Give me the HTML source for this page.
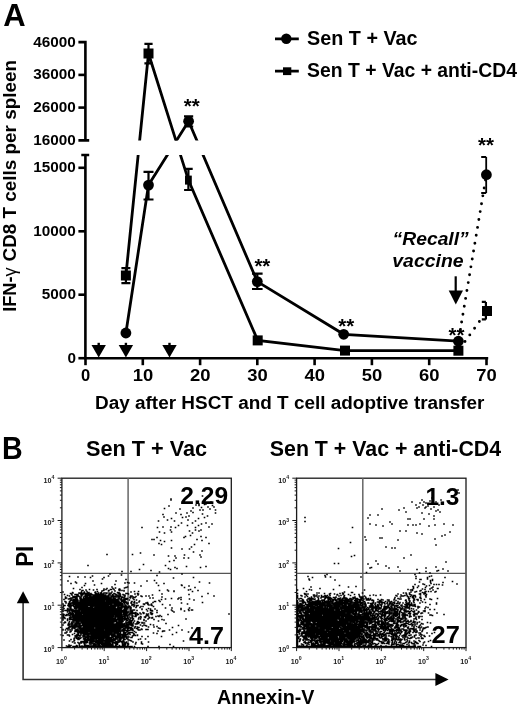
<!DOCTYPE html>
<html><head><meta charset="utf-8"><style>
html,body{margin:0;padding:0;background:#fff;width:520px;height:705px;overflow:hidden}
svg{display:block;will-change:transform;filter:blur(0.4px);font-family:"Liberation Sans",sans-serif}
</style></head><body>
<svg width="520" height="705" viewBox="0 0 520 705">
<rect width="520" height="705" fill="#fff"/>
<g stroke="#000" stroke-width="2.6" fill="none" stroke-linecap="butt"><path d="M78.4 42.1H85.4V140.4M78.4 140.4H89.2"/><path d="M81.3 155.0H89.2M85.4 155.0V358.2"/><path d="M78.4 74.9H85.4"/><path d="M78.4 107.6H85.4"/><path d="M78.4 167.8H85.4"/><path d="M78.4 231.3H85.4"/><path d="M78.4 294.7H85.4"/><path d="M78.4 358.2H85.4"/><path d="M84.10000000000001 358.2H488.2"/><path d="M85.5 358.2V365.2"/><path d="M142.8 358.2V365.2"/><path d="M200.1 358.2V365.2"/><path d="M257.3 358.2V365.2"/><path d="M314.6 358.2V365.2"/><path d="M371.9 358.2V365.2"/><path d="M429.2 358.2V365.2"/><path d="M486.5 358.2V365.2"/></g><g font-weight="bold" font-size="15.3" fill="#000" text-anchor="end"><text x="75.9" y="46.6">46000</text><text x="75.9" y="79.4">36000</text><text x="75.9" y="112.1">26000</text><text x="75.9" y="144.9">16000</text><text x="75.9" y="172.3">15000</text><text x="75.9" y="235.8">10000</text><text x="75.9" y="299.2">5000</text><text x="75.9" y="362.7">0</text></g><g font-weight="bold" font-size="16.5" fill="#000" text-anchor="middle"><text x="85.6" y="381.2">0</text><text x="142.9" y="381.2" textLength="20.5" lengthAdjust="spacingAndGlyphs">10</text><text x="200.2" y="381.2" textLength="20.5" lengthAdjust="spacingAndGlyphs">20</text><text x="257.4" y="381.2" textLength="20.5" lengthAdjust="spacingAndGlyphs">30</text><text x="314.7" y="381.2" textLength="20.5" lengthAdjust="spacingAndGlyphs">40</text><text x="372.0" y="381.2" textLength="20.5" lengthAdjust="spacingAndGlyphs">50</text><text x="429.3" y="381.2" textLength="20.5" lengthAdjust="spacingAndGlyphs">60</text><text x="486.6" y="381.2" textLength="20.5" lengthAdjust="spacingAndGlyphs">70</text></g><defs><clipPath id="cg"><rect x="80" y="20" width="420" height="120.4"/><rect x="80" y="155.0" width="420" height="210"/></clipPath></defs><g stroke="#000" stroke-width="2.8" fill="none" stroke-linejoin="miter" clip-path="url(#cg)"><path d="M125.9 333.0L148.5 185.1L188.6 121.3L257.3 281.6L343.7 334.3L458.4 341.2"/><path d="M125.9 275.5L148.5 53.5L188.4 180.1L257.7 340.4L345.0 350.6L458.4 350.7"/></g><g stroke="#000" stroke-width="2.9" fill="none" stroke-linecap="round"><path d="M460.29 329.96h0M461.62 322.07h0M462.94 314.18h0M464.27 306.29h0M465.60 298.40h0M466.92 290.51h0M468.25 282.62h0M469.58 274.73h0M470.90 266.84h0M472.23 258.95h0M473.56 251.07h0M474.88 243.18h0M476.21 235.29h0M477.54 227.40h0M478.86 219.51h0M480.19 211.62h0M481.52 203.73h0M482.84 195.84h0M484.17 187.95h0M485.50 180.06h0"/><path d="M465.01 341.53h0M469.80 334.88h0M474.59 328.22h0M479.38 321.57h0M484.18 314.92h0"/></g><g stroke="#000" stroke-width="2.2" fill="none"><path d="M148.5 43.9V63.3M144.4 43.9H152.6M144.4 63.3H152.6"/><path d="M148.5 171.9V199.5M143.5 171.9H153.5M143.5 199.5H153.5"/><path d="M188.6 116.3V126.5M184.0 116.3H193.2M184.0 126.5H193.2"/><path d="M188.4 168.8V190.0M184.1 168.8H192.70000000000002M184.1 190.0H192.70000000000002"/><path d="M125.9 268.2V283.1M121.4 268.2H130.4M121.4 283.1H130.4"/><path d="M257.3 273.7V289.0M252.0 273.7H262.6M252.0 289.0H262.6"/><path stroke-width="1.8" d="M486.2 157.0V193.0M481.2 157.0H486.2M481.2 193.0H486.2"/><path d="M485.9 301.9V319.4M481.8 301.9H485.9M481.8 319.4H485.9"/></g><g fill="#000"><circle cx="125.9" cy="333.0" r="5.4"/><circle cx="148.5" cy="185.1" r="5.4"/><circle cx="188.6" cy="121.3" r="5.4"/><circle cx="257.3" cy="281.6" r="5.4"/><circle cx="343.7" cy="334.3" r="5.4"/><circle cx="458.4" cy="341.2" r="5.4"/><circle cx="486.4" cy="174.7" r="5.4"/><rect x="120.9" y="270.5" width="10" height="10"/><rect x="143.5" y="48.5" width="10" height="10"/><rect x="185.0" y="175.6" width="6.8" height="9"/><rect x="252.7" y="335.4" width="10" height="10"/><rect x="340.0" y="345.6" width="10" height="10"/><rect x="453.4" y="345.7" width="10" height="10"/><rect x="482.0" y="306.0" width="10" height="10"/></g><g fill="#000"><path d="M91.5 345.0L105.9 345.0L98.7 357.5Z"/><rect x="97.5" y="342.8" width="2.4" height="2.7"/><path d="M118.7 345.0L133.1 345.0L125.9 357.5Z"/><rect x="124.7" y="342.8" width="2.4" height="2.7"/><path d="M162.3 345.0L176.7 345.0L169.5 357.5Z"/><rect x="168.3" y="342.8" width="2.4" height="2.7"/><rect x="454.6" y="276.3" width="2.2" height="15"/><path d="M448.7 290.4L463.0 290.4L455.8 304.6Z"/></g><g font-weight="bold" font-size="20.5" fill="#000"><text x="183.8" y="112.9">**</text><text x="254.4" y="272.6">**</text><text x="338.3" y="332.9">**</text><text x="448.6" y="342.2">**</text><text x="478.0" y="152.3">**</text></g><g stroke="#000" stroke-width="2.8"><path d="M275 38.8H298.8M275 71.2H298.8"/></g><circle cx="286.3" cy="38.8" r="5.2"/><rect x="283" y="67.3" width="8.3" height="7.8"/><g font-weight="bold" fill="#000"><text x="3.20" y="26.10" font-size="31.0">A</text><text x="2.00" y="458.70" font-size="31.0" textLength="20.66" lengthAdjust="spacingAndGlyphs">B</text><text x="307.10" y="44.70" font-size="19.5" textLength="110.47" lengthAdjust="spacingAndGlyphs">Sen T + Vac</text><text x="307.10" y="77.20" font-size="19.5" textLength="209.85" lengthAdjust="spacingAndGlyphs">Sen T + Vac + anti-CD4</text><text x="392.60" y="244.80" font-size="18.0" font-style="italic" textLength="76.14" lengthAdjust="spacingAndGlyphs">“Recall”</text><text x="392.30" y="266.70" font-size="18.0" font-style="italic" textLength="71.25" lengthAdjust="spacingAndGlyphs">vaccine</text><text transform="translate(16.20 311.80) rotate(-90)" font-size="18.8" textLength="44.46" lengthAdjust="spacingAndGlyphs">IFN-<tspan font-weight="normal" font-size="19">γ</tspan></text><text transform="translate(16.20 261.50) rotate(-90)" font-size="18.8" textLength="201.44" lengthAdjust="spacingAndGlyphs">CD8 T cells per spleen</text><text x="95.00" y="408.60" font-size="18.9" textLength="389.43" lengthAdjust="spacingAndGlyphs">Day after HSCT and T cell adoptive transfer</text><text x="86.10" y="456.40" font-size="21.4" textLength="121.02" lengthAdjust="spacingAndGlyphs">Sen T + Vac</text><text x="269.80" y="456.40" font-size="21.4" textLength="231.33" lengthAdjust="spacingAndGlyphs">Sen T + Vac + anti-CD4</text><text transform="translate(32.60 566.80) rotate(-90)" font-size="23.5" textLength="21.13" lengthAdjust="spacingAndGlyphs">PI</text><text x="217.00" y="703.50" font-size="19.5" textLength="97.46" lengthAdjust="spacingAndGlyphs">Annexin-V</text><text x="180.30" y="504.10" font-size="24.0" textLength="47.79" lengthAdjust="spacingAndGlyphs">2.29</text><text x="189.00" y="643.70" font-size="24.0" textLength="34.95" lengthAdjust="spacingAndGlyphs">4.7</text><text x="425.40" y="504.70" font-size="24.0" textLength="33.95" lengthAdjust="spacingAndGlyphs">1.3</text><text x="431.50" y="643.20" font-size="24.0" textLength="28.33" lengthAdjust="spacingAndGlyphs">27</text></g><g stroke="#333" stroke-width="1.6" fill="none"><path d="M23.1 602L23.1 679.5L436 679.5"/></g><path d="M16.8 603.2L29.4 603.2L23.1 591.2Z"/><path d="M435.4 673L448.6 679.4L435.4 686Z"/><g stroke="#1a1a1a" stroke-width="1.3" fill="none"><rect x="61.9" y="478.2" width="169.4" height="169.4"/><path d="M128.1 478.2V647.6" stroke="#666" stroke-width="1.5"/><path d="M61.9 573.3H231.3" stroke="#555" stroke-width="1.2"/><path d="M57.6 647.6H61.9M61.9 647.6V651.1M59.9 634.9H61.9M74.6 647.6V649.6M59.9 627.4H61.9M82.1 647.6V649.6M59.9 622.1H61.9M87.4 647.6V649.6M59.9 618.0H61.9M91.5 647.6V649.6M59.9 614.6H61.9M94.9 647.6V649.6M59.9 611.8H61.9M97.7 647.6V649.6M59.9 609.4H61.9M100.1 647.6V649.6M59.9 607.2H61.9M102.3 647.6V649.6M57.6 605.2H61.9M104.2 647.6V651.1M59.9 592.5H61.9M117.0 647.6V649.6M59.9 585.0H61.9M124.5 647.6V649.6M59.9 579.8H61.9M129.7 647.6V649.6M59.9 575.6H61.9M133.9 647.6V649.6M59.9 572.3H61.9M137.2 647.6V649.6M59.9 569.5H61.9M140.0 647.6V649.6M59.9 567.0H61.9M142.5 647.6V649.6M59.9 564.8H61.9M144.7 647.6V649.6M57.6 562.9H61.9M146.6 647.6V651.1M59.9 550.2H61.9M159.3 647.6V649.6M59.9 542.7H61.9M166.8 647.6V649.6M59.9 537.4H61.9M172.1 647.6V649.6M59.9 533.3H61.9M176.2 647.6V649.6M59.9 529.9H61.9M179.6 647.6V649.6M59.9 527.1H61.9M182.4 647.6V649.6M59.9 524.7H61.9M184.8 647.6V649.6M59.9 522.5H61.9M187.0 647.6V649.6M57.6 520.5H61.9M189.0 647.6V651.1M59.9 507.8H61.9M201.7 647.6V649.6M59.9 500.3H61.9M209.2 647.6V649.6M59.9 495.1H61.9M214.4 647.6V649.6M59.9 490.9H61.9M218.6 647.6V649.6M59.9 487.6H61.9M221.9 647.6V649.6M59.9 484.8H61.9M224.7 647.6V649.6M59.9 482.3H61.9M227.2 647.6V649.6M59.9 480.1H61.9M229.4 647.6V649.6M57.6 478.2H61.9M231.3 647.6V651.1" stroke-width="1"/></g><g font-weight="bold" font-size="7.2" fill="#222"><text x="43.5" y="652.2">10<tspan font-size="5.2" dy="-3.6">0</tspan></text><text x="56.1" y="664.0">10<tspan font-size="5.2" dy="-3.6">0</tspan></text><text x="43.5" y="609.9">10<tspan font-size="5.2" dy="-3.6">1</tspan></text><text x="98.5" y="664.0">10<tspan font-size="5.2" dy="-3.6">1</tspan></text><text x="43.5" y="567.5">10<tspan font-size="5.2" dy="-3.6">2</tspan></text><text x="140.8" y="664.0">10<tspan font-size="5.2" dy="-3.6">2</tspan></text><text x="43.5" y="525.1">10<tspan font-size="5.2" dy="-3.6">3</tspan></text><text x="183.2" y="664.0">10<tspan font-size="5.2" dy="-3.6">3</tspan></text><text x="43.5" y="482.8">10<tspan font-size="5.2" dy="-3.6">4</tspan></text><text x="225.5" y="664.0">10<tspan font-size="5.2" dy="-3.6">4</tspan></text></g><path stroke="#000" stroke-width="1.6" stroke-linecap="square" fill="none" d="M202.5 496h0m-31.5 4h0m0 -1h0m26 4h0m8 -3h0m6 2h0m-46.5 6.5h0m4.5 -2.5h0m11 3h0m13 -1h0m3 -3h0m3 -1h0m0 1.5h0m2.5 2h0m3 -3h0m1.5 -0.5h0m2 3h0m2 2h0m2.5 -3.5h0m1.5 1.5h0m-51 7.5h0m13 -1.5h0m5 1.5h0m6 -1.5h0m4 -2h0m2 1.5h0m7 -2.5h0m2.5 4h0m0.5 -4h0m12.5 3h0m0 -3h0m-57 11h0m5.5 -4h0m3.5 3h0m4 -1.5h0m3 2.5h0m8 -3.5h0m3.5 -0.5h0m2 3h0m1 -4h0m6.5 5h0m3 -2.5h0m6 -1h0m3 -1.5h0m-65.5 11.5h0m15.5 0h0m5.5 -0.5h0m8 0h0m4.5 0.5h0m3 -2h0m3 -2.5h0m6 2.5h0m5 -2.5h0m3 4.5h0m3 -2h0m3 -1.5h0m4.5 -1h0m3 4h0m3 -3h0m-52.5 8h0m5 1h0m6 -3h0m1 2h0m18 -1h0m3 2h0m3 -3h0m3.5 1h0m2 -1h0m-49 9.5h0m2 0h0m3 -2h0m27 0h0m1.5 -1h0m5 -1h0m6.5 4h0m4 -3h0m5 1h0m-47 6h0m1.5 -3h0m1 4h0m3 -3h0m7 -1h0m23 4h0m7.5 -4h0m7 3h0m-37.5 4.5h0m10.5 1h0m7.5 0h0m2 -2h0m10.5 4h0m-95 3.5h0m25.5 0h0m8 -1.5h0m13.5 2h0m14.5 1h0m6.5 0h0m9.5 -1h0m9 -3h0m6.5 3h0m1 2h0m-31.5 4.5h0m4.5 -1h0m2 -2.5h0m8 0h0m4.5 0h0m-100.5 7.5h0m51.5 4h0m4 -5h0m22 1h0m3 3h0m2 1h0m4.5 -2h0m2 1h0m9.5 -2h0m14 1h0m5.5 -1h0m-96 7.5h0m11.5 1h0m0.5 -3.5h0m9 0h0m20 -1h0m6 5h0m2.5 -3.5h0m22.5 2h0m-114 7h0m1.5 -4.5h0m8.5 0.5h0m7 0h0m5.5 0.5h0m2 -1.5h0m0.5 5h0m9.5 -2h0m1.5 -1.5h0m4.5 -1.5h0m7.5 5h0m10 -1.5h0m21 1.5h0m7.5 -0.5h0m19 -2.5h0m20 -0.5h0m-122.5 6h0m4.5 -1.5h0m1 1h0m5.5 4.5h0m2.5 -2h0m1 -2h0m9 1.5h0m7 -1.5h0m10.5 3.5h0m3 -2.5h0m10 -1.5h0m1 4.5h0m1.5 -0.5h0m0 -4.5h0m1.5 0.5h0m5.5 0h0m6.5 3h0m15.5 -3h0m2 2.5h0m5.5 -2h0m17.5 1.5h0m0.5 0.5h0m2.5 2h0m4.5 -1.5h0m6 1.5h0m4.5 -5.5h0m10 1h0m-146.5 9h0m7.5 1.5h0m2 -1h0m0.5 0.5h0m0.5 -4.5h0m5.5 4.5h0m1 -3.5h0m0 4h0m0.5 -0.5h0m1 0.5h0m0 -1.5h0m0.5 -1.5h0m0 3h0m1 -3h0m0.5 2.5h0m0.5 0.5h0m0.5 -1.5h0m0.5 1.5h0m1 -3.5h0m0 3.5h0m0.5 0h0m0.5 -2h0m0.5 1.5h0m0.5 0.5h0m1 0h0m0 -0.5h0m0 -0.5h0m0.5 -3h0m1.5 4h0m2.5 -3.5h0m1.5 2.5h0m0.5 1h0m0 -1.5h0m1 1.5h0m0.5 -4h0m0.5 2h0m1 1.5h0m2 0h0m1 -0.5h0m0.5 -1.5h0m1.5 -0.5h0m0.5 -1.5h0m0 1h0m0 3h0m1.5 0h0m0.5 -3.5h0m0.5 4h0m0.5 -5h0m0 4.5h0m1.5 -2h0m0 -0.5h0m0.5 0h0m0 2.5h0m1.5 -3.5h0m0.5 3.5h0m0 0.5h0m0.5 -4h0m0.5 2.5h0m1 -3.5h0m1 1h0m0 4h0m0.5 0h0m0.5 -2.5h0m0.5 -3h0m2 4.5h0m0.5 0.5h0m0.5 0h0m0.5 -3.5h0m0 3h0m0 -2.5h0m0.5 -1h0m0.5 0.5h0m0 1h0m0 3h0m2 -3h0m2 0h0m0 0.5h0m0.5 -3h0m1.5 5.5h0m1.5 0h0m3.5 -1.5h0m3.5 -0.5h0m3 2h0m1 -2h0m21 -1h0m8 -0.5h0m1 1h0m5.5 0.5h0m0 -0.5h0m14.5 -1h0m2 -0.5h0m2 2h0m5.5 -1h0m10 3h0m-144 6h0m0.5 -5h0m1 2.5h0m0 1.5h0m1 -0.5h0m1 -2.5h0m1 3.5h0m0.5 0h0m0.5 -3h0m0.5 2.5h0m1 -0.5h0m0 1h0m0.5 -5h0m0.5 1h0m0.5 3h0m0.5 -1.5h0m0.5 1h0m0 2h0m0.5 -3h0m0.5 1h0m0 2h0m0.5 -5h0m0.5 4.5h0m0 -2.5h0m0 1.5h0m0.5 -3.5h0m0 2.5h0m0 2h0m0.5 -2.5h0m0 2h0m0 1h0m0 -0.5h0m0.5 -4.5h0m0 1.5h0m0 2h0m0 -0.5h0m0 2h0m0.5 -3.5h0m0 3.5h0m0 -4h0m0.5 -1h0m0 0.5h0m0.5 1h0m0.5 0.5h0m1 0.5h0m0 1.5h0m0.5 1h0m0.5 -1h0m0 -1h0m0 -2.5h0m0.5 4.5h0m0 -0.5h0m0 -5h0m0 2h0m0.5 -1h0m0 4.5h0m0.5 -4.5h0m0.5 -0.5h0m0.5 3h0m0 -0.5h0m0 2h0m1 -0.5h0m0.5 -4.5h0m0 2.5h0m0 -0.5h0m0 3.5h0m0.5 -4h0m0 0.5h0m0 2h0m0 0.5h0m0 1h0m0 -0.5h0m0.5 0h0m0.5 -4.5h0m0 3.5h0m0 -1h0m0 2h0m0.5 -3.5h0m0 3h0m0 -0.5h0m0 -1h0m0.5 -0.5h0m0 -0.5h0m0 -1h0m0 3.5h0m0 -1.5h0m0 2.5h0m0.5 -1h0m0 -1h0m0.5 -3h0m0 1h0m0 3.5h0m1 -1h0m0 -0.5h0m0 -0.5h0m0 -3h0m0 0.5h0m0.5 1.5h0m0 2.5h0m0 -1.5h0m0 0.5h0m0 1.5h0m0.5 -1h0m0 1h0m0.5 -3h0m0 0.5h0m0 -1.5h0m0 4.5h0m0.5 -5h0m0 3.5h0m0 0.5h0m0.5 -0.5h0m0 1h0m0 0.5h0m0 -5h0m0 4h0m0.5 -1.5h0m0 1.5h0m0.5 -3.5h0m0 1h0m0 1h0m0.5 0.5h0m0 -1h0m0 3h0m0 -0.5h0m0.5 -1.5h0m0 -0.5h0m0 -2h0m0 3h0m0 0.5h0m0.5 0.5h0m0 0.5h0m0 -4h0m0 2.5h0m0.5 -2.5h0m0 3h0m0 -0.5h0m0 -0.5h0m0.5 1.5h0m0 0.5h0m0 -4.5h0m0 1h0m0 2.5h0m0 -0.5h0m0.5 -1h0m0 2.5h0m0.5 -1.5h0m0 -1.5h0m0.5 -1.5h0m0 3h0m0.5 -2h0m0 2h0m0 0.5h0m0.5 -1h0m0 1.5h0m0 -5h0m0.5 5.5h0m0 -4h0m0 -1h0m0 2.5h0m0 0.5h0m0 -1h0m0.5 -1h0m0 4h0m0.5 -5h0m0 1.5h0m0 3h0m0.5 -2h0m0 0.5h0m0.5 -3.5h0m0 2h0m0 2.5h0m0 -1.5h0m0 2h0m0.5 -4.5h0m0 1h0m0 1.5h0m0 2.5h0m0.5 -5.5h0m0 2h0m0 0.5h0m0 2h0m0.5 0.5h0m0.5 -5h0m0 0.5h0m0 3h0m0 -0.5h0m0.5 2h0m0 0.5h0m0 -4.5h0m0 0.5h0m0 1.5h0m0.5 -3h0m0 2.5h0m0 2h0m0.5 0h0m0 -1h0m0 -0.5h0m0 2.5h0m0.5 -4.5h0m0 2.5h0m0 2h0m0 -0.5h0m0.5 -3h0m0 2.5h0m0 -0.5h0m0 -0.5h0m0 2h0m0.5 -4.5h0m0 1h0m0 2h0m0 1.5h0m0.5 -1h0m0 -0.5h0m0.5 -2h0m0 2.5h0m0 -1.5h0m0.5 1.5h0m0 -0.5h0m0 -1h0m0 0.5h0m0.5 0.5h0m0 1h0m0 -0.5h0m0.5 -0.5h0m0 1h0m0 -3h0m0.5 1.5h0m0 -2.5h0m0.5 0.5h0m0 2h0m0 -0.5h0m0 2.5h0m0 -0.5h0m0.5 -1h0m0 -4h0m0.5 0.5h0m0 -0.5h0m0 4.5h0m0 1h0m0.5 -1.5h0m0.5 0.5h0m0 -1h0m0 2h0m0 -3.5h0m0.5 1h0m0 2.5h0m0 -0.5h0m0.5 -2h0m0.5 2h0m0 -3.5h0m0 -1h0m0 1.5h0m0.5 -1h0m0 2h0m0.5 0.5h0m0.5 0.5h0m0 0.5h0m0 -2.5h0m0.5 0.5h0m0.5 -2.5h0m0 2.5h0m0 2h0m0.5 0.5h0m0.5 -4.5h0m0 1h0m0 1.5h0m0 2.5h0m0.5 -4.5h0m0.5 4.5h0m0 -4.5h0m0.5 2h0m0.5 -1.5h0m0 3.5h0m0 0.5h0m0.5 -3h0m0.5 -2.5h0m0 2h0m0 2h0m0.5 -4h0m0 3h0m0 2h0m0.5 -2.5h0m0 -1.5h0m0 4h0m0.5 -2.5h0m0 -1.5h0m0 0.5h0m0.5 3.5h0m0.5 -1h0m0 1.5h0m0.5 -2.5h0m0.5 0h0m0.5 -2.5h0m0 3h0m0.5 -2.5h0m0.5 4h0m0.5 -4h0m0 2h0m0.5 -1.5h0m0 3h0m0 0.5h0m0 -3h0m0.5 3.5h0m0 -1h0m1.5 0h0m0 0.5h0m0 0.5h0m0.5 -1h0m1 -4.5h0m1.5 3.5h0m0.5 -1.5h0m0 2h0m0.5 -1h0m1 -1h0m1 2.5h0m0 -1.5h0m0.5 0h0m0.5 2.5h0m1 -5.5h0m0 3.5h0m1 -1h0m2 -1.5h0m0.5 -1h0m2.5 2h0m1 0.5h0m4 -0.5h0m3 0h0m1 2h0m2.5 -3h0m0.5 3h0m8.5 1.5h0m0.5 -2.5h0m0 -3h0m3.5 5h0m6 -0.5h0m6.5 0.5h0m1 -1h0m2 1.5h0m0 -2h0m8 -3h0m0.5 4.5h0m12.5 -2.5h0m12 -0.5h0m-151 8h0m1 1.5h0m1 -4h0m0 4h0m1 -2.5h0m0 -1h0m2 3.5h0m0.5 0h0m0 -1.5h0m0 -0.5h0m0.5 0h0m0.5 -1.5h0m0 2h0m0 -2.5h0m0.5 3.5h0m0 -3.5h0m0 2h0m0.5 -3h0m0 3h0m0.5 0.5h0m0 1.5h0m0 -5h0m0.5 2.5h0m0.5 2.5h0m0 -5.5h0m0.5 2.5h0m0.5 1.5h0m0 0.5h0m0 -3.5h0m0 -1h0m0 3.5h0m0 -0.5h0m0.5 -2.5h0m0 0.5h0m0 2h0m0 -0.5h0m0 2h0m0.5 0h0m0 -3.5h0m0.5 3.5h0m0 -4h0m0.5 -0.5h0m0 3.5h0m0 -1h0m0 -0.5h0m0.5 -0.5h0m0 -1h0m0 -0.5h0m0 3.5h0m0 -0.5h0m0 -1h0m0 3.5h0m0 -1h0m0.5 -0.5h0m0 -0.5h0m0.5 -1h0m0 -0.5h0m0 3.5h0m0.5 0h0m0 -1h0m0 -4h0m0 1h0m0 2h0m0.5 -3h0m0 1h0m0.5 -0.5h0m0 -0.5h0m0 2.5h0m0 -0.5h0m0 -0.5h0m0 3h0m0 -0.5h0m0.5 -2h0m0 2.5h0m0.5 -1.5h0m0 -1h0m0 3h0m0.5 -1.5h0m0.5 -3.5h0m0 0.5h0m0 2h0m0 -1h0m0 3h0m0 -0.5h0m0.5 -3.5h0m0 0.5h0m0 2.5h0m0 0.5h0m0.5 -4h0m0 2.5h0m0 0.5h0m0 -1.5h0m0 2h0m0 0.5h0m0.5 -2h0m0 -0.5h0m0 -1h0m0 0.5h0m0 2h0m0 1h0m0.5 -2h0m0 2h0m0.5 -1h0m0 -1.5h0m0 2h0m0 -3.5h0m0 0.5h0m0.5 -0.5h0m0 1.5h0m0 3.5h0m0 -1.5h0m0 0.5h0m0.5 -2.5h0m0 0.5h0m0 3h0m0 -1.5h0m0 -3.5h0m0.5 0h0m0 3h0m0 -0.5h0m0.5 -2.5h0m0 1.5h0m0 2.5h0m0 -1h0m0 2h0m0.5 -2h0m0 -1h0m0.5 1h0m0 -0.5h0m0 2h0m0 -0.5h0m0 -4.5h0m0 2.5h0m0 -1h0m0 -0.5h0m0.5 2h0m0 0.5h0m0 2h0m0 -0.5h0m0 -0.5h0m0 -4h0m0.5 0.5h0m0 4h0m0 -4.5h0m0 -0.5h0m0 2.5h0m0.5 1.5h0m0 -2.5h0m0 -0.5h0m0 -1h0m0 0.5h0m0 2h0m0.5 -1.5h0m0 1h0m0 0.5h0m0 2.5h0m0 0.5h0m0.5 -3h0m0 3h0m0 -0.5h0m0 -1h0m0 -2.5h0m0 -1.5h0m0.5 4.5h0m0 -0.5h0m0 -2.5h0m0 1.5h0m0 -0.5h0m0 -0.5h0m0 3h0m0 0.5h0m0.5 -5h0m0 -0.5h0m0 1.5h0m0 1.5h0m0 0.5h0m0 1.5h0m0 0.5h0m0 -1.5h0m0.5 -3.5h0m0 -0.5h0m0 1.5h0m0 2h0m0 2h0m0 -0.5h0m0 -0.5h0m0.5 -0.5h0m0 -4h0m0 0.5h0m0 2.5h0m0 -0.5h0m0 3h0m0.5 -3h0m0 -0.5h0m0 1h0m0 2.5h0m0 -1.5h0m0.5 -2h0m0 0.5h0m0 2.5h0m0 -1h0m0 -3.5h0m0.5 4h0m0 -0.5h0m0 -4h0m0 2.5h0m0 -1h0m0 1.5h0m0 0.5h0m0 2h0m0.5 -5h0m0 1.5h0m0 3.5h0m0 -1h0m0.5 -4h0m0 -0.5h0m0 1.5h0m0 1.5h0m0 -0.5h0m0 -0.5h0m0 3h0m0 -1h0m0 0.5h0m0.5 0.5h0m0 -1h0m0 -2.5h0m0.5 3h0m0 -2.5h0m0 1.5h0m0 1.5h0m0.5 -4.5h0m0 1h0m0 0.5h0m0 0.5h0m0 2.5h0m0 -1h0m0.5 -3h0m0 2h0m0 -1h0m0 0.5h0m0.5 -2.5h0m0 1.5h0m0 1.5h0m0 2.5h0m0 -0.5h0m0.5 -5h0m0 1h0m0 0.5h0m0 2h0m0 -1.5h0m0 0.5h0m0 3h0m0.5 -5.5h0m0 1h0m0 1h0m0 3h0m0 -0.5h0m0.5 -3h0m0 -0.5h0m0 2.5h0m0 1.5h0m0 -1h0m0.5 -3.5h0m0 4.5h0m0 -1h0m0.5 -4h0m0 1h0m0 0.5h0m0 1.5h0m0 2h0m0 -1h0m0 0.5h0m0.5 -4h0m0 -0.5h0m0 2.5h0m0 -0.5h0m0 3h0m0 -1h0m0.5 -4h0m0 0.5h0m0 1.5h0m0 -1h0m0 2h0m0 1h0m0 0.5h0m0.5 -3.5h0m0 0.5h0m0 -1h0m0 2.5h0m0 2h0m0 0.5h0m0 -1.5h0m0 0.5h0m0.5 -1.5h0m0 2h0m0 0.5h0m0 -1.5h0m0 -4h0m0 1h0m0.5 0.5h0m0 1h0m0 -0.5h0m0 3h0m0 0.5h0m0 -1.5h0m0 0.5h0m0 -4.5h0m0 0.5h0m0.5 0.5h0m0 2h0m0 0.5h0m0 -1h0m0 2.5h0m0 0.5h0m0 -1.5h0m0 0.5h0m0 -4h0m0.5 2.5h0m0 -1h0m0 0.5h0m0 2h0m0 -4.5h0m0 1.5h0m0 -0.5h0m0.5 4h0m0 -0.5h0m0 -4h0m0 1h0m0 2h0m0.5 -2.5h0m0 1h0m0 0.5h0m0 2.5h0m0 -1h0m0 0.5h0m0.5 -1.5h0m0 -2h0m0.5 1.5h0m0 0.5h0m0 2.5h0m0 -1h0m0.5 -0.5h0m0 0.5h0m0 -4.5h0m0 0.5h0m0 1.5h0m0.5 3.5h0m0 -0.5h0m0 -0.5h0m0 -0.5h0m0 -2.5h0m0 -1h0m0 -0.5h0m0 3.5h0m0 -0.5h0m0.5 1.5h0m0 -4h0m0 1h0m0 2h0m0 -1.5h0m0 3.5h0m0.5 0h0m0 -0.5h0m0 -5h0m0.5 4h0m0 -1h0m0 0.5h0m0 2h0m0.5 -1h0m0 -4.5h0m0 3h0m0 0.5h0m0 -1.5h0m0 0.5h0m0 3h0m0.5 -5h0m0 -0.5h0m0 2h0m0 0.5h0m0 -1h0m0 3.5h0m0 0.5h0m0 -1.5h0m0.5 -2h0m0 0.5h0m0 3h0m0 -1.5h0m0 -3.5h0m0 -0.5h0m0 1h0m0 2h0m0.5 1h0m0 -4h0m0 0.5h0m0 2h0m0 -0.5h0m0 -1h0m0 2.5h0m0 1.5h0m0 0.5h0m0.5 -4h0m0 -1.5h0m0 0.5h0m0 3h0m0 -1h0m0 3h0m0 -1.5h0m0 0.5h0m0.5 -4.5h0m0 3h0m0 2h0m0 -0.5h0m0.5 -4.5h0m0 4h0m0 0.5h0m0.5 -4.5h0m0 0.5h0m0 2h0m0 -1.5h0m0 3.5h0m0 -1h0m0.5 0.5h0m0 -3h0m0 2h0m0.5 -0.5h0m0 2h0m0 -0.5h0m0 -0.5h0m0 2h0m0 -0.5h0m0.5 -4.5h0m0 1h0m0 -0.5h0m0 2.5h0m0 -1.5h0m0 3.5h0m0 -1h0m0 -0.5h0m0.5 -1.5h0m0 -0.5h0m0 -1h0m0 4h0m0.5 -5h0m0 2.5h0m0 -0.5h0m0 3.5h0m0 -1h0m0 -0.5h0m0.5 -2h0m0 1h0m0 2.5h0m0.5 -4.5h0m0 -0.5h0m0 2.5h0m0 -1h0m0 3.5h0m0.5 -2.5h0m0 -0.5h0m0 -2.5h0m0.5 0.5h0m0 -0.5h0m0 2h0m0 -0.5h0m0 2h0m0 1.5h0m0 -0.5h0m0.5 -4h0m0 4h0m0 -0.5h0m0 -1h0m0 0.5h0m0 1.5h0m0.5 -3.5h0m0 4h0m0 -1.5h0m0.5 -0.5h0m0 -1.5h0m0 2h0m0 -3h0m0 0.5h0m0.5 -0.5h0m0 1h0m0 3h0m0.5 -2h0m0 0.5h0m0 1.5h0m0 -0.5h0m0 -2h0m0.5 -1.5h0m0 2.5h0m0 1h0m0.5 -3.5h0m0 0.5h0m0 -1h0m0.5 0.5h0m0 4.5h0m0 -3.5h0m0.5 1h0m0 2.5h0m0 -1h0m0 -2.5h0m0 -0.5h0m0.5 0.5h0m0 -1h0m0 2.5h0m0 1.5h0m0 -1h0m0 0.5h0m0.5 -1.5h0m0 -0.5h0m0.5 1h0m0 -0.5h0m0 -0.5h0m0.5 1h0m0 1.5h0m0 0.5h0m0.5 -3h0m0 2.5h0m0 -1h0m0 -4h0m0 3h0m0.5 1.5h0m0 -4.5h0m0 1h0m0 4h0m0.5 -3.5h0m0 2h0m0.5 0.5h0m0 -0.5h0m0 -3h0m0.5 5h0m0 -0.5h0m0 -5h0m0.5 0h0m0 0.5h0m0 1.5h0m0 -0.5h0m0.5 -1.5h0m0 2.5h0m0.5 -0.5h0m0 0.5h0m0 1h0m0.5 -1.5h0m0 -1h0m0 4.5h0m0 -0.5h0m0.5 -2.5h0m0 2.5h0m1 -3h0m0 0.5h0m0 0.5h0m0.5 0.5h0m0.5 0.5h0m0.5 -0.5h0m0 -0.5h0m1.5 -3h0m1.5 3h0m0.5 -1h0m0 1h0m0.5 2.5h0m0 -4h0m0 3h0m1.5 0h0m0.5 1h0m0 -3h0m0.5 -1h0m0 1.5h0m0 2h0m2 -2h0m0 2.5h0m0 -5.5h0m0.5 3h0m1 2.5h0m1 -3.5h0m0.5 -1h0m4 3h0m1 0h0m0 0.5h0m1.5 -1.5h0m1.5 -0.5h0m0 1h0m0.5 1h0m0 -1h0m1 1.5h0m2 0h0m0.5 -1h0m0.5 1.5h0m1 -3h0m1.5 -1h0m1 0h0m3.5 -1h0m1 1h0m2.5 3h0m7.5 0.5h0m11.5 -2h0m6 1h0m6.5 -4h0m8.5 2.5h0m-139.5 8h0m0 -3h0m0 2h0m0 2h0m0.5 -5.5h0m0.5 2.5h0m1 2h0m1 0h0m1 0h0m0.5 -1.5h0m0.5 -0.5h0m0 1.5h0m0 -1h0m1 2h0m0 -4.5h0m0.5 -0.5h0m0 0.5h0m0 3.5h0m0 1h0m0.5 -5h0m0 2.5h0m0 -1h0m0 1.5h0m0.5 -0.5h0m0 -1.5h0m0 3h0m0.5 -3h0m0 3h0m0.5 -1h0m0 2h0m0.5 -0.5h0m0 -1h0m0.5 1h0m0.5 0.5h0m0 0.5h0m0.5 -5.5h0m0 4h0m0 1h0m0 0.5h0m0.5 -5h0m0 5h0m0.5 -3h0m0 -0.5h0m0 3h0m0 0.5h0m0.5 -4.5h0m0 3.5h0m0 -2h0m0.5 -2h0m0 2h0m0 -1h0m0.5 0h0m0 -1.5h0m0 2h0m0 1h0m0 2h0m0.5 -2.5h0m0 2h0m0 -3.5h0m0.5 0h0m0 -0.5h0m0 5h0m0.5 -4h0m0 3.5h0m0.5 -3.5h0m0 2.5h0m0 0.5h0m0 0.5h0m0 -4.5h0m0 1.5h0m0.5 2.5h0m0 -3h0m0 -0.5h0m0.5 1.5h0m0 -1h0m0 2.5h0m0 0.5h0m0 -1h0m0.5 0.5h0m0 0.5h0m0 1h0m0 -5.5h0m0.5 3.5h0m0 -3.5h0m0 2.5h0m0.5 0.5h0m0 0.5h0m0 -2.5h0m0 0.5h0m0 -1h0m0 -0.5h0m0 2h0m0 2h0m0.5 -2h0m0 0.5h0m0 1h0m0 -3.5h0m0.5 5.5h0m0 -5.5h0m0 3.5h0m0 -1h0m0 -0.5h0m0.5 0h0m0 -0.5h0m0 3h0m0 -0.5h0m0 -1h0m0 0.5h0m0 1.5h0m0.5 -4.5h0m0 -0.5h0m0 1.5h0m0 1.5h0m0 2.5h0m0.5 -5h0m0 2h0m0 1.5h0m0 -1h0m0 0.5h0m0.5 -2.5h0m0 0.5h0m0 -1h0m0 -0.5h0m0 4.5h0m0 -0.5h0m0 1h0m0.5 0.5h0m0 -0.5h0m0 -4.5h0m0 -0.5h0m0 2h0m0 -0.5h0m0 3h0m0.5 0h0m0 -0.5h0m0 -3h0m0 -0.5h0m0 3h0m0 -1.5h0m0 0.5h0m0 3h0m0 -0.5h0m0.5 -4h0m0 -0.5h0m0 3.5h0m0 0.5h0m0 -1.5h0m0 2.5h0m0.5 -4.5h0m0 1h0m0 2h0m0 0.5h0m0 -1h0m0 1.5h0m0.5 0h0m0 -3.5h0m0 -1h0m0 2h0m0 0.5h0m0.5 0.5h0m0 -1.5h0m0 0.5h0m0 2.5h0m0 0.5h0m0.5 -3h0m0 -1h0m0 2.5h0m0 -0.5h0m0.5 -3h0m0 2h0m0 -1h0m0 3h0m0 -1h0m0 2h0m0.5 -3.5h0m0 2.5h0m0 -1.5h0m0 0.5h0m0 2h0m0.5 -2.5h0m0 0.5h0m0 1.5h0m0.5 -2.5h0m0 -1h0m0 3.5h0m0 0.5h0m0.5 -2h0m0 1.5h0m0 0.5h0m0 -4h0m0.5 0.5h0m0 0.5h0m0 2h0m0 -1h0m0 1.5h0m0.5 -4.5h0m0 4h0m0 -1h0m0.5 -2.5h0m0 -1h0m0 2.5h0m0 1.5h0m0 0.5h0m0 -1h0m0.5 -2.5h0m0 -1h0m0 0.5h0m0 2.5h0m0 0.5h0m0 1h0m0 1h0m0.5 -3.5h0m0 -0.5h0m0 -1.5h0m0.5 1h0m0 3.5h0m0 1h0m0 -0.5h0m0 -4.5h0m0 2h0m0.5 -2.5h0m0 0.5h0m0 2h0m0 2h0m0 -1.5h0m0.5 -3h0m0 3.5h0m0 -1h0m0 2h0m0.5 -0.5h0m0 0.5h0m0 -1h0m0 2h0m0 -3h0m0.5 0.5h0m0 2.5h0m0 -5.5h0m0 2h0m0 0.5h0m0 2h0m0.5 -2h0m0 1.5h0m0 -1h0m0 0.5h0m0 1.5h0m0 -4h0m0 0.5h0m0 -1h0m0.5 3.5h0m0 0.5h0m0 -1h0m0 -0.5h0m0 2h0m0 0.5h0m0 -4.5h0m0 0.5h0m0 -1.5h0m0 2h0m0.5 -2h0m0 0.5h0m0 1.5h0m0 0.5h0m0 1.5h0m0 -1h0m0.5 -0.5h0m0 1h0m0 1.5h0m0 0.5h0m0 -4h0m0 -0.5h0m0 -1h0m0 0.5h0m0.5 3.5h0m0 0.5h0m0 -1h0m0 2h0m0 -4h0m0 -0.5h0m0 -1h0m0 2.5h0m0.5 2h0m0 1h0m0 -5.5h0m0 0.5h0m0 2.5h0m0 -0.5h0m0.5 2h0m0 0.5h0m0 -4.5h0m0 -0.5h0m0.5 4h0m0 0.5h0m0 0.5h0m0 -3.5h0m0 -0.5h0m0 -1h0m0.5 0.5h0m0 1.5h0m0 -0.5h0m0 2h0m0.5 -3h0m0 1.5h0m0 0.5h0m0 1.5h0m0 -0.5h0m0 -0.5h0m0 2.5h0m0.5 -0.5h0m0 0.5h0m0 -5h0m0 1.5h0m0 0.5h0m0 -1h0m0 3h0m0 -1h0m0 -0.5h0m0.5 2.5h0m0 -4.5h0m0 0.5h0m0 -1.5h0m0 0.5h0m0 3.5h0m0 0.5h0m0 -1.5h0m0.5 -1.5h0m0 0.5h0m0 1.5h0m0 -0.5h0m0 2h0m0 0.5h0m0.5 -4.5h0m0 2h0m0 0.5h0m0 -1h0m0 -0.5h0m0 3.5h0m0.5 -4.5h0m0 -0.5h0m0 1.5h0m0 1h0m0.5 -2.5h0m0 3h0m0 -1.5h0m0 2.5h0m0.5 -1h0m0 -0.5h0m0 2.5h0m0 -0.5h0m0 -3.5h0m0 -1.5h0m0 4h0m0.5 0h0m0 -2.5h0m0 -0.5h0m0 -1h0m0 0.5h0m0 2h0m0 -0.5h0m0 2.5h0m0.5 -2.5h0m0 -1h0m0 0.5h0m0 3h0m0 1h0m0.5 -4.5h0m0 0.5h0m0 -1h0m0 -0.5h0m0 3h0m0 2.5h0m0 -0.5h0m0.5 -5h0m0 0.5h0m0 1.5h0m0 0.5h0m0 -1h0m0 -0.5h0m0 4h0m0 0.5h0m0.5 -4.5h0m0 -1h0m0 0.5h0m0 3h0m0 -1h0m0 2.5h0m0 -0.5h0m0.5 -3h0m0 -1h0m0 -0.5h0m0 2h0m0 0.5h0m0 2h0m0 -0.5h0m0 -1h0m0.5 -2.5h0m0 1.5h0m0 2.5h0m0 -0.5h0m0 -1h0m0 2h0m0 0.5h0m0.5 -3h0m0 -0.5h0m0 2.5h0m0 0.5h0m0.5 -3.5h0m0 -1.5h0m0 3h0m0 -1h0m0 2.5h0m0 0.5h0m0.5 -3.5h0m0 -0.5h0m0 3.5h0m0 -0.5h0m0 1h0m0 -4.5h0m0 2h0m0.5 1.5h0m0 -0.5h0m0 -2.5h0m0 -0.5h0m0 -0.5h0m0 2.5h0m0.5 0h0m0 -0.5h0m0 2.5h0m0 -1h0m0 -0.5h0m0 2.5h0m0 -0.5h0m0.5 -1.5h0m0 -1.5h0m0 0.5h0m0 1.5h0m0 0.5h0m0 1h0m0 -4.5h0m0.5 0.5h0m0 -0.5h0m0 -0.5h0m0 2.5h0m0 -1h0m0 2.5h0m0 1h0m0.5 -4.5h0m0 0.5h0m0 -1h0m0 2h0m0 3h0m0 -1h0m0.5 -2.5h0m0 2.5h0m0 -1h0m0 2h0m0 -4h0m0 -1h0m0.5 3.5h0m0 -1h0m0 2h0m0 0.5h0m0 -4h0m0 -0.5h0m0 -0.5h0m0 -0.5h0m0.5 2h0m0 1h0m0 2h0m0.5 -3h0m0 2h0m0 1h0m0 0.5h0m0 -4.5h0m0 -1h0m0 3.5h0m0.5 2h0m0 -5h0m0 -0.5h0m0 2.5h0m0 -0.5h0m0 2h0m0 -0.5h0m0 -0.5h0m0.5 -3h0m0 0.5h0m0 2h0m0 -0.5h0m0 -0.5h0m0 3.5h0m0 0.5h0m0.5 -3.5h0m0 2.5h0m0 1h0m0 -5.5h0m0 3.5h0m0.5 1h0m0 0.5h0m0 -4h0m0 -1h0m0 3.5h0m0 -1.5h0m0 0.5h0m0.5 -2.5h0m0 1.5h0m0 3.5h0m0.5 -5h0m0 0.5h0m0 2h0m0 1.5h0m0 -0.5h0m0 1.5h0m0.5 -5h0m0.5 0h0m0 3.5h0m0.5 -0.5h0m0 2.5h0m0 -0.5h0m0 -0.5h0m0.5 0.5h0m0 -2h0m0 -1h0m0 2.5h0m0.5 0.5h0m0 -4h0m0 3.5h0m0 -0.5h0m0 -0.5h0m0.5 -2.5h0m0 2h0m0 2h0m0.5 -5h0m0 3h0m0 -0.5h0m0 -0.5h0m0 2.5h0m0.5 1h0m0 -0.5h0m0 -3.5h0m0 2h0m0.5 -1h0m0 -1h0m0 2.5h0m0 -0.5h0m0 2h0m0 -0.5h0m0.5 -3.5h0m0 1.5h0m0 2h0m0 0.5h0m0.5 -4.5h0m0 -0.5h0m0 2h0m0 2h0m0 0.5h0m0 0.5h0m0.5 -5.5h0m0 2.5h0m0 0.5h0m0.5 -2.5h0m0 -0.5h0m0 2h0m0.5 2.5h0m0.5 1h0m0.5 -4.5h0m0 4.5h0m0.5 -2h0m0 1h0m0.5 -3h0m0 -1h0m0 3h0m0 -1.5h0m0 2.5h0m0 1h0m0 -0.5h0m0.5 -2.5h0m0 1.5h0m0 0.5h0m0.5 0h0m0 -1h0m0 -0.5h0m0 2h0m0 -4h0m0.5 0.5h0m0 0.5h0m0 3h0m0.5 -5h0m0 3.5h0m0 -1h0m0 2.5h0m0 -1h0m0.5 -1h0m0.5 -1.5h0m0 0.5h0m0.5 -1h0m0 0.5h0m0.5 0h0m0.5 -1.5h0m0 1h0m1 2h0m0 2h0m0 -4.5h0m0.5 1h0m0.5 1.5h0m0 1.5h0m0 -3h0m1.5 3.5h0m0.5 -1h0m1 -3.5h0m0.5 3.5h0m1.5 -2.5h0m0.5 -1.5h0m0 0.5h0m0.5 4h0m3 -3h0m1 -1h0m1 3h0m0 -0.5h0m1 -2.5h0m3.5 3h0m1 1.5h0m1 -2.5h0m2 0.5h0m0 1.5h0m1.5 0.5h0m0 -0.5h0m0.5 0.5h0m1 -4.5h0m1.5 2.5h0m2 1.5h0m8.5 -2.5h0m6 2h0m0.5 -2h0m0.5 3h0m8.5 -1.5h0m0 -1h0m3.5 2.5h0m4 -1.5h0m0.5 1h0m0.5 -2.5h0m2 2h0m1 0h0m-129.5 5h0m0 -1h0m0 2h0m0 1h0m0.5 -1h0m0.5 -1.5h0m0.5 3h0m1 -2h0m1 0h0m0 -1h0m0.5 1h0m0 -1h0m0.5 -2.5h0m1 2h0m0.5 -0.5h0m0 2h0m0.5 -2.5h0m0 0.5h0m0.5 4h0m0 -5h0m0 3h0m0.5 -1.5h0m0 3h0m0.5 -3h0m0 0.5h0m0 3h0m0 -2.5h0m0.5 2h0m0 -4h0m0.5 1h0m0 1h0m0.5 -2h0m0 3h0m0 0.5h0m0 -1h0m0 -3h0m0.5 5h0m0 -1h0m0 -1.5h0m0 -1h0m0 0.5h0m0.5 2h0m0 -3h0m0 2h0m0.5 1.5h0m0 -1h0m0 -1h0m0.5 -3h0m0.5 5h0m0 -1.5h0m0 1h0m0.5 -3h0m0 1.5h0m0 -0.5h0m0 2.5h0m0 -1h0m0.5 0h0m0 0.5h0m0 -4.5h0m0 0.5h0m0 0.5h0m0.5 -1h0m0 2.5h0m0 3h0m0.5 -2h0m0 1.5h0m0 -1h0m0.5 1.5h0m0 -5h0m0 2h0m0 -1.5h0m0 3h0m0 -1h0m0.5 -2.5h0m0 0.5h0m0 0.5h0m0.5 -1.5h0m0 3h0m0 1h0m0 0.5h0m0.5 -4h0m0 0.5h0m0 1h0m0 3h0m0 -1h0m0 0.5h0m0.5 -1.5h0m0 1h0m0.5 -1h0m0 -1h0m0.5 -2h0m0 2h0m0 -0.5h0m0 2h0m0 2h0m0 -0.5h0m0.5 -2.5h0m0 -1.5h0m0 2h0m0 2h0m0 0.5h0m0 -1h0m0.5 -4.5h0m0 2h0m0 -0.5h0m0 1.5h0m0 2h0m0.5 -4.5h0m0 3h0m0.5 0h0m0 2h0m0 -4h0m0 -0.5h0m0.5 0h0m0 2.5h0m0 2h0m0 -1.5h0m0.5 -1h0m0 0.5h0m0 -1.5h0m0 0.5h0m0 3h0m0 -5h0m0.5 0h0m0 1h0m0 2h0m0 -0.5h0m0 -1h0m0.5 -1.5h0m0 0.5h0m0 3.5h0m0 -0.5h0m0 -0.5h0m0 -0.5h0m0.5 0.5h0m0 2h0m0.5 -3h0m0.5 0h0m0 -0.5h0m0 -1h0m0 0.5h0m0 2h0m0 -0.5h0m0 1h0m0 -4h0m0 0.5h0m0.5 1.5h0m0 -1h0m0 3.5h0m0 -0.5h0m0 -4h0m0 0.5h0m0.5 4.5h0m0 -3.5h0m0 -1h0m0 2.5h0m0 0.5h0m0.5 0.5h0m0 -3.5h0m0 -0.5h0m0 1.5h0m0 -0.5h0m0 2h0m0 2h0m0.5 -2h0m0 -0.5h0m0 3h0m0 -1h0m0 -4h0m0 0.5h0m0 0.5h0m0.5 1h0m0 3h0m0 -4.5h0m0.5 3h0m0 -4h0m0 1h0m0 2.5h0m0 -1.5h0m0.5 -2h0m0 2.5h0m0 -1.5h0m0 2.5h0m0 2h0m0.5 -1h0m0 -4h0m0.5 3.5h0m0 -3.5h0m0 -0.5h0m0 2.5h0m0 -0.5h0m0 3.5h0m0 -0.5h0m0.5 -2h0m0 -1h0m0 -0.5h0m0 -0.5h0m0.5 4h0m0 -5h0m0 0.5h0m0 1.5h0m0 0.5h0m0 -1h0m0 -0.5h0m0 2.5h0m0.5 -2h0m0 2h0m0 1.5h0m0 0.5h0m0 -1h0m0.5 -3h0m0 -0.5h0m0 2h0m0 2h0m0 -0.5h0m0.5 0.5h0m0 -1h0m0 -3.5h0m0 -0.5h0m0 2h0m0 -0.5h0m0 2h0m0.5 2h0m0 -3h0m0 -0.5h0m0 2h0m0.5 -4h0m0 0.5h0m0 1.5h0m0 0.5h0m0 2.5h0m0 -1h0m0 0.5h0m0.5 -4.5h0m0 0.5h0m0 1.5h0m0 0.5h0m0 -1.5h0m0.5 -0.5h0m0 1h0m0 -0.5h0m0 2.5h0m0 -1.5h0m0 0.5h0m0 3h0m0 -0.5h0m0 -1h0m0 0.5h0m0.5 -4h0m0 2h0m0 -0.5h0m0 1.5h0m0 -0.5h0m0 2.5h0m0 -1.5h0m0.5 0.5h0m0 -0.5h0m0 -4h0m0 1h0m0 2h0m0 0.5h0m0 -1h0m0 3h0m0.5 -3h0m0 -0.5h0m0 -1h0m0 2h0m0 0.5h0m0 0.5h0m0.5 -3.5h0m0 -0.5h0m0 2h0m0 1h0m0 2h0m0.5 -5h0m0 0.5h0m0 1.5h0m0 -1h0m0 0.5h0m0 3h0m0 -0.5h0m0 -0.5h0m0 1.5h0m0 0.5h0m0.5 -5.5h0m0 1.5h0m0 1.5h0m0 2.5h0m0 -1h0m0.5 -4h0m0 2h0m0 -0.5h0m0 -0.5h0m0 2h0m0 -0.5h0m0 2.5h0m0.5 -4.5h0m0 3.5h0m0 -4h0m0.5 0.5h0m0 0.5h0m0 2h0m0 -1.5h0m0.5 -1.5h0m0 1h0m0 2h0m0 -1.5h0m0 3h0m0 0.5h0m0 -1.5h0m0.5 -1.5h0m0 -1.5h0m0 2h0m0 -3h0m0.5 1h0m0 0.5h0m0 1.5h0m0 0.5h0m0 2h0m0 -3.5h0m0 0.5h0m0.5 0.5h0m0 2.5h0m0 -0.5h0m0 -1h0m0 -3.5h0m0 1.5h0m0 0.5h0m0.5 -1h0m0 3h0m0 -0.5h0m0 -4h0m0 0.5h0m0.5 0.5h0m0 3.5h0m0 -0.5h0m0 -1h0m0 2.5h0m0 -5.5h0m0 2.5h0m0.5 -2h0m0 -0.5h0m0 2h0m0 0.5h0m0 -1h0m0 2h0m0 -0.5h0m0 2.5h0m0.5 -3.5h0m0 -1h0m0 2h0m0 0.5h0m0 1.5h0m0 -5h0m0 0.5h0m0.5 5h0m0 -1.5h0m0 -1h0m0 -2.5h0m0 0.5h0m0 2.5h0m0.5 1.5h0m0 -0.5h0m0 -4h0m0 -0.5h0m0 1h0m0 0.5h0m0 1.5h0m0 0.5h0m0.5 -0.5h0m0 2h0m0 -1h0m0 0.5h0m0 -4h0m0 0.5h0m0.5 1h0m0 -0.5h0m0 -0.5h0m0 3h0m0 0.5h0m0 -1.5h0m0 0.5h0m0 1.5h0m0.5 0.5h0m0 -0.5h0m0 -1h0m0 -3.5h0m0 -0.5h0m0 3.5h0m0.5 1h0m0 -4.5h0m0 2h0m0 -0.5h0m0 1.5h0m0 2.5h0m0.5 -2.5h0m0 2.5h0m0 -0.5h0m0 -1h0m0 -4h0m0 2.5h0m0.5 3h0m0 -1h0m0 -2.5h0m0 0.5h0m0 -1h0m0 -0.5h0m0 2h0m0.5 0.5h0m0 1.5h0m0 0.5h0m0 -1.5h0m0 0.5h0m0.5 -4h0m0 -0.5h0m0 1.5h0m0 -0.5h0m0 2h0m0 0.5h0m0 -1h0m0 -0.5h0m0 3h0m0 -1h0m0.5 -3.5h0m0 1h0m0 -0.5h0m0 2h0m0 2.5h0m0 -1h0m0 -0.5h0m0.5 -4h0m0 0.5h0m0 2h0m0 -1.5h0m0 0.5h0m0 3h0m0 -1h0m0 -0.5h0m0 2h0m0.5 -1.5h0m0 -0.5h0m0 2h0m0 -4.5h0m0 3.5h0m0 0.5h0m0.5 -4h0m0 -0.5h0m0 1.5h0m0 2.5h0m0 -1h0m0.5 -2.5h0m0 2.5h0m0 0.5h0m0 -1.5h0m0 3.5h0m0 -0.5h0m0 -0.5h0m0 -0.5h0m0.5 -0.5h0m0 -0.5h0m0 2.5h0m0 -1h0m0.5 -4.5h0m0 2h0m0 -0.5h0m0 2h0m0 2h0m0.5 -5.5h0m0 0.5h0m0 1.5h0m0 0.5h0m0 -1.5h0m0 2.5h0m0 1h0m0 -0.5h0m0.5 -3h0m0 4h0m0 0.5h0m0 -1h0m0 -0.5h0m0.5 -2.5h0m0 2h0m0 1h0m0 -4h0m0.5 0h0m0 2h0m0.5 -1h0m0 -0.5h0m0 2h0m0.5 -2h0m0 4h0m0 -4.5h0m0.5 1h0m0 4h0m0 -1h0m0 -4h0m0.5 1h0m0 -0.5h0m0 2.5h0m0 -1h0m0 2h0m0 -4h0m0 -0.5h0m0.5 2.5h0m0 -0.5h0m0 -1h0m0 -0.5h0m0 -0.5h0m0.5 2h0m0 1h0m0 2h0m0.5 -4h0m0 4h0m0 -1h0m0 0.5h0m0.5 -3.5h0m0 0.5h0m0 1.5h0m0 2h0m0 -5h0m0.5 1h0m0 0.5h0m0 3.5h0m0 0.5h0m0 -1.5h0m0 -2h0m0.5 -1.5h0m0 -0.5h0m0 2.5h0m0 0.5h0m0 0.5h0m0.5 -1h0m0 -1h0m0 2.5h0m0 -0.5h0m0 -0.5h0m0 -2.5h0m0.5 2h0m0 -0.5h0m0 3h0m0 0.5h0m0 -5.5h0m0 1.5h0m0.5 -1h0m0 2h0m0 -1h0m0.5 2h0m0 -0.5h0m0 2.5h0m0 -1.5h0m0 -3h0m0 0.5h0m0.5 -1.5h0m0 0.5h0m0 1h0m0.5 2.5h0m0 -1h0m0 0.5h0m0.5 1h0m0 0.5h0m0 -5h0m0.5 4.5h0m0.5 -4h0m0 2h0m0 -1.5h0m0.5 2.5h0m0 0.5h0m0 -1.5h0m0 -1h0m0.5 4h0m0 -3.5h0m0 2h0m0 -0.5h0m0.5 -3.5h0m0 0.5h0m0 2.5h0m0 0.5h0m0 -1.5h0m0 0.5h0m0 3h0m0 -0.5h0m0 -0.5h0m0.5 -4.5h0m0 0.5h0m0 3.5h0m0.5 -3h0m0 3h0m0.5 -1.5h0m0 -1.5h0m0 2.5h0m0.5 -3.5h0m0 1.5h0m0 2h0m0.5 -3.5h0m0 0.5h0m0 5h0m0 -1h0m0.5 -4.5h0m0.5 0h0m0 3h0m0.5 0h0m0.5 -1h0m0 3h0m0.5 -4h0m0 0.5h0m0 1.5h0m0 -0.5h0m1 -2.5h0m0 1.5h0m1 1h0m0 1.5h0m0 -3.5h0m0 -0.5h0m0.5 1.5h0m0 4h0m0 -5h0m0.5 1h0m0 2.5h0m1 -3h0m0 0.5h0m1 0h0m0 3h0m0.5 -2.5h0m0 -1h0m0 2.5h0m0 -3h0m0.5 0.5h0m0 3.5h0m0 -1h0m1 -0.5h0m0.5 -1.5h0m1 1h0m0.5 3h0m1 -4.5h0m0.5 3.5h0m0.5 0.5h0m0 0.5h0m0 -3.5h0m2 -1.5h0m0.5 1h0m0.5 -0.5h0m0.5 4h0m1 0.5h0m0.5 -1.5h0m0.5 -2h0m0.5 0.5h0m0.5 1h0m1 -1.5h0m0 2h0m1 1.5h0m1 -5h0m0.5 1.5h0m0.5 -1h0m0.5 1.5h0m0.5 -1h0m0 4h0m3.5 -1h0m1 -4h0m1 3.5h0m1 0.5h0m1 -1h0m1.5 1h0m6.5 -2h0m6 -2.5h0m55 2h0m-166 4.5h0m0 -0.5h0m0 2h0m1 3h0m1 -4.5h0m0 3.5h0m0.5 0.5h0m2 -3.5h0m0 1.5h0m1 3h0m0.5 -0.5h0m0.5 -3.5h0m0 -1.5h0m0 3.5h0m0.5 -3.5h0m0.5 0.5h0m0.5 0h0m0 -0.5h0m0 1.5h0m0.5 3.5h0m0 0.5h0m0.5 -1.5h0m0 0.5h0m0.5 0.5h0m0 -3.5h0m0.5 -0.5h0m0 2h0m0 2h0m0.5 -3.5h0m0 0.5h0m0 1h0m0.5 -1.5h0m0 -1.5h0m0 2h0m0 2h0m0 -1h0m0.5 -1.5h0m0 -1.5h0m0 2.5h0m0.5 -0.5h0m0 -1h0m0 4.5h0m0 -5.5h0m0.5 0h0m0.5 0h0m0 3.5h0m0 -0.5h0m0 2h0m0.5 -4.5h0m0 2h0m0 -0.5h0m0 3.5h0m0.5 -4h0m0 -1h0m0 3h0m0 -1.5h0m0 2.5h0m0.5 -1.5h0m0 -1h0m0 2h0m0.5 -2h0m0 -1h0m0 2h0m0 -2.5h0m0.5 4h0m0 -0.5h0m0 1.5h0m0 -5.5h0m0 2h0m0.5 0.5h0m0 2h0m0 -0.5h0m0 -1h0m0 2h0m0 -3.5h0m0.5 0.5h0m0 1h0m0 2.5h0m0 -4.5h0m0 -1h0m0.5 1h0m0.5 0.5h0m0 -1.5h0m0 2.5h0m0.5 0h0m0 -0.5h0m0 2h0m0 1h0m0 -4h0m0.5 2h0m0 0.5h0m0.5 -3.5h0m0 2h0m0 -0.5h0m0 2h0m0.5 -1.5h0m0 0.5h0m0 1.5h0m0 0.5h0m0 -1h0m0 2h0m0.5 -2h0m0 -0.5h0m0 2h0m0 -5h0m0 2.5h0m0 -1h0m0 3h0m0 -0.5h0m0.5 1.5h0m0 -4.5h0m0 0.5h0m0 -1.5h0m0 2.5h0m0.5 2h0m0 -3.5h0m0 0.5h0m0 -1.5h0m0.5 5.5h0m0 -1h0m0 -0.5h0m0 -3h0m0 0.5h0m0 -1.5h0m0 3h0m0.5 -1.5h0m0 -1h0m0 1.5h0m0 1h0m0 0.5h0m0.5 -2.5h0m0 0.5h0m0 -1.5h0m0 2.5h0m0 1.5h0m0.5 -1h0m0 -2h0m0 0.5h0m0 0.5h0m0 0.5h0m0 2h0m0.5 -4h0m0 -0.5h0m0 3.5h0m0 -1h0m0 1.5h0m0.5 -4h0m0 0.5h0m0 1.5h0m0 0.5h0m0 1.5h0m0 -1h0m0 2h0m0.5 -3.5h0m0 -1h0m0 -0.5h0m0 2h0m0 2h0m0 -0.5h0m0.5 -1h0m0 -1h0m0 -0.5h0m0 3h0m0 -0.5h0m0 -0.5h0m0 2h0m0.5 -4h0m0 -0.5h0m0 -0.5h0m0 4.5h0m0 1h0m0 -0.5h0m0.5 -3.5h0m0 1h0m0 1.5h0m0 -0.5h0m0 1.5h0m0.5 -4h0m0 1.5h0m0 -0.5h0m0 2.5h0m0 -0.5h0m0 -0.5h0m0 1.5h0m0.5 -3.5h0m0 -1.5h0m0 0.5h0m0 2h0m0 0.5h0m0 2h0m0.5 -4h0m0 -0.5h0m0 -0.5h0m0 3h0m0 1.5h0m0 -0.5h0m0 1.5h0m0.5 -4.5h0m0 0.5h0m0 2.5h0m0 0.5h0m0 -1.5h0m0.5 -1.5h0m0 -0.5h0m0 2h0m0 1h0m0 0.5h0m0 0.5h0m0.5 -5h0m0 2h0m0 2h0m0 1.5h0m0.5 -3h0m0 2h0m0 -0.5h0m0 -0.5h0m0 2h0m0 -4.5h0m0.5 -1h0m0 3.5h0m0 -0.5h0m0 1h0m0.5 -2.5h0m0 -1h0m0 5h0m0.5 -3h0m0 -0.5h0m0 2h0m0 -1h0m0 2h0m0 -3.5h0m0 -0.5h0m0 -0.5h0m0 -0.5h0m0.5 3.5h0m0 -0.5h0m0 2.5h0m0 -0.5h0m0 -3.5h0m0 -0.5h0m0 -1h0m0 2h0m0.5 -2h0m0 4.5h0m0 -0.5h0m0 -1h0m0.5 -1h0m0 2h0m0 0.5h0m0 0.5h0m0 0.5h0m0 -4.5h0m0 -1h0m0 0.5h0m0 2.5h0m0.5 -1.5h0m0 -0.5h0m0 -0.5h0m0 2h0m0 2h0m0 -1h0m0 -0.5h0m0.5 -3h0m0 3.5h0m0 -1h0m0 2h0m0 1h0m0.5 -1.5h0m0 1.5h0m0 -4h0m0 -1h0m0 3h0m0.5 1h0m0 -0.5h0m0 -2.5h0m0 -0.5h0m0 2.5h0m0 -1.5h0m0 0.5h0m0.5 0h0m0 2h0m0 1h0m0 -0.5h0m0 -3.5h0m0.5 0.5h0m0 3h0m0 0.5h0m0 -1.5h0m0 0.5h0m0 -3.5h0m0 0.5h0m0 1.5h0m0.5 0.5h0m0 1.5h0m0 0.5h0m0 -4h0m0 -0.5h0m0 -1h0m0 4.5h0m0.5 0.5h0m0 -4h0m0 -1h0m0 0.5h0m0 2h0m0 2h0m0 -0.5h0m0 -1h0m0 0.5h0m0.5 1h0m0 -1.5h0m0 2h0m0 -4h0m0 -0.5h0m0 2h0m0.5 3h0m0 -0.5h0m0 -3.5h0m0 1.5h0m0 -1h0m0 2h0m0 0.5h0m0.5 0.5h0m0 -3.5h0m0 -1.5h0m0 2.5h0m0 1.5h0m0 0.5h0m0.5 -3h0m0 -1.5h0m0 3.5h0m0 -1.5h0m0 0.5h0m0 2.5h0m0.5 0h0m0 -3.5h0m0 -1h0m0 2.5h0m0 -0.5h0m0.5 2.5h0m0 -4h0m0 -0.5h0m0 2h0m0 2h0m0.5 -0.5h0m0 0.5h0m0 1h0m0 -4.5h0m0 -1h0m0 3h0m0 -1h0m0.5 -1h0m0 -0.5h0m0 3h0m0 -1.5h0m0 0.5h0m0 2.5h0m0 0.5h0m0 -1h0m0.5 -3h0m0 -1h0m0 -0.5h0m0 4h0m0 -1h0m0 2h0m0 0.5h0m0.5 -4h0m0 1h0m0 1.5h0m0 -1h0m0.5 -2h0m0 1h0m0 2h0m0 -0.5h0m0 -0.5h0m0 2.5h0m0.5 -4.5h0m0 0.5h0m0 -1.5h0m0 3h0m0 0.5h0m0 1.5h0m0.5 -4h0m0 -1h0m0 2h0m0 2.5h0m0 -1h0m0.5 -3h0m0 3h0m0.5 -2h0m0 -0.5h0m0 -1h0m0 3.5h0m0 -1.5h0m0 0.5h0m0 2.5h0m0 0.5h0m0.5 -2h0m0 -1h0m0 1.5h0m0 1h0m0.5 -2.5h0m0 -1h0m0 -0.5h0m0 3h0m0 -0.5h0m0 -3h0m0 -0.5h0m0.5 2.5h0m0 -0.5h0m0 2.5h0m0 -0.5h0m0 -1h0m0 2.5h0m0 -4.5h0m0 -1h0m0.5 0h0m0 0.5h0m0 2h0m0 -0.5h0m0 2h0m0 -1h0m0 2.5h0m0 -0.5h0m0 -3.5h0m0 -0.5h0m0.5 0h0m0 -0.5h0m0 3h0m0 1.5h0m0 -1h0m0 0.5h0m0.5 -4h0m0 3h0m0 -0.5h0m0 -0.5h0m0 2h0m0 -0.5h0m0 1.5h0m0 -0.5h0m0.5 -4h0m0 -1h0m0 5h0m0 0.5h0m0.5 -3h0m0 1.5h0m0 -0.5h0m0 -3h0m0.5 2h0m0 2.5h0m0 -4.5h0m0 -0.5h0m0.5 0.5h0m0 1.5h0m0 1h0m0 2h0m0 0.5h0m0.5 -5.5h0m0 0.5h0m0 2.5h0m0 -0.5h0m0 1.5h0m0 0.5h0m0 0.5h0m0 -4h0m0.5 2.5h0m0 -0.5h0m0 2.5h0m0 -3.5h0m0 2.5h0m0.5 -4h0m0 1.5h0m0 1h0m0.5 0.5h0m0 -1h0m0 1.5h0m0 -2.5h0m0 -0.5h0m0.5 1.5h0m0 -0.5h0m0 -1h0m0 -0.5h0m0 2.5h0m0 0.5h0m0.5 -2.5h0m0 0.5h0m0 -1h0m0 2h0m0 -0.5h0m0 1h0m0.5 -2h0m0 -0.5h0m0 2.5h0m0 0.5h0m0 -1.5h0m0 0.5h0m0.5 1h0m0 -1h0m0 -0.5h0m0.5 -0.5h0m0 2h0m0 -0.5h0m0 1.5h0m0.5 0h0m0 1h0m0 -0.5h0m0.5 0.5h0m0 -0.5h0m0 -4h0m0 0.5h0m0 0.5h0m0 2h0m0.5 1h0m0 -5h0m0 2h0m0.5 3.5h0m0 -0.5h0m0 -4h0m0 -1h0m0.5 5.5h0m0 -2.5h0m0 1.5h0m0.5 -1.5h0m0 -1.5h0m0 -0.5h0m0 -1h0m0 3.5h0m0 1h0m0.5 -4.5h0m0 0.5h0m0 1.5h0m0 3h0m0.5 -4.5h0m0 2.5h0m0 -0.5h0m0 2h0m0 1h0m0.5 -5h0m0 1.5h0m0 3.5h0m0.5 -4.5h0m0 1h0m0 0.5h0m0 2.5h0m0.5 -1h0m0 1.5h0m0.5 -5h0m0 1h0m0.5 2h0m0 -0.5h0m0.5 -2.5h0m0.5 0.5h0m0 -0.5h0m0.5 -0.5h0m0 0.5h0m0 1.5h0m0 3.5h0m0.5 -5.5h0m0.5 1h0m0 -1h0m0.5 1.5h0m0 -1h0m0 4.5h0m0 -1h0m0.5 -2h0m0 0.5h0m0.5 2.5h0m0 -4.5h0m0.5 -0.5h0m0 0.5h0m0 2h0m0.5 -2h0m0 4h0m0.5 -3.5h0m0.5 3.5h0m0 -0.5h0m0.5 -1h0m0 2.5h0m0.5 -2.5h0m0 -1.5h0m0.5 3h0m0 -4.5h0m0.5 3.5h0m0 1h0m0 -0.5h0m0.5 -0.5h0m0 -1h0m0 2h0m0 -4.5h0m0 3h0m1 -1h0m0 0.5h0m0.5 -2h0m0.5 4.5h0m0 -4h0m0 3.5h0m1 -1.5h0m2.5 2h0m0.5 -1.5h0m0.5 0h0m0 1.5h0m0.5 -4h0m0 4.5h0m1 -1h0m1 -3.5h0m1.5 3.5h0m0 0.5h0m0.5 0h0m1 0h0m0.5 -2.5h0m0 -1h0m0.5 3.5h0m1.5 -2h0m2 -2h0m1 -1h0m2.5 0h0m1 0h0m1.5 1.5h0m4.5 1.5h0m3.5 -1.5h0m2 0.5h0m2 3.5h0m20 -4.5h0m-123 6h0m0 4.5h0m3.5 -1h0m1.5 -3.5h0m0 3.5h0m0.5 -1h0m0.5 -3.5h0m0 1.5h0m0 2.5h0m0.5 -1.5h0m0 -2h0m0.5 2h0m0 3h0m0.5 -2.5h0m0.5 -3h0m0 2h0m1 0.5h0m0 -1h0m0 3h0m0.5 -0.5h0m0 -4h0m0.5 4h0m0.5 -1.5h0m0 -0.5h0m0.5 1h0m0 -2h0m0.5 2h0m0 1.5h0m0 -2.5h0m0.5 -1.5h0m0 -0.5h0m0 3.5h0m0 0.5h0m0.5 -3h0m0 0.5h0m0 1.5h0m0 -1h0m0.5 1h0m0 -1h0m0.5 3.5h0m0 -3h0m0 -0.5h0m0 -1h0m0.5 0.5h0m0.5 1.5h0m0 2h0m0 -5h0m0 2.5h0m0.5 -2.5h0m0.5 2h0m0 1h0m0.5 1h0m0 -4h0m0 0.5h0m0 1h0m0 2h0m0 -0.5h0m0.5 -1h0m0 -1h0m0 4h0m0 -1h0m0.5 -4h0m0 0.5h0m0 1.5h0m0 -0.5h0m0 1.5h0m0 2h0m0 -0.5h0m0.5 -2h0m0 -1h0m0 3h0m0.5 -2h0m0 0.5h0m0 1.5h0m1 -3h0m0 3h0m0.5 -3.5h0m0 -1h0m0.5 3.5h0m0 1.5h0m0.5 -2.5h0m0 -0.5h0m0 1.5h0m0 -0.5h0m0 1h0m0.5 -4h0m0 1h0m0 2h0m0 0.5h0m0 -1.5h0m0 2h0m0 0.5h0m0.5 -2.5h0m0 0.5h0m0 -1.5h0m0 3.5h0m0 0.5h0m0.5 -2h0m0 2.5h0m0 -0.5h0m0 -5h0m0 0.5h0m0.5 1.5h0m0 1h0m0 2h0m0 -5h0m0 0.5h0m0.5 0.5h0m0 0.5h0m0 2h0m0.5 -1.5h0m0 -0.5h0m0 3h0m0 -1.5h0m0 2h0m0 -5h0m0.5 2h0m0 3h0m0 0.5h0m0 -1h0m0 -0.5h0m0 -4h0m0 1.5h0m0.5 3.5h0m0 -5h0m0 0.5h0m0 0.5h0m0 0.5h0m0 1.5h0m0.5 2.5h0m0 -1.5h0m0 -4h0m0.5 3h0m0 2h0m0 -0.5h0m0 -4.5h0m0 2h0m0 -1h0m0 0.5h0m0.5 3.5h0m0 -0.5h0m0 -1h0m0.5 0.5h0m0 0.5h0m0 -4h0m0 -0.5h0m0 1h0m0 2h0m0 2.5h0m0 -0.5h0m0.5 -1.5h0m0 2h0m0 -0.5h0m0 -1h0m0 -3.5h0m0 1.5h0m0.5 3h0m0 -3h0m0 -1h0m0 2h0m0.5 -2h0m0 2h0m0 1h0m0 -4h0m0 0.5h0m0 2h0m0 -0.5h0m0.5 3.5h0m0 -5.5h0m0 0.5h0m0 2h0m0 -1h0m0.5 -1h0m0 -0.5h0m0 1h0m0 1h0m0 3h0m0.5 -4h0m0 -0.5h0m0 -0.5h0m0 1.5h0m0 1.5h0m0 0.5h0m0.5 0h0m0 2h0m0 -5h0m0 -0.5h0m0 2.5h0m0 -1h0m0 2.5h0m0 0.5h0m0.5 -4.5h0m0 2h0m0 -0.5h0m0 -0.5h0m0 3h0m0 0.5h0m0.5 -3h0m0 1.5h0m0 -1h0m0.5 -1.5h0m0 1.5h0m0 -1h0m0 2h0m0 2.5h0m0 -0.5h0m0.5 -4.5h0m0 -0.5h0m0 2h0m0 -1h0m0 2h0m0.5 -1h0m0 -1h0m0 4h0m0.5 0h0m0 -3h0m0 0.5h0m0 -1h0m0 1.5h0m0 0.5h0m0.5 -3.5h0m0 2h0m0 2h0m0 -1h0m0 2h0m0.5 -4.5h0m0 -0.5h0m0 1.5h0m0.5 1h0m0 -1.5h0m0 3h0m0 0.5h0m0 1h0m0 -0.5h0m0.5 -5h0m0 4.5h0m0 -1h0m0.5 -1h0m0 2h0m0 -1h0m0 2h0m0.5 -4h0m0 1.5h0m0 -0.5h0m0 2.5h0m0.5 -2.5h0m0 -1.5h0m0 2h0m0 0.5h0m0 1.5h0m0 -4.5h0m0 -0.5h0m0.5 0.5h0m0 2.5h0m0 0.5h0m0 0.5h0m0 0.5h0m0.5 -2.5h0m0 -1h0m0 0.5h0m0 2h0m0 1.5h0m0 0.5h0m0 -1.5h0m0.5 -3h0m0 4.5h0m0 -1.5h0m0.5 0h0m0 1.5h0m0 -5.5h0m0.5 0.5h0m0 -0.5h0m0 2.5h0m0 -1.5h0m0 0.5h0m0 1.5h0m0 0.5h0m0 2h0m0 -1h0m0.5 -2.5h0m0 -0.5h0m0 3h0m0 -1.5h0m0 0.5h0m0 1.5h0m0 -4.5h0m0.5 -0.5h0m0 0.5h0m0 2h0m0 -1h0m0 -0.5h0m0 4.5h0m0 -0.5h0m0.5 -4.5h0m0 2h0m0 -1.5h0m0 0.5h0m0 3h0m0 -1h0m0 2h0m0 -0.5h0m0.5 -2.5h0m0 -2h0m0 -0.5h0m0 1.5h0m0 -0.5h0m0.5 2.5h0m0 -0.5h0m0 1.5h0m0 -4.5h0m0 2h0m0 0.5h0m0.5 -1h0m0 3.5h0m0 -5h0m0 2.5h0m0.5 0h0m0 -1.5h0m0 3h0m0 0.5h0m0 -1h0m0 -0.5h0m0.5 2.5h0m0 -4h0m0.5 3.5h0m0 -5h0m0 2.5h0m0 -1h0m0 2.5h0m0 -0.5h0m0.5 -2.5h0m0 2h0m0 2h0m0 -5h0m0 2h0m0.5 1h0m0 2h0m0 -5h0m0 0.5h0m0 2h0m0 -0.5h0m0 -0.5h0m0 2.5h0m0.5 -4h0m0 1h0m0 2.5h0m0 -1h0m0 -0.5h0m0 2.5h0m0.5 -4.5h0m0 2.5h0m0 2h0m0.5 0h0m0 -3.5h0m0 2.5h0m0 -0.5h0m0 -0.5h0m0 3h0m0.5 -5.5h0m0 0.5h0m0 2h0m0 -1h0m0 3h0m0.5 -3h0m0 -0.5h0m0 2.5h0m0 -0.5h0m0 2.5h0m0 -0.5h0m0 -4.5h0m0 2h0m0.5 3h0m0 -0.5h0m0 -4.5h0m0 2h0m0 -1.5h0m0 3h0m0.5 -2h0m0 0.5h0m0 0.5h0m0 0.5h0m0 0.5h0m0.5 -3.5h0m0 2h0m0 -1.5h0m0 0.5h0m0 2.5h0m0 1.5h0m0.5 -1h0m0 -0.5h0m0 -3.5h0m0 1.5h0m0 3.5h0m0.5 -5.5h0m0 0.5h0m0 2h0m0 -1.5h0m0.5 0h0m0 2.5h0m0 -0.5h0m0 2h0m0.5 -2.5h0m0 -1.5h0m0 4.5h0m0 -1.5h0m0 -4h0m0 0.5h0m0.5 0h0m0 1.5h0m0 1h0m0.5 -2.5h0m0 -0.5h0m0 1.5h0m0 2h0m0 1.5h0m0.5 -4.5h0m0 -0.5h0m0 2.5h0m0 -0.5h0m0 -1h0m0 2h0m0 0.5h0m0 2h0m0 -1.5h0m0.5 1.5h0m0 -1.5h0m0.5 -4h0m0 4h0m0.5 -1.5h0m0 -1.5h0m0 2h0m0 2.5h0m0 -0.5h0m0.5 -3h0m0 0.5h0m0 0.5h0m0 2h0m0 -0.5h0m1 -3.5h0m0 4h0m0.5 -2.5h0m0 2h0m0 -1.5h0m0 2.5h0m0 -5h0m0.5 3h0m0 2h0m0.5 -5h0m0 1.5h0m0 2.5h0m0 -1.5h0m0 2.5h0m0.5 -2.5h0m0 2h0m0 -0.5h0m0.5 0.5h0m0 -0.5h0m0 -4h0m0 1h0m0 2h0m0.5 -0.5h0m0 1h0m0 -2h0m0.5 1.5h0m0 -1.5h0m0 -1h0m0.5 -0.5h0m0 3h0m1 -0.5h0m0 2.5h0m0 -3.5h0m0.5 -2h0m0 2.5h0m0 -1.5h0m0 0.5h0m0 3h0m0.5 -2h0m0.5 2h0m0 -4.5h0m0 2.5h0m0.5 1.5h0m0 -1.5h0m0 -1.5h0m0 2h0m0 2.5h0m0 -0.5h0m0.5 -3h0m0 -0.5h0m0 1.5h0m1 0.5h0m0 -3h0m0 0.5h0m0 3h0m0.5 -2h0m0 2h0m0.5 -2.5h0m0 4h0m0.5 -5h0m0 1.5h0m0 -0.5h0m0 2h0m0.5 -2.5h0m0 3.5h0m0.5 -4.5h0m0 1h0m0 2h0m0.5 -3h0m0 0.5h0m0 3h0m0.5 -3h0m0 3.5h0m0.5 -4h0m0 1h0m0 2.5h0m0 1.5h0m0.5 -4h0m0 4h0m0.5 -5h0m0 1.5h0m0 2h0m1 -3.5h0m0 2h0m0 2.5h0m0 -3h0m0.5 0.5h0m0 -1h0m1.5 3h0m0.5 -1h0m0.5 -0.5h0m0 -2.5h0m0.5 0h0m0.5 4.5h0m0.5 -4.5h0m0.5 3h0m0 1.5h0m0.5 1h0m1 -2h0m1.5 -2.5h0m1 4h0m0.5 0.5h0m0.5 -3.5h0m1.5 -1h0m1.5 0.5h0m0.5 4h0m0.5 -3.5h0m0.5 3.5h0m1 0h0m0.5 -2.5h0m2 -2.5h0m3 0.5h0m0.5 2h0m3 -0.5h0m1.5 1.5h0m1.5 0.5h0m12.5 -1h0m6 -2h0m13.5 2.5h0m-129 7.5h0m0 -5.5h0m2 3h0m0.5 -3h0m0.5 3h0m0.5 -1h0m0.5 0h0m0.5 3h0m0.5 -5h0m1 5h0m1 -5h0m0 2h0m1 -0.5h0m1 -1.5h0m0.5 4.5h0m2 -1h0m0.5 -2.5h0m0 0.5h0m0.5 -1.5h0m0.5 1h0m0 4.5h0m0.5 -4h0m0.5 3h0m0.5 -3h0m0 -1h0m0 1.5h0m0.5 0h0m0 2.5h0m0 -1h0m0.5 -1h0m0 1.5h0m0 1.5h0m0 -5.5h0m0.5 1h0m0 1.5h0m0.5 -0.5h0m0 3.5h0m0 -4h0m0.5 0h0m0.5 -1.5h0m0 3h0m0.5 -1.5h0m0 -1h0m0 2.5h0m0 1.5h0m0 0.5h0m0.5 -2h0m0.5 -3h0m0 2.5h0m0.5 -1h0m0 -1h0m0 2h0m0.5 1h0m0 2h0m0 -4.5h0m0 -0.5h0m0 2h0m0.5 2.5h0m0 0.5h0m0 -5.5h0m0 4h0m0 0.5h0m0.5 -2.5h0m0 2.5h0m0 -3.5h0m0.5 2.5h0m0 -1h0m0 -0.5h0m0 2h0m0 -4h0m0 1h0m0.5 2h0m0 0.5h0m0 2h0m0 -4h0m0 -1h0m0 -0.5h0m0 4h0m0.5 -3h0m0 0.5h0m0 1.5h0m0 -0.5h0m0.5 -1h0m0 1h0m0.5 -1h0m0 -1h0m0 2.5h0m0 1h0m0 0.5h0m0.5 -4.5h0m0 1h0m0 4.5h0m0 -0.5h0m0.5 -3.5h0m0 2.5h0m0 -1h0m0.5 -2.5h0m0 1.5h0m0 2h0m0 -0.5h0m0 1.5h0m0.5 -1h0m0 -0.5h0m0 2h0m0.5 -4h0m0 -0.5h0m0 -1h0m0 0.5h0m0 4.5h0m0.5 -5h0m0 0.5h0m0 3.5h0m0.5 -3h0m0 -0.5h0m0 1.5h0m0 2h0m0 -0.5h0m0 -0.5h0m0.5 -3h0m0 3.5h0m0 0.5h0m0.5 1.5h0m0 -4h0m0 -1h0m0 -0.5h0m0 3h0m0 -0.5h0m0 1.5h0m0 0.5h0m0.5 -3.5h0m0 1h0m0.5 -1h0m0 0.5h0m0 2h0m0.5 -1h0m0 -0.5h0m0 2h0m0 -0.5h0m0 2h0m0 -4h0m0.5 -1h0m0 2h0m0 2h0m0.5 -3.5h0m0 2h0m0 -0.5h0m0 1.5h0m0.5 -2h0m0 0.5h0m0 1.5h0m0 1.5h0m0 -4h0m0.5 2.5h0m0 1h0m0 -3.5h0m0 2h0m0.5 -3.5h0m0 2.5h0m0 1.5h0m0 -1h0m0 2h0m0.5 -5h0m0 3h0m0 2.5h0m0 -4h0m0 -0.5h0m0.5 0.5h0m0 -0.5h0m0 2.5h0m0 -0.5h0m0 1.5h0m0 -0.5h0m0.5 -2.5h0m0 2h0m0 -1h0m0 1.5h0m0 1h0m0 0.5h0m0.5 -5h0m0 -0.5h0m0 3.5h0m0 0.5h0m0 1.5h0m0 -0.5h0m0 -4h0m0.5 1h0m0 0.5h0m0 3h0m0 -0.5h0m0 -1h0m0 -4h0m0.5 0.5h0m0 -0.5h0m0 3h0m0 -1h0m0 0.5h0m0 2h0m0.5 -4.5h0m0 0.5h0m0 3h0m0 -0.5h0m0 -1h0m0 3.5h0m0 -0.5h0m0 -1h0m0 -3h0m0 0.5h0m0.5 2.5h0m0 -1h0m0 -3h0m0 2.5h0m0 -0.5h0m0.5 3.5h0m0 -4.5h0m0 -0.5h0m0 3h0m0 -0.5h0m0 -1h0m0 0.5h0m0 2h0m0 -0.5h0m0.5 0.5h0m0 -1h0m0 -0.5h0m0 2h0m0 -4h0m0 -0.5h0m0 2h0m0.5 2h0m0 0.5h0m0 -4.5h0m0 -0.5h0m0 3.5h0m0 -1h0m0.5 2.5h0m0 -5h0m0 2.5h0m0 -0.5h0m0 2.5h0m0.5 -3.5h0m0 -0.5h0m0 1.5h0m0 2.5h0m0.5 -0.5h0m0 1h0m0 -4.5h0m0 3h0m0 -1.5h0m0.5 1.5h0m0 -0.5h0m0 -0.5h0m0 1.5h0m0.5 0.5h0m0 1h0m0 -4h0m0 -0.5h0m0 -0.5h0m0 2.5h0m0.5 -1.5h0m0 -1h0m0 -0.5h0m0 3.5h0m0 -1h0m0.5 -1.5h0m0 2h0m0 2.5h0m0 -0.5h0m0.5 -4h0m0 0.5h0m0 2h0m0 -1.5h0m0 2.5h0m0 -0.5h0m0 1.5h0m0.5 -0.5h0m0 -4h0m0 3.5h0m0 -1.5h0m0 0.5h0m0.5 -3h0m0 1h0m0 1.5h0m0 0.5h0m0 -1.5h0m0 2h0m0.5 -2.5h0m0 -0.5h0m0 -1h0m0 3.5h0m0 0.5h0m0 1h0m0.5 -3.5h0m0 -0.5h0m0 -0.5h0m0 2.5h0m0 -0.5h0m0 3h0m0.5 -4.5h0m0 -0.5h0m0 3h0m0 -1h0m0 2h0m0 -0.5h0m0 1h0m0.5 -3.5h0m0 1.5h0m0 0.5h0m0 -1.5h0m0 2h0m0.5 -4h0m0 0.5h0m0 2h0m0 1.5h0m0 0.5h0m0 -1h0m0.5 -1h0m0 -1.5h0m0 0.5h0m0 -1.5h0m0.5 1.5h0m0 3h0m0 -0.5h0m0.5 -2h0m0 3h0m0 -1h0m0 -4h0m0 0.5h0m0.5 0.5h0m0 0.5h0m0 -1.5h0m0 2.5h0m0.5 -2h0m0 0.5h0m0 1h0m0 2.5h0m0 -0.5h0m0.5 -3.5h0m0 2h0m0 1.5h0m0.5 -4h0m0 3h0m0 -0.5h0m0 3h0m0.5 -4.5h0m0 2h0m0 -1h0m0 2.5h0m0.5 -2.5h0m0 2.5h0m0 -0.5h0m0.5 -2.5h0m0 -1h0m0 -0.5h0m0 2h0m0.5 3h0m0 -5h0m0 0.5h0m0 1.5h0m0 2h0m0.5 -3h0m0 0.5h0m0 -1h0m0 2.5h0m0 -1h0m0 2h0m0.5 -1h0m0 2.5h0m0 -1h0m0 -0.5h0m0 -3.5h0m0 0.5h0m0.5 2h0m0 -2.5h0m0 2h0m0 2h0m0.5 -4h0m0 2.5h0m0 -0.5h0m0 -0.5h0m0.5 0h0m0.5 -1h0m0.5 3h0m0 -2.5h0m0 -0.5h0m0 -0.5h0m0 -0.5h0m0 3h0m0.5 -3h0m0 0.5h0m0 2h0m0 3h0m0.5 -1.5h0m0 -3.5h0m0 4.5h0m0 -3.5h0m0 -1.5h0m0 2.5h0m0.5 -1.5h0m0 -1h0m0 2h0m0 2.5h0m0.5 1h0m0 -0.5h0m0 -0.5h0m0 -3h0m0 -1h0m0 3h0m0.5 1h0m0 1h0m0.5 -5h0m0 4.5h0m0.5 -4h0m0 2.5h0m0 -1h0m0 2h0m1 -3.5h0m0 4h0m0.5 -0.5h0m0 -4.5h0m0 1h0m0.5 -0.5h0m0 4.5h0m0.5 -5h0m0 4.5h0m0.5 -1h0m0 -1.5h0m0 3.5h0m0 -1h0m0.5 1h0m0 -4h0m0 -1.5h0m0 3h0m0.5 0.5h0m0 2h0m0.5 -3h0m0 1.5h0m0 1.5h0m0.5 -5h0m0 3.5h0m0 1h0m0.5 -4.5h0m0 2h0m0 3h0m0 -1h0m1 -3.5h0m0.5 3.5h0m0 -3h0m0.5 2h0m0.5 -0.5h0m0 -2.5h0m0.5 0h0m0.5 0h0m0 2.5h0m0 -0.5h0m0.5 2h0m1 -2h0m0 -2.5h0m0.5 2.5h0m0 -2.5h0m1 2.5h0m0.5 -2.5h0m0 0.5h0m0.5 3h0m0 2h0m0.5 -1.5h0m0.5 1h0m0 -3.5h0m1 4h0m0.5 -3h0m1.5 2.5h0m0 0.5h0m1 -5.5h0m1.5 0h0m13.5 3h0m3.5 0.5h0m1 -2.5h0m4.5 0.5h0m0.5 -0.5h0m1.5 0h0m5 -1h0m3 4.5h0m4 -2h0m5.5 -2.5h0m6.5 2h0m-124.5 8h0m5.5 -4h0m0 5h0m1.5 -1.5h0m3 -0.5h0m0 2h0m0.5 -0.5h0m0 -2.5h0m0.5 -2h0m1 1h0m0.5 1.5h0m0 -1h0m0.5 1h0m0.5 -2.5h0m0 2h0m0 0.5h0m0.5 1h0m0.5 -2h0m0.5 1h0m0 -1h0m0 2h0m1 -3.5h0m0.5 2.5h0m0.5 -1h0m0 4h0m1 0h0m1 -4.5h0m0.5 2h0m0 2.5h0m0.5 -5h0m0 2h0m0 3h0m0.5 -5.5h0m0 0.5h0m0 2h0m0 2h0m0 -0.5h0m0 1h0m0.5 -4h0m0 2h0m0 2.5h0m0 -1h0m0.5 -2.5h0m0 2.5h0m0 -0.5h0m0 -1h0m0 2.5h0m0.5 0h0m0 -0.5h0m0.5 -4h0m0 0.5h0m0 3h0m0 -1h0m0 2h0m0 -0.5h0m0.5 -3.5h0m0 3.5h0m0 -5h0m0.5 5h0m0 -1h0m0 -3.5h0m0 2h0m0.5 -2h0m0.5 1h0m0 1.5h0m0 -2.5h0m0 -0.5h0m0 2.5h0m0.5 0.5h0m0 1.5h0m0 -0.5h0m0 -4h0m0 1h0m0.5 3.5h0m0 -1h0m0.5 -2.5h0m0 -0.5h0m0.5 2.5h0m0 -1h0m0.5 -1h0m0 0.5h0m0 4h0m0 -1h0m0.5 -0.5h0m0 -0.5h0m0 -1.5h0m0.5 -2h0m0 0.5h0m0 2.5h0m0 0.5h0m0 2h0m0.5 -5.5h0m0 2h0m0 3.5h0m0 -1.5h0m0.5 -3h0m0 3h0m0 -1h0m0 2h0m0 -4.5h0m0.5 3h0m0 1.5h0m0 -4.5h0m0 0.5h0m0.5 3h0m0 -3h0m0 0.5h0m0 3.5h0m0.5 -4.5h0m0 2h0m0 -1h0m0 4h0m0 -0.5h0m0.5 -4.5h0m0 -0.5h0m0 1h0m0.5 1.5h0m0 -1h0m0 1.5h0m0 2h0m0 0.5h0m0.5 -1h0m0 -2h0m0 0.5h0m0.5 2h0m0 -5h0m0 2.5h0m0 -1h0m0 -0.5h0m0 3h0m0 -1h0m0 0.5h0m0.5 -1h0m0 -1h0m0.5 -1.5h0m0 1h0m0 3.5h0m0.5 1h0m0 -3.5h0m0 -0.5h0m0 3h0m0.5 -4.5h0m0 2.5h0m0 0.5h0m0 2.5h0m0.5 -4h0m0 2.5h0m0.5 -2.5h0m0 -0.5h0m0 2.5h0m0 1.5h0m0.5 -4.5h0m0 2h0m0 -1h0m0 1.5h0m0 0.5h0m0 1.5h0m0 0.5h0m0.5 -5.5h0m0 0.5h0m0 4h0m0 -1h0m0 1.5h0m0 0.5h0m0.5 -3.5h0m0 -1h0m0 3h0m0.5 -1.5h0m0 -1h0m0 3h0m0 1h0m0 -5.5h0m0.5 2.5h0m0 2h0m0 1h0m0.5 -5h0m0 1.5h0m0 -1h0m0 3.5h0m0 -1h0m0 1.5h0m0 0.5h0m0.5 -5h0m0 -0.5h0m0 2h0m0 -1h0m0 2h0m0.5 -1h0m0 2h0m0 1h0m0.5 -3.5h0m0 3.5h0m0 -0.5h0m0 -2h0m0.5 -2h0m0 1.5h0m0.5 0h0m0 3h0m0 -0.5h0m0 -4.5h0m0.5 0.5h0m0 -0.5h0m0 4h0m0 0.5h0m0 1h0m0.5 -4h0m0 2h0m0 1h0m0 -4h0m0 2h0m0.5 0.5h0m0 2h0m0 -3h0m0 2h0m0.5 -3h0m0 -1h0m0.5 4h0m0 -1h0m0 2.5h0m0 -5h0m0 2h0m0 -0.5h0m0.5 2.5h0m0 -4.5h0m0 3.5h0m0 2h0m0.5 -5.5h0m0 2.5h0m0 -1h0m0 -0.5h0m0 3h0m0 0.5h0m0.5 -0.5h0m0 0.5h0m0 -4h0m0 -0.5h0m0 2.5h0m0 -0.5h0m0 -1h0m0.5 2h0m0 2.5h0m0 -3.5h0m0 -0.5h0m0 2.5h0m0.5 -2.5h0m0 2h0m0 -0.5h0m0 2.5h0m0.5 -2.5h0m0 2.5h0m0 -0.5h0m0.5 -3.5h0m0 2h0m0 1.5h0m0.5 -2.5h0m0 0.5h0m0 2h0m0.5 -4.5h0m0 1h0m0 2h0m0.5 -3.5h0m0 1h0m0.5 -0.5h0m0 0.5h0m0 4h0m0 -1h0m0.5 -1.5h0m0 1h0m0 1h0m0.5 -4h0m0 3.5h0m0 -1h0m0 0.5h0m0.5 -3.5h0m0 3h0m0.5 -3h0m0 3h0m0 1.5h0m0 -0.5h0m0.5 -4h0m0 2.5h0m0 -1h0m0 -0.5h0m0 2.5h0m0.5 -3h0m0 0.5h0m0.5 -1h0m0 3h0m0.5 -3h0m0 2.5h0m0 -1h0m0 4h0m1 -5h0m0 -0.5h0m0 4h0m0.5 -2h0m0.5 -1h0m0 3.5h0m0.5 -3.5h0m0 2.5h0m0.5 -2h0m0 -0.5h0m0 2h0m0 2h0m0.5 -5h0m0 2.5h0m0 -1h0m0 2.5h0m0.5 -3h0m0 2h0m0 2.5h0m0.5 -4h0m0 4h0m0.5 -4.5h0m0.5 -0.5h0m0 1.5h0m0.5 3h0m0.5 -1h0m0 -0.5h0m0.5 -1h0m0 -1.5h0m0 2h0m0 2.5h0m0.5 -4.5h0m0 -1h0m0 0.5h0m0.5 3h0m0.5 -2.5h0m1 0h0m0 1.5h0m1 -1.5h0m0 2h0m1 -2h0m0.5 0h0m0 3h0m1.5 0.5h0m0.5 -3h0m0.5 3.5h0m0.5 -3.5h0m0.5 -1.5h0m6 3.5h0m2 -0.5h0m1.5 -2.5h0m3.5 2.5h0m2.5 -2.5h0m13.5 0h0m22 4.5h0m-117 5h0m1.5 0.5h0m1 -1.5h0m0.5 1.5h0m0.5 -0.5h0m0 0.5h0m1 -1h0m1.5 -3.5h0m0.5 4.5h0m1 0h0m0.5 -3.5h0m0 3.5h0m0.5 -3.5h0m0 3.5h0m1.5 -1h0m0 1h0m1 -0.5h0m0 0.5h0m0.5 -4h0m1 1h0m0.5 1.5h0m0 1.5h0m0.5 -3.5h0m0 3.5h0m0.5 0h0m1 -3.5h0m0 3.5h0m0.5 -0.5h0m0 0.5h0m0.5 -4.5h0m0.5 4.5h0m0.5 0h0m0 -4.5h0m0.5 4.5h0m0 -3.5h0m0.5 2h0m0 -1h0m0 0.5h0m0.5 2h0m0 -1h0m0.5 -3h0m0 2.5h0m0 1.5h0m0.5 0h0m0 -3.5h0m0 2.5h0m0.5 1h0m0 -4h0m0 -0.5h0m0.5 4.5h0m0.5 -4.5h0m0 0.5h0m0 3h0m0 1h0m0.5 0h0m0.5 0h0m0.5 -1h0m0 1h0m0.5 -3.5h0m0 3.5h0m0.5 -4.5h0m0 2h0m0 2.5h0m0.5 0h0m0.5 -3.5h0m0 -0.5h0m0 2.5h0m0.5 1.5h0m0.5 -3h0m0 -0.5h0m0 -1h0m0 4.5h0m0.5 0h0m0.5 -4.5h0m0 3.5h0m0 1h0m0.5 -2.5h0m0 2.5h0m0.5 -3h0m0 1h0m0 -0.5h0m0 2.5h0m0.5 0h0m0 -0.5h0m0.5 -2.5h0m0 1h0m0 2h0m0.5 -4h0m0 3h0m0.5 -3.5h0m0 0.5h0m0 3h0m0 -1h0m0 2h0m0.5 -4.5h0m0 4.5h0m0 -0.5h0m0.5 -2.5h0m0 -1.5h0m0 4h0m0 0.5h0m0.5 -4h0m0 -0.5h0m0 2h0m0 2.5h0m0 -3h0m0 -0.5h0m0.5 0h0m0 0.5h0m0 -1.5h0m0 3h0m0 1.5h0m0.5 -1h0m0 -1.5h0m0 2.5h0m0.5 0h0m0 -0.5h0m0 -3h0m0 0.5h0m0 -1.5h0m0 0.5h0m0 2h0m0.5 2h0m0 -0.5h0m0 -2.5h0m0 -0.5h0m0 1.5h0m0.5 2h0m0 -3h0m0 -0.5h0m0 -1h0m0.5 4.5h0m0 -0.5h0m0 -2.5h0m0 -1.5h0m0 0.5h0m0.5 4h0m0 -3h0m0 -1h0m0.5 0h0m0 2h0m0 2h0m0.5 0h0m0 -4.5h0m0.5 4.5h0m0 -3h0m0 -1.5h0m0 3h0m0.5 0h0m0 1.5h0m0 -3h0m0 -1.5h0m0.5 2h0m0 2.5h0m0 -0.5h0m0 -2.5h0m0 -0.5h0m0 2h0m0.5 -1.5h0m0 -0.5h0m0 3.5h0m0.5 -3.5h0m0 2.5h0m0 1h0m0.5 -3.5h0m0 -0.5h0m0 -0.5h0m0 3h0m0 -1h0m0 2.5h0m0.5 -0.5h0m0 0.5h0m0 -2.5h0m0.5 -2h0m0 2h0m0 0.5h0m0 2h0m0.5 -3h0m0 1.5h0m0 -1h0m0 2.5h0m0.5 -1.5h0m0 1.5h0m0 -0.5h0m0.5 -2.5h0m0 -1h0m0 3h0m0 -0.5h0m0 1.5h0m0.5 -3h0m0 -0.5h0m0 3.5h0m0 -1h0m0 -0.5h0m0.5 0.5h0m0 1h0m0 -3.5h0m0 0.5h0m0.5 1h0m0 2h0m0 -1h0m0.5 -3.5h0m0 1h0m0 2.5h0m0 -1.5h0m0 2.5h0m0.5 -3.5h0m0 2.5h0m0 -0.5h0m0 -1h0m0 2.5h0m0.5 -3h0m0 0.5h0m0 2.5h0m0.5 -1.5h0m0 -0.5h0m0 2h0m0.5 0h0m0 -0.5h0m0.5 -4h0m0 3.5h0m0 -1h0m0 2h0m0.5 -4h0m0 1.5h0m0 2.5h0m0.5 -0.5h0m0 -1h0m0 -2h0m0 -1h0m0.5 4.5h0m0.5 -3.5h0m0 3.5h0m0.5 -3.5h0m0 3.5h0m0 -4h0m0.5 4h0m0.5 -3h0m0 -1.5h0m0 3.5h0m0 1h0m0.5 -2.5h0m0 2.5h0m0 -3.5h0m0 2h0m0.5 -3h0m0 2.5h0m0.5 -2.5h0m0 4.5h0m0 -3h0m0.5 1h0m0 2h0m0 -3h0m0 -0.5h0m0.5 3.5h0m0 -4h0m0 -0.5h0m0.5 4.5h0m0.5 0h0m0.5 0h0m0 -4.5h0m0 3.5h0m0.5 1h0m0.5 0h0m1 0h0m0.5 0h0m0 -4.5h0m0 0.5h0m0.5 4h0m0 -4h0m0 1h0m0 1.5h0m0.5 -1h0m0 2.5h0m0.5 -4.5h0m0 3h0m0 1.5h0m0.5 -4.5h0m0.5 1h0m0 1h0m0 2.5h0m0.5 -1h0m0 -0.5h0m0 1.5h0m0.5 -3h0m0 1h0m0 2h0m0.5 -4h0m0 4h0m0.5 -4.5h0m0.5 4.5h0m0.5 -0.5h0m0 -2.5h0m0.5 1h0m0 2h0m0.5 -2.5h0m0.5 2.5h0m1 0h0m1 0h0m1 0h0m1 -4.5h0m1.5 4.5h0m1 -2.5h0m0.5 -1.5h0m5.5 -0.5h0m0 1.5h0m1 0.5h0m5.5 2.5h0m0.5 -4.5h0m10.5 4.5h0m11 -2h0m3.5 2h0"/><g stroke="#1a1a1a" stroke-width="1.3" fill="none"><rect x="296.6" y="478.2" width="169.4" height="169.4"/><path d="M362.8 478.2V647.6" stroke="#666" stroke-width="1.5"/><path d="M296.6 573.3H466.0" stroke="#555" stroke-width="1.2"/><path d="M292.3 647.6H296.6M296.6 647.6V651.1M294.6 634.9H296.6M309.3 647.6V649.6M294.6 627.4H296.6M316.8 647.6V649.6M294.6 622.1H296.6M322.1 647.6V649.6M294.6 618.0H296.6M326.2 647.6V649.6M294.6 614.6H296.6M329.6 647.6V649.6M294.6 611.8H296.6M332.4 647.6V649.6M294.6 609.4H296.6M334.8 647.6V649.6M294.6 607.2H296.6M337.0 647.6V649.6M292.3 605.2H296.6M339.0 647.6V651.1M294.6 592.5H296.6M351.7 647.6V649.6M294.6 585.0H296.6M359.2 647.6V649.6M294.6 579.8H296.6M364.4 647.6V649.6M294.6 575.6H296.6M368.6 647.6V649.6M294.6 572.3H296.6M371.9 647.6V649.6M294.6 569.5H296.6M374.7 647.6V649.6M294.6 567.0H296.6M377.2 647.6V649.6M294.6 564.8H296.6M379.4 647.6V649.6M292.3 562.9H296.6M381.3 647.6V651.1M294.6 550.2H296.6M394.0 647.6V649.6M294.6 542.7H296.6M401.5 647.6V649.6M294.6 537.4H296.6M406.8 647.6V649.6M294.6 533.3H296.6M410.9 647.6V649.6M294.6 529.9H296.6M414.3 647.6V649.6M294.6 527.1H296.6M417.1 647.6V649.6M294.6 524.7H296.6M419.5 647.6V649.6M294.6 522.5H296.6M421.7 647.6V649.6M292.3 520.5H296.6M423.7 647.6V651.1M294.6 507.8H296.6M436.4 647.6V649.6M294.6 500.3H296.6M443.9 647.6V649.6M294.6 495.1H296.6M449.1 647.6V649.6M294.6 490.9H296.6M453.3 647.6V649.6M294.6 487.6H296.6M456.6 647.6V649.6M294.6 484.8H296.6M459.4 647.6V649.6M294.6 482.3H296.6M461.9 647.6V649.6M294.6 480.1H296.6M464.1 647.6V649.6M292.3 478.2H296.6M466.0 647.6V651.1" stroke-width="1"/></g><g font-weight="bold" font-size="7.2" fill="#222"><text x="278.2" y="652.2">10<tspan font-size="5.2" dy="-3.6">0</tspan></text><text x="290.8" y="664.0">10<tspan font-size="5.2" dy="-3.6">0</tspan></text><text x="278.2" y="609.9">10<tspan font-size="5.2" dy="-3.6">1</tspan></text><text x="333.2" y="664.0">10<tspan font-size="5.2" dy="-3.6">1</tspan></text><text x="278.2" y="567.5">10<tspan font-size="5.2" dy="-3.6">2</tspan></text><text x="375.5" y="664.0">10<tspan font-size="5.2" dy="-3.6">2</tspan></text><text x="278.2" y="525.1">10<tspan font-size="5.2" dy="-3.6">3</tspan></text><text x="417.9" y="664.0">10<tspan font-size="5.2" dy="-3.6">3</tspan></text><text x="278.2" y="482.8">10<tspan font-size="5.2" dy="-3.6">4</tspan></text><text x="460.2" y="664.0">10<tspan font-size="5.2" dy="-3.6">4</tspan></text></g><path stroke="#000" stroke-width="1.6" stroke-linecap="square" fill="none" d="M458 490h0m1 3h0m-47 9h0m8 1h0m2 -3h0m2 2h0m2 1h0m4 -2h0m2 -3h0m4 4h0m5 -2h0m-59 9h0m22 -1h0m12 -3h0m1 3h0m2 -1h0m4 -2h0m2 3h0m1 -1h0m2 -1h0m3 3h0m2 -5h0m1 3h0m5 -2h0m-69 10h0m8 0h0m21 -5h0m7 2h0m16 1h0m7 1h0m7 -3h0m2 -1h0m2 2h0m-135 9.5h0m0 -4h0m63 0.5h0m40 1h0m2 0h0m14 0h0m10 -3h0m0 3h0m-81.5 8.5h0m17.5 -3.5h0m6 1h0m7 1h0m7 -4h0m2 2h0m16 1h0m5 0h0m3 0h0m4 -1h0m9 2h0m6 -1h0m9 -1h0m9 1h0m-53 6h0m6 0h0m11 2h0m33 -1h0m-85 5h0m15 1h0m2 0h0m40 -4h0m13 5h0m7 -3h0m3 -1h0m-94.5 7.5h0m15.5 -2.5h0m32 0h0m38 5h0m-97.5 3.5h0m47.5 -1.5h0m6 1h0m3 0h0m-43.5 8.5h0m3 -1h0m56.5 -0.5h0m-76.5 8.5h0m4 0h0m37.5 -2.5h0m28 -3h0m42 4h0m-78 2h0m2 4h0m1.5 -0.5h0m6.5 -3.5h0m8 2h0m3 2h0m9 -1h0m19 2.5h0m9 -1.5h0m10 -1h0m7 2h0m-118 6.5h0m2 -1h0m39.5 -2h0m33.5 -1.5h0m15 3.5h0m4.5 -1.5h0m6.5 -1.5h0m4 1.5h0m7 -2h0m1.5 -0.5h0m9.5 0.5h0m-140 5.5h0m1 2.5h0m0.5 1h0m3 -2.5h0m13 -0.5h0m5 0h0m4.5 3h0m26 -3h0m55 -0.5h0m0 2h0m4 1h0m1 0h0m6.5 -2h0m0 1.5h0m2 -2.5h0m1 4h0m1 -4.5h0m1 3.5h0m0 1h0m12.5 -3h0m7.5 4h0m-141.5 5.5h0m28.5 -1.5h0m9 1.5h0m7.5 -0.5h0m57 0h0m0.5 0.5h0m1.5 -2.5h0m2.5 3h0m1 -1.5h0m1 -4h0m3.5 2h0m1.5 0.5h0m1 3h0m1 -1.5h0m3 -0.5h0m1 -3.5h0m0.5 1.5h0m2 3.5h0m1 -2.5h0m2.5 0h0m2.5 0h0m3.5 0.5h0m0.5 -2.5h0m14 1.5h0m-159.5 6h0m0 3.5h0m6 -5h0m1 5h0m2 -2h0m3 -2h0m2 0.5h0m5.5 3h0m2 0h0m1 -4.5h0m4.5 5h0m6 0h0m3 -4h0m6.5 4h0m2.5 -0.5h0m1 0.5h0m1 -1.5h0m7 0.5h0m1 0h0m10 0.5h0m2 -3h0m39 3h0m2.5 0h0m2 -3.5h0m1.5 4h0m0 -0.5h0m1 -3h0m0.5 2h0m0.5 -2h0m1 -0.5h0m0 1h0m1 -2h0m1.5 3.5h0m1.5 -0.5h0m3.5 -0.5h0m0.5 2.5h0m0.5 -3h0m1.5 -1.5h0m0 3.5h0m1.5 0.5h0m1 -1h0m0 -2.5h0m0.5 4h0m0.5 -2h0m2.5 0h0m1.5 -2.5h0m1 2.5h0m0.5 -3.5h0m0.5 0h0m1 2h0m2 2h0m1 -0.5h0m1.5 -3h0m0.5 0h0m-140.5 7h0m0 2h0m0 -1.5h0m0 2h0m1.5 1h0m1.5 -0.5h0m0.5 -3h0m0.5 3h0m0.5 -2.5h0m0.5 3.5h0m2.5 -2.5h0m0 -2.5h0m0.5 -0.5h0m0.5 0h0m0.5 1.5h0m1 1h0m0.5 2.5h0m0 -5h0m0.5 4.5h0m1 -0.5h0m0 1.5h0m1 -0.5h0m0 -0.5h0m1 -1.5h0m0.5 1.5h0m0 1h0m0.5 -1h0m0.5 0h0m0.5 -3.5h0m0.5 4.5h0m0 -3.5h0m0.5 -1h0m0 2h0m0 2.5h0m0.5 -0.5h0m1 -3h0m1 -1h0m0.5 2h0m1 2.5h0m0 -1.5h0m0.5 -2h0m2 2h0m0.5 -2.5h0m0 1.5h0m1.5 0h0m0.5 0h0m0 -0.5h0m1 3h0m0.5 -4h0m0 0.5h0m0 2h0m0.5 -0.5h0m0 1h0m0.5 -1h0m0.5 -1.5h0m0.5 1.5h0m0.5 -2h0m0.5 3.5h0m0.5 -2h0m0 0.5h0m0 2h0m0.5 -0.5h0m0 0.5h0m0.5 -5.5h0m0.5 1.5h0m0 2h0m0.5 1.5h0m0 -1h0m0.5 1h0m0.5 -0.5h0m1.5 1h0m0.5 -2h0m0.5 0h0m0.5 2h0m0 -5.5h0m0.5 4h0m0.5 1.5h0m0.5 -2.5h0m0 0.5h0m1 -2.5h0m0.5 -0.5h0m0.5 4h0m0 0.5h0m1 0.5h0m0 -3.5h0m0.5 2.5h0m0.5 1h0m0.5 -1.5h0m0.5 -2.5h0m1 4h0m0.5 -1h0m0.5 0.5h0m0 -4.5h0m0.5 3.5h0m0.5 -1.5h0m0.5 1h0m0 -2h0m0.5 3.5h0m1 -1h0m0.5 0.5h0m0.5 1h0m0 -0.5h0m0 -0.5h0m0.5 1h0m1 -5h0m0.5 5h0m1 -1h0m0 0.5h0m0.5 -3.5h0m0.5 3h0m1 1h0m1 -2h0m0 1.5h0m0 -1h0m0.5 -0.5h0m0 1h0m1 -4h0m0 3.5h0m0.5 -1h0m0.5 1.5h0m0.5 0h0m1 0.5h0m0.5 -0.5h0m0.5 1h0m0.5 0h0m0.5 -5h0m0.5 5h0m0 -3.5h0m0.5 1h0m0 2.5h0m1 -1h0m0.5 -1.5h0m0.5 1h0m0.5 0.5h0m0.5 -1.5h0m1 2h0m0.5 -3h0m1 1h0m0.5 1.5h0m0 -0.5h0m1 1.5h0m0.5 -0.5h0m1 -0.5h0m1.5 -3h0m0.5 4h0m0 -1h0m3 -3.5h0m2.5 0.5h0m2 4h0m2.5 -4.5h0m1 4.5h0m13 -0.5h0m0.5 -1.5h0m1 -2h0m1 0.5h0m1 -2h0m0 4.5h0m1.5 0.5h0m1 -2h0m0.5 -2h0m0 4h0m1 -3h0m1.5 0h0m1.5 -0.5h0m1.5 -1.5h0m0.5 1.5h0m0.5 1h0m1 2h0m0 -1.5h0m1 -3h0m0 4.5h0m0.5 -4h0m0.5 2h0m1 -1.5h0m1 2.5h0m0 -1h0m1 -1h0m0 1.5h0m0 -1h0m0 2.5h0m1 1h0m0 -0.5h0m0.5 -3.5h0m0.5 1h0m0 0.5h0m1.5 2.5h0m1 0h0m1.5 -5.5h0m0.5 3.5h0m0.5 0.5h0m0 -3h0m0 2h0m0.5 1.5h0m3 -4.5h0m0.5 5.5h0m1 -4h0m0.5 0h0m0 1.5h0m0.5 -2.5h0m3.5 4.5h0m1.5 0.5h0m6 -1h0m-140 4h0m0 -1h0m0 -0.5h0m0 2.5h0m0 -0.5h0m0 2.5h0m0 -0.5h0m0 -4.5h0m0.5 2.5h0m1 2h0m1 -1h0m0 -3h0m0 2.5h0m0 1.5h0m0.5 -4h0m0 3.5h0m0.5 -1h0m0.5 2h0m0 -4.5h0m0.5 3.5h0m0 -3.5h0m0.5 1.5h0m0.5 -2.5h0m0 1h0m0 2h0m0 0.5h0m0.5 2h0m0 -5h0m0 2h0m1 3h0m0 -3.5h0m0.5 0.5h0m0.5 1.5h0m0 -1h0m0.5 1.5h0m1 -4.5h0m0 5.5h0m0.5 -3.5h0m0 2.5h0m0 -3.5h0m0 4h0m0.5 0h0m0 -3h0m0 2.5h0m0.5 -2.5h0m0 2h0m0.5 1h0m0 -2.5h0m0 1.5h0m0 -2.5h0m0.5 -1.5h0m0 2.5h0m0 2h0m0 -3h0m0 1.5h0m0 0.5h0m0 2h0m0.5 -4h0m0 4h0m0 -5.5h0m0.5 2.5h0m0 1.5h0m0.5 -1h0m0.5 0h0m0 2.5h0m0 -5h0m0.5 1.5h0m0 2.5h0m0.5 -1h0m0 2h0m0 -1.5h0m0.5 -1.5h0m0 -1h0m0 4h0m0.5 -3h0m0 1.5h0m0 -0.5h0m0.5 -1.5h0m0 2.5h0m0 -0.5h0m0.5 0.5h0m0 -1.5h0m0.5 2h0m0 -3.5h0m0 1.5h0m0.5 1.5h0m0 -0.5h0m0 -1h0m0 0.5h0m0.5 -2.5h0m0 4.5h0m0.5 -3h0m0 1.5h0m0.5 -0.5h0m0 -1.5h0m0 2.5h0m0.5 0.5h0m0 -4.5h0m0 3.5h0m0 0.5h0m0 -3.5h0m0 2.5h0m0.5 -1h0m0 2h0m0 -1h0m0.5 1h0m0 -3.5h0m0.5 0h0m0 2.5h0m0 -1.5h0m0 0.5h0m0.5 -1.5h0m0 2h0m0 2.5h0m0.5 -1h0m0.5 -2h0m0 -0.5h0m0 -1h0m0 2.5h0m0 1.5h0m0.5 -0.5h0m0 -0.5h0m0 -0.5h0m0.5 1h0m0.5 0.5h0m0 -5h0m0 0.5h0m0 4h0m0 -1h0m0 -0.5h0m0.5 -2.5h0m0 1h0m0 -0.5h0m0.5 1.5h0m0 2h0m0 -1.5h0m0 2h0m0 0.5h0m0.5 -1h0m0 -1h0m0 1.5h0m0 -4.5h0m0.5 5h0m0 -5h0m0 -0.5h0m0 4.5h0m0 -1.5h0m0.5 -0.5h0m0 1.5h0m0 0.5h0m0 -3h0m0 -0.5h0m0 2h0m0.5 -0.5h0m0 -0.5h0m0 2h0m1 1.5h0m0 -3.5h0m0 -0.5h0m0.5 3.5h0m0 -3.5h0m0 1.5h0m0.5 1.5h0m0 -3.5h0m0 2h0m0.5 -0.5h0m0 2h0m0 -1.5h0m0.5 -1h0m0 1h0m0 2.5h0m0.5 -5h0m0 -0.5h0m0 4h0m0 -3h0m0 2.5h0m0 -0.5h0m0 2h0m0 0.5h0m0.5 -3h0m0 -0.5h0m0 2.5h0m0.5 -3h0m0 2h0m0 1.5h0m0.5 0h0m0 0.5h0m0 -3.5h0m0 2.5h0m0 -3h0m0 2h0m0.5 -3.5h0m0.5 1h0m0 4h0m0 -3h0m0 2h0m0.5 -3h0m0.5 1h0m0 0.5h0m0 -1.5h0m0 4.5h0m0.5 -3h0m0 1h0m0 -3.5h0m0.5 5h0m0 -1.5h0m0.5 -2.5h0m0 2.5h0m0 -0.5h0m0.5 1.5h0m0 -1h0m0 1.5h0m0 0.5h0m0.5 -2.5h0m0 2.5h0m0.5 -2h0m0 -0.5h0m0 1.5h0m0.5 0.5h0m0 0.5h0m0 -5h0m0 -0.5h0m0 2.5h0m0.5 2h0m0.5 -2.5h0m0 2.5h0m0 -3h0m0 1.5h0m0 -3h0m0.5 0h0m0 1.5h0m0.5 0.5h0m0 2h0m0 -0.5h0m0.5 2h0m0 -3h0m0.5 1h0m0.5 -1.5h0m0 2h0m0 -3h0m0 -1h0m0.5 1h0m0 4.5h0m0 -3.5h0m0.5 3h0m0 0.5h0m0 -3h0m0.5 -1.5h0m0 3h0m0.5 -4h0m0 0.5h0m0 2h0m0 2h0m0 -0.5h0m0 -1h0m0.5 -0.5h0m0 2h0m0 0.5h0m0.5 -3h0m0 2.5h0m0 -3.5h0m0 4h0m0.5 -3h0m0 2.5h0m0 -3h0m0 1.5h0m0.5 -2.5h0m0 3h0m0 2h0m0.5 -2h0m0.5 -1h0m0.5 1h0m0 1.5h0m0 -4.5h0m0 1.5h0m0 0.5h0m0.5 2.5h0m0 -3.5h0m0 -0.5h0m0 2.5h0m0.5 -3h0m0 4h0m0 -3h0m0 4h0m0.5 -2.5h0m0 0.5h0m0 2h0m0 -0.5h0m0 -5h0m0.5 0h0m0 2h0m0 0.5h0m0 1.5h0m0.5 -3.5h0m0 1.5h0m0 1h0m0.5 -0.5h0m0 -0.5h0m0 1h0m0.5 -0.5h0m0 1.5h0m0.5 0h0m0 -2.5h0m0 2h0m0 2h0m0 -5h0m0.5 0.5h0m0 -1h0m0.5 4.5h0m0 -3.5h0m0 2.5h0m0 1.5h0m0.5 0h0m0 -2.5h0m0 2h0m0 -1h0m0.5 -2h0m0 1.5h0m0 2.5h0m0.5 -5.5h0m0 2.5h0m0 -0.5h0m0 2.5h0m0 -3h0m0 1.5h0m0.5 -2.5h0m0 5h0m0 -0.5h0m0.5 -5h0m0 3h0m0 2h0m0 0.5h0m0.5 -3.5h0m0 3h0m0.5 -1h0m0 1h0m0.5 -1h0m0 1h0m0.5 -2.5h0m0 3h0m0 -0.5h0m0.5 -1.5h0m0 1.5h0m0 -4.5h0m0.5 2.5h0m0 -2.5h0m0 3.5h0m0.5 -3h0m0 2h0m0 2h0m0 0.5h0m0 -5.5h0m0 2h0m0.5 3h0m0 -4h0m0 2h0m0.5 -2.5h0m0 4h0m0 -3h0m0.5 3h0m0 -1.5h0m0 0.5h0m0.5 -1.5h0m0 2h0m0 -3h0m0 -0.5h0m0.5 1.5h0m0 1h0m0 2h0m0.5 -2.5h0m0 2h0m0 1h0m1 -3h0m0 -1.5h0m0 4h0m0.5 -2h0m0 -3h0m0.5 4.5h0m0 -0.5h0m0 -2.5h0m0 2h0m0 -1h0m0.5 0h0m0 0.5h0m0 2.5h0m0.5 -5.5h0m0.5 3.5h0m0.5 -1h0m0 2h0m0 1h0m0.5 -5h0m0 2h0m1 1.5h0m0 -2.5h0m0.5 0h0m0.5 2h0m0 2h0m0 -3h0m0 1.5h0m0.5 -0.5h0m0.5 1.5h0m0.5 -5h0m0.5 0h0m1 3h0m0.5 0h0m0 -3h0m1 0h0m1 3.5h0m0.5 1.5h0m0 -1.5h0m1 -3h0m0 5h0m0.5 -1h0m0 -1.5h0m0 0.5h0m0 -3.5h0m0.5 3h0m0 2.5h0m0.5 -4h0m0 1.5h0m0 -2.5h0m1.5 4h0m0.5 -1.5h0m0 2.5h0m2 -3.5h0m0 2.5h0m0 0.5h0m0 0.5h0m0.5 -1h0m0.5 -2.5h0m0 3.5h0m0.5 -3h0m0.5 -1.5h0m0 2h0m0.5 -2.5h0m0 1.5h0m0 2.5h0m0.5 0.5h0m0.5 -4h0m0.5 4.5h0m0 -3h0m0.5 1.5h0m0 -2h0m0 0.5h0m1 0h0m0 -2.5h0m1.5 2.5h0m0 1h0m0.5 0.5h0m0.5 -2.5h0m1.5 2h0m0.5 -0.5h0m0 -3h0m0 2h0m0.5 3h0m0 0.5h0m1 -4.5h0m0 4h0m0 -5h0m0 0.5h0m0.5 3h0m0 0.5h0m0.5 -2h0m0.5 2h0m0.5 -1h0m0.5 -1.5h0m0.5 3h0m0 1h0m0.5 -1.5h0m0.5 -1.5h0m0.5 2.5h0m0 -0.5h0m0.5 1h0m0 -5.5h0m0.5 3.5h0m0 -1.5h0m1.5 3.5h0m0 -5h0m0.5 3h0m0.5 2h0m0.5 -2h0m0.5 -2h0m0 1.5h0m0 2.5h0m1.5 -1.5h0m0.5 -1.5h0m1 3h0m1 -0.5h0m1 -2h0m2 1.5h0m0.5 -4h0m0.5 5h0m0 -5h0m0 -0.5h0m0 2.5h0m0.5 -1h0m0 2.5h0m0.5 -0.5h0m0 1.5h0m0.5 -0.5h0m0.5 -1.5h0m0 1.5h0m1 -4.5h0m0 4.5h0m0 -1h0m0.5 -1h0m0 2h0m0 -3.5h0m0 4.5h0m0.5 -4.5h0m1 3.5h0m0 1h0m0.5 -2.5h0m0.5 1.5h0m0 1h0m1.5 -4.5h0m0.5 -1h0m0 2.5h0m0 2h0m0 0.5h0m0.5 -5h0m0.5 4.5h0m0 1h0m3 -5h0m2 2.5h0m1 -2.5h0m1.5 1.5h0m3 0.5h0m4.5 2h0m6.5 -1.5h0m0 1h0m-139 5.5h0m0 2h0m0 -0.5h0m0 -4.5h0m0 -0.5h0m0 2.5h0m0 -0.5h0m0 2.5h0m0 -3.5h0m0 0.5h0m0.5 2.5h0m0.5 -3.5h0m0 0.5h0m0.5 2h0m0 2h0m0 -3h0m0.5 -1h0m0.5 -0.5h0m0 3.5h0m0.5 -2.5h0m0 4h0m0.5 -4.5h0m0 4h0m0 -2.5h0m0.5 -2.5h0m0 4.5h0m0 -0.5h0m0.5 -4h0m0 1.5h0m0 2h0m0.5 -1.5h0m0.5 -1h0m0 0.5h0m0 2h0m0 1.5h0m0 0.5h0m0 -3.5h0m0 2.5h0m0 -0.5h0m0.5 -1.5h0m0.5 -0.5h0m0.5 2h0m0.5 -3h0m0 2.5h0m0 -0.5h0m0 -0.5h0m0.5 3h0m0 -0.5h0m0 -3h0m0.5 1h0m0 -1h0m0.5 -0.5h0m0 -0.5h0m0 2h0m0 -0.5h0m0 -0.5h0m0.5 -0.5h0m0 1.5h0m0 2h0m0 -5h0m0 4.5h0m0.5 -1.5h0m0 2h0m0 0.5h0m0 -3h0m0 1.5h0m0 0.5h0m0.5 -1.5h0m0 2.5h0m0 -5.5h0m0.5 3h0m0 2.5h0m0 -5h0m0 -0.5h0m0 2.5h0m0 -0.5h0m0.5 1h0m0 2h0m0 -0.5h0m0.5 0.5h0m0 0.5h0m0 -5h0m0 4h0m0.5 -0.5h0m0 -0.5h0m0.5 1h0m0 -3h0m0 -0.5h0m0 1.5h0m0.5 -1.5h0m0 0.5h0m0 3.5h0m0 0.5h0m0 -5h0m0 2h0m0.5 -1.5h0m0 2.5h0m0 1.5h0m0 -5h0m0.5 1h0m0 1h0m0.5 1.5h0m0 1.5h0m0 -0.5h0m0.5 1h0m0 -5h0m0 1.5h0m0 2.5h0m0 -0.5h0m0 -0.5h0m0.5 -1.5h0m0 -0.5h0m0 2h0m0.5 -0.5h0m0.5 -1.5h0m0 -0.5h0m0 4h0m0 -4.5h0m0 1.5h0m0.5 -1h0m0 -0.5h0m0 1.5h0m0 0.5h0m0.5 0.5h0m0 2.5h0m0 -0.5h0m0 -0.5h0m0.5 -3h0m0 3.5h0m0 -2.5h0m0 2h0m0.5 -3h0m0 1.5h0m0 2h0m0 -3h0m0.5 2.5h0m0 -3.5h0m0 4h0m0.5 -1.5h0m0 -3.5h0m0 0.5h0m0 2h0m0 1.5h0m0.5 0h0m0 0.5h0m0 0.5h0m0 -4.5h0m0 1.5h0m0.5 1h0m0 2.5h0m0.5 -5h0m0 1.5h0m0 -0.5h0m0 1.5h0m0 2.5h0m0.5 -3.5h0m0 0.5h0m0 1.5h0m0 -2.5h0m0 4h0m0.5 -4h0m0 1.5h0m0 0.5h0m0 1.5h0m0 -4.5h0m0 1.5h0m0 2h0m0.5 -2.5h0m0 -0.5h0m0 2.5h0m0 -3.5h0m0 2h0m0 2.5h0m0 -0.5h0m0.5 -1h0m0 2.5h0m0 -0.5h0m0 -2.5h0m0 1.5h0m0.5 -3h0m0 0.5h0m0 1.5h0m0 2.5h0m0 -3.5h0m0 2h0m0.5 -3h0m0 0.5h0m0 4h0m0 -5h0m0 1.5h0m0.5 -1h0m0 1h0m0 2h0m0.5 -4h0m0 3.5h0m0 1.5h0m0.5 -3h0m0 0.5h0m0.5 1h0m0 1.5h0m0 -5h0m0 2h0m0.5 3.5h0m0 -5.5h0m0 2h0m0 2h0m0.5 -1.5h0m0 -1h0m0 2h0m0 2h0m0 -5h0m0.5 1.5h0m0 2.5h0m0 -3h0m0 -0.5h0m0 -1h0m0.5 3.5h0m0 -0.5h0m0 2h0m0 -3h0m0 0.5h0m0.5 1.5h0m0 -4h0m0 2.5h0m0 -0.5h0m0.5 1h0m0 0.5h0m0 -1h0m0.5 0.5h0m0 0.5h0m0 1.5h0m0 -2.5h0m0 -1h0m0.5 2h0m0 1.5h0m0 0.5h0m0 -5h0m0 -0.5h0m0 4.5h0m0 -0.5h0m0.5 1h0m0 -0.5h0m0.5 -1h0m0 -0.5h0m0 2h0m0 -4.5h0m0 4h0m0.5 -3.5h0m0 2.5h0m0 2h0m0 -3.5h0m0 2.5h0m0.5 -3.5h0m0 2h0m0 0.5h0m0 1.5h0m0 -4.5h0m0 1.5h0m0.5 -1h0m0 2h0m0 2.5h0m0 -5h0m0.5 1h0m0 1.5h0m0 -3h0m0 0.5h0m0 2h0m0 2h0m0.5 -3h0m0 4h0m0 -0.5h0m0 -1h0m0.5 1.5h0m0 -5h0m0 2.5h0m0.5 2.5h0m0 -3.5h0m0 2h0m0 -2.5h0m0 1.5h0m0.5 -2h0m0 2.5h0m0.5 -0.5h0m0 0.5h0m0 1.5h0m0.5 -5h0m0 0.5h0m0 2h0m0 -1h0m0 1.5h0m0 2.5h0m0.5 -3.5h0m0 3.5h0m0 -0.5h0m0.5 0.5h0m0 -5h0m0 -0.5h0m0.5 1h0m0 2h0m0 2.5h0m0 -3h0m0 -0.5h0m0.5 3.5h0m0 -5h0m0 2h0m0 2h0m0 -0.5h0m0.5 -3h0m0 4h0m0 -4.5h0m0 1.5h0m0 2h0m0.5 -1h0m0 0.5h0m0 1.5h0m0 0.5h0m0 -5.5h0m0.5 1.5h0m0 2h0m0 1.5h0m0 -5h0m0 0.5h0m0.5 0.5h0m0 0.5h0m0 2h0m0 -3h0m0 1.5h0m0 0.5h0m0.5 2.5h0m0 0.5h0m0 -5.5h0m0 2h0m0 2h0m0 0.5h0m0.5 -1.5h0m0 2.5h0m0 -5.5h0m0 1h0m0.5 -1h0m0 4h0m0 -3h0m1 0.5h0m0 1.5h0m0 2.5h0m0 -3.5h0m0.5 -0.5h0m0 -0.5h0m0.5 4h0m0 -3h0m0 2h0m0 0.5h0m0.5 -1h0m0 -0.5h0m0 -3h0m0 0.5h0m0 2h0m0 1.5h0m0.5 1h0m0 -2.5h0m0 2h0m0 -3.5h0m0.5 -1h0m0 0.5h0m0 1.5h0m0 2.5h0m0.5 1h0m0 -3.5h0m0 2.5h0m0 -3h0m0.5 0.5h0m0 2h0m0 0.5h0m0 -3h0m0 2h0m0 2h0m0 -5h0m0.5 1.5h0m0 2.5h0m0 -3h0m0 -0.5h0m0 -1h0m0.5 3.5h0m0 2h0m0 -0.5h0m0 -1h0m0 0.5h0m0.5 -3.5h0m0 4h0m0 0.5h0m0.5 -2.5h0m0 2.5h0m0 -3h0m0 2h0m0 -0.5h0m0.5 -2.5h0m0 -1.5h0m0 4.5h0m0.5 1h0m0 -5h0m0 1.5h0m0.5 1.5h0m0 -0.5h0m0 2h0m0 0.5h0m0 -3h0m0 -0.5h0m0 2h0m0 0.5h0m0 -3h0m0.5 1.5h0m0 -0.5h0m0 1.5h0m0.5 -0.5h0m0 -0.5h0m0 -3h0m0 2h0m0 2.5h0m0 -3.5h0m0.5 0.5h0m0 -0.5h0m0 2h0m0 1h0m0.5 -3.5h0m0 1.5h0m0 2h0m0.5 -2.5h0m0 -0.5h0m0 2.5h0m0 -0.5h0m0 2.5h0m0 -0.5h0m0.5 0.5h0m0 -3h0m0 2h0m0 -0.5h0m0.5 -1h0m0 2h0m0 0.5h0m0 -5h0m0 -0.5h0m0 2h0m0 0.5h0m0.5 -1.5h0m0 2.5h0m0 2h0m0 -5h0m0 2h0m0 -0.5h0m0.5 -0.5h0m0 2h0m0 2h0m0 -3h0m0.5 0.5h0m0 2h0m0 0.5h0m0 -5.5h0m0 0.5h0m0 1.5h0m0 2.5h0m0.5 -1.5h0m0.5 -3h0m0 2.5h0m0 1.5h0m0 -3h0m0 4.5h0m0.5 -4.5h0m0 4h0m0 0.5h0m0 -5.5h0m0 4h0m0.5 1h0m0 -1h0m0.5 -2.5h0m0 -1h0m0.5 1.5h0m0 2.5h0m0 -1h0m0 2h0m0 -5.5h0m0.5 3h0m0 -1h0m0.5 -0.5h0m0 1.5h0m0 2h0m0 -3h0m0 0.5h0m0 1.5h0m0.5 -1h0m0 2h0m0 -5h0m0 2h0m0 2.5h0m0.5 -1h0m0 -1.5h0m0 2.5h0m0.5 -3h0m0 -1h0m0 -0.5h0m0.5 4.5h0m0 -3.5h0m0.5 4h0m0 0.5h0m0 -5h0m0 2h0m0 1.5h0m0.5 -3h0m0 2.5h0m0 -0.5h0m0 2h0m0 -2.5h0m0.5 0.5h0m0 2h0m0 -2.5h0m0 -1.5h0m0.5 3h0m0.5 -0.5h0m0 2h0m0 -0.5h0m0.5 0h0m0 -3h0m0 2h0m0.5 -2h0m0 -1h0m1 4h0m0 -5h0m0.5 3.5h0m0 1h0m0 -3h0m0.5 -0.5h0m0 2h0m0 0.5h0m0 -1h0m0 1.5h0m0.5 1.5h0m0 -3.5h0m0 2.5h0m0 -3.5h0m0.5 0.5h0m0 2.5h0m0 0.5h0m0.5 -1h0m0 -3h0m0.5 3h0m0 -3h0m0 4h0m0 -0.5h0m0.5 1.5h0m0 -3h0m0 1.5h0m0.5 1.5h0m0 -1h0m0.5 -3h0m0.5 2h0m0.5 -0.5h0m0 0.5h0m0.5 2h0m0 -3.5h0m0.5 3h0m0 -5h0m0.5 5.5h0m0 -1.5h0m0 0.5h0m0 -3h0m0.5 -0.5h0m0.5 -0.5h0m0.5 2.5h0m0 -3h0m0.5 1.5h0m0 -1h0m0 3.5h0m0.5 -1h0m0 2h0m0 -5h0m0.5 2h0m0 2h0m0 -2.5h0m0 -0.5h0m0 2h0m0.5 -2h0m0.5 1h0m0 3.5h0m0.5 -4h0m0 -0.5h0m0.5 0.5h0m0.5 2h0m0 -0.5h0m0 2h0m0.5 -4.5h0m0 3.5h0m0.5 -0.5h0m0 -3h0m0 1.5h0m0 0.5h0m0.5 0h0m0 2h0m0 -3h0m0.5 3.5h0m0 -0.5h0m0.5 -3.5h0m0 -0.5h0m0 4h0m0.5 -1.5h0m0 -2.5h0m0.5 2.5h0m0 -1h0m0.5 -0.5h0m0.5 1.5h0m0 2.5h0m0.5 -3h0m0.5 2.5h0m0 -3h0m0.5 -1.5h0m0.5 4h0m0.5 1h0m0 -2h0m0.5 1h0m0 -1h0m0.5 0.5h0m0 -1h0m0 0.5h0m0.5 -2.5h0m0 1h0m0.5 1.5h0m0 -3.5h0m0 0.5h0m0.5 4h0m0.5 -1.5h0m0 -1h0m0 -1h0m0.5 -0.5h0m0.5 2.5h0m0 -2.5h0m0.5 1h0m0.5 0.5h0m0 3.5h0m0.5 -4h0m0 -1h0m0 -0.5h0m0.5 0.5h0m0.5 4h0m0 0.5h0m0.5 -3h0m0 -0.5h0m0 2h0m0.5 2h0m1 -2.5h0m0 0.5h0m0 -3.5h0m0 0.5h0m0 2h0m0 2h0m0.5 -4h0m0 3.5h0m0 -3h0m0.5 4.5h0m0 -5.5h0m0.5 2h0m0 2h0m0.5 -1h0m1 1.5h0m0.5 -2h0m0 1.5h0m0 -3h0m0 4.5h0m0.5 -3.5h0m0 2h0m0.5 -4h0m0.5 3.5h0m0 2h0m0 -5.5h0m0.5 2.5h0m0.5 1h0m0 -3h0m0 -0.5h0m0.5 1.5h0m0 4h0m0 -1h0m0.5 -0.5h0m0 -0.5h0m1 -2h0m0.5 -0.5h0m0 4.5h0m0.5 0h0m0 -3.5h0m0 -0.5h0m0.5 3.5h0m0 -1h0m0.5 -0.5h0m0 -0.5h0m0 -0.5h0m1 -2h0m0 3h0m0.5 -1.5h0m1.5 2h0m0 0.5h0m0 -1h0m0 -0.5h0m0 -2.5h0m0.5 3h0m0 1.5h0m0.5 0h0m0 -4h0m0.5 1h0m0.5 2h0m0 -3h0m0 4h0m0.5 -3h0m0 3.5h0m0.5 -3.5h0m0.5 -2h0m0 2h0m0 -0.5h0m0.5 4h0m0 -0.5h0m0.5 -3h0m0 -0.5h0m0.5 0.5h0m0.5 1h0m0 2.5h0m0 -5.5h0m0 1h0m0.5 4.5h0m0.5 0h0m1 -3h0m0 2h0m1.5 1h0m0 -5.5h0m0.5 3h0m1 2h0m0 0.5h0m0 -5.5h0m1 0.5h0m1 3.5h0m1.5 -3.5h0m0 1.5h0m0.5 3.5h0m1 -4.5h0m4 4h0m1.5 0.5h0m0 -3h0m0 2h0m1 -3.5h0m2 0.5h0m2 2h0m4.5 0h0m-137 5h0m0 -0.5h0m0 2.5h0m0 -0.5h0m0 -3h0m0 0.5h0m0 1.5h0m0 0.5h0m0 1.5h0m0 -4.5h0m0.5 1h0m0 1.5h0m0 -1h0m0 2h0m1 1h0m0.5 -1h0m0 0.5h0m0 -3.5h0m0 2.5h0m0 -3h0m0.5 3h0m0 -3.5h0m0 0.5h0m0 0.5h0m0.5 0.5h0m0.5 0h0m0 2h0m0 1.5h0m0.5 -3h0m0 2.5h0m0 -3.5h0m0 0.5h0m1 1.5h0m0 0.5h0m0 1.5h0m0 -0.5h0m0.5 0.5h0m0 -2h0m0.5 -2.5h0m0.5 3.5h0m0 -3h0m0.5 -0.5h0m0 3.5h0m0 -3h0m0 2.5h0m0.5 -0.5h0m0 -1h0m0 -1h0m0 0.5h0m0.5 3.5h0m0 -2.5h0m0 -0.5h0m0 1.5h0m0.5 -3.5h0m0 2.5h0m0 -1h0m0 2h0m0.5 -1.5h0m0 2h0m0 1.5h0m0 -5h0m0.5 0.5h0m0.5 1.5h0m0 1.5h0m0.5 1h0m0 -5h0m0 4h0m0 -3h0m0.5 1.5h0m0.5 3h0m0 -0.5h0m0 -1.5h0m0 -0.5h0m0.5 -2.5h0m0 3.5h0m0 -0.5h0m0 -0.5h0m1 -1h0m0 -1h0m0 4h0m0.5 -4h0m0 2h0m0 2.5h0m0 -0.5h0m0 -5h0m0 2.5h0m0 2h0m0.5 0.5h0m0 -5h0m0 0.5h0m0 3.5h0m0 0.5h0m0.5 0.5h0m0 -2.5h0m0 0.5h0m0.5 -2h0m0 2.5h0m0 2h0m0 -0.5h0m0.5 0h0m0 -5h0m0 4h0m0.5 -3h0m0 0.5h0m0 -1.5h0m0 0.5h0m0 2h0m0 2h0m0 -0.5h0m0.5 -3.5h0m0 2h0m0 -1.5h0m0 2h0m0.5 1.5h0m0 -3h0m0 1.5h0m0 0.5h0m0 2h0m0.5 -5.5h0m0 0.5h0m0 2h0m0 1.5h0m0 -2.5h0m0 1.5h0m0.5 0h0m0 0.5h0m0 1.5h0m0.5 -4.5h0m0 1.5h0m0 -1h0m0.5 1h0m0 2h0m0 0.5h0m0 -3.5h0m0 2.5h0m0 2h0m0 -5h0m0.5 -0.5h0m0.5 3.5h0m0 1.5h0m0.5 0.5h0m0 -1.5h0m0 -3h0m0 0.5h0m0 1.5h0m0 0.5h0m0.5 -2.5h0m0 2h0m0 2.5h0m0 -3h0m0 -0.5h0m0.5 3h0m0 -5h0m0 0.5h0m0 1.5h0m0 2.5h0m0 -3h0m0.5 -1.5h0m0 2.5h0m0 -0.5h0m0 2.5h0m0 -3.5h0m0 2h0m0 2.5h0m0.5 -1h0m0 -1.5h0m0 0.5h0m0 1.5h0m0.5 -1h0m0 -2.5h0m0 1.5h0m0 2h0m0 -4.5h0m0 -0.5h0m0.5 0.5h0m0 -0.5h0m0 2.5h0m0 -1h0m0 -0.5h0m0 2h0m0.5 -0.5h0m0 -1h0m0 1.5h0m0 2.5h0m0 -0.5h0m0 -5h0m0 0.5h0m0.5 1h0m0 3.5h0m0 -4.5h0m0 -0.5h0m0 2h0m0 2.5h0m0.5 -2.5h0m0 2.5h0m0 -3.5h0m0 -0.5h0m0.5 4.5h0m0 0.5h0m0.5 -5h0m0 0.5h0m0 2.5h0m0.5 2h0m0 -0.5h0m0 -1h0m0 -2.5h0m0 1.5h0m0.5 -3h0m0 2h0m0 2h0m0 1h0m0.5 -3h0m0 0.5h0m0 1.5h0m0 -1h0m0 2h0m0.5 -5h0m0 2h0m0 -1h0m0.5 -1h0m0 4.5h0m0 -0.5h0m0.5 1h0m0 0.5h0m0 -5h0m0 2h0m0 -0.5h0m0 2h0m0 -1h0m0.5 -0.5h0m0 0.5h0m0 -3h0m0.5 1.5h0m0 4h0m0.5 -3h0m0 -1.5h0m0 0.5h0m0 1.5h0m0 0.5h0m0 1.5h0m0 -4.5h0m0.5 0.5h0m0 0.5h0m0 4h0m0 -0.5h0m0 -2.5h0m0 -0.5h0m0.5 -2h0m0 4h0m0 0.5h0m0 -3h0m0 -0.5h0m0.5 -0.5h0m0 2h0m0 0.5h0m0 2h0m0 0.5h0m0.5 -5.5h0m0 4.5h0m0 -1.5h0m0 2h0m0 0.5h0m0.5 -3h0m0 -0.5h0m0 2h0m0 -0.5h0m0 2h0m0 -5h0m0.5 0h0m0 1h0m0 -0.5h0m0 4.5h0m0.5 -3.5h0m0 2h0m0 -3h0m0.5 0h0m0 2h0m0 0.5h0m0 -3h0m0 2h0m0.5 -1h0m0 1.5h0m0 2h0m0 0.5h0m0 -3.5h0m0 0.5h0m0 2h0m0.5 1h0m0 -5.5h0m0 4.5h0m0 -1.5h0m0.5 -1h0m0.5 -1.5h0m0 -0.5h0m0 2.5h0m0 2h0m0.5 1h0m0 -5h0m0 2h0m0 -0.5h0m0 2h0m0 -2.5h0m0.5 -1h0m0 4h0m0 -3h0m0 4h0m0.5 -3h0m0 1.5h0m0 0.5h0m0 -3h0m0 1.5h0m0.5 -2h0m0.5 1.5h0m0 -0.5h0m0 2.5h0m0 -0.5h0m0 -3h0m0 4h0m0 -5h0m0 0.5h0m0.5 1.5h0m0 -1h0m0 4h0m0.5 -2.5h0m0 2h0m0 -3h0m0 4h0m0 -5h0m0 -0.5h0m0.5 5.5h0m0 -3.5h0m0 2h0m0 0.5h0m0 -3h0m0 2h0m0.5 -3.5h0m0 5h0m0.5 -4h0m0 2.5h0m0 2h0m0 -0.5h0m0 -4.5h0m0.5 1h0m0 4h0m0 -3h0m0.5 -2h0m0 1.5h0m0 2h0m0 -0.5h0m0.5 -3h0m0 2h0m1 -1h0m0 -0.5h0m0 2.5h0m0 -0.5h0m0 2.5h0m0 -0.5h0m0 -0.5h0m0.5 0h0m0 -3h0m0 1.5h0m0 0.5h0m0 1.5h0m0 -5h0m0 0.5h0m0.5 4h0m0.5 -1h0m0 -3.5h0m0 0.5h0m0 1.5h0m0 2.5h0m0 -0.5h0m0.5 0.5h0m0 -1h0m0 -0.5h0m0 2.5h0m0 -0.5h0m0 -5h0m0 2h0m0.5 0.5h0m0 2h0m0 -3h0m0 1.5h0m0.5 -0.5h0m0 2h0m0 -3.5h0m0 2h0m0.5 -3h0m0 0.5h0m0 1.5h0m0 0.5h0m0 -1.5h0m0 2.5h0m0.5 -1h0m0 1h0m0 2h0m0.5 -1h0m0 -0.5h0m0.5 -2h0m0 0.5h0m0 1.5h0m0 0.5h0m0 -1h0m0 -3.5h0m0.5 1.5h0m0 -0.5h0m0 4h0m0 -4.5h0m0 1.5h0m0 0.5h0m0 1.5h0m0.5 -1h0m0 0.5h0m0 2h0m0 -5h0m0 2h0m0 2h0m0.5 -0.5h0m0 0.5h0m0 -3.5h0m0 4.5h0m0 -5h0m0 -0.5h0m0.5 5h0m0 -4.5h0m0 1.5h0m0 0.5h0m0.5 -0.5h0m0 2.5h0m0 -0.5h0m0 -2.5h0m0 -0.5h0m0 4h0m0.5 -1h0m0 -2.5h0m0 -0.5h0m0 4h0m0 -5h0m0 0.5h0m0 1.5h0m0.5 -1.5h0m0 2h0m0 1.5h0m0 0.5h0m0 -1.5h0m0 2.5h0m0.5 -1h0m0 -3.5h0m0 4h0m0 -4.5h0m0 -0.5h0m0.5 0.5h0m0 4h0m0 -3.5h0m0.5 3.5h0m0 -3.5h0m0 2.5h0m0 -0.5h0m0 2.5h0m0 -5.5h0m0.5 3.5h0m0.5 -2h0m0 -1.5h0m0.5 5.5h0m0 -1h0m0 -3h0m0.5 4h0m0 -5.5h0m0 0.5h0m0 2h0m0 2h0m0.5 -2.5h0m0.5 2.5h0m0 -1.5h0m0 2.5h0m0 -3.5h0m0 0.5h0m0.5 1.5h0m0 -2.5h0m0 2h0m0 1.5h0m0.5 -3h0m0 -0.5h0m0 -0.5h0m0 2h0m0 0.5h0m0.5 -2h0m0 2h0m0 -3h0m0 2h0m0.5 2h0m0 -3.5h0m0 -0.5h0m0 -0.5h0m0 2h0m0.5 0h0m0 2.5h0m0 1h0m0.5 -1.5h0m0.5 -2h0m0 1h0m0 0.5h0m0 1.5h0m0.5 -1.5h0m0 -1h0m0.5 -2h0m0 2h0m0 2h0m0 -3.5h0m0 2.5h0m0.5 1h0m0.5 0.5h0m0 0.5h0m0 -5.5h0m0 2.5h0m0.5 0.5h0m0 -3h0m0 4.5h0m0 -0.5h0m0.5 -0.5h0m0 1.5h0m0.5 0.5h0m0 -5h0m0.5 2h0m0 2h0m0.5 1h0m0.5 -3.5h0m0 2h0m0 -2.5h0m0.5 2.5h0m0 -3h0m0 4h0m0.5 -2.5h0m0 -1.5h0m0.5 3.5h0m0 -0.5h0m0 1h0m0.5 -2.5h0m0 3h0m0.5 -4.5h0m0 0.5h0m0 2h0m0 1.5h0m0.5 -2h0m0 2.5h0m0 -0.5h0m0.5 -3.5h0m0 2h0m0 1.5h0m0 -4.5h0m0 2h0m0.5 -2h0m0 1.5h0m0 -1h0m0 4h0m0.5 -4h0m0 4h0m0.5 -1.5h0m0 2h0m0 -1h0m0.5 -3.5h0m0 0.5h0m0 3.5h0m0 -2.5h0m0 1.5h0m0.5 -2h0m0 -1h0m0 4.5h0m0.5 -4.5h0m0 4h0m0 -4.5h0m0.5 0.5h0m0 -1h0m0.5 3.5h0m0 -1.5h0m0.5 -0.5h0m0 2.5h0m0.5 -3h0m0 2.5h0m0 -3.5h0m1 4.5h0m0 -1.5h0m0 0.5h0m0 1.5h0m0.5 -2h0m0 -1h0m0.5 -0.5h0m0 2h0m0 2h0m0.5 -4.5h0m0.5 -0.5h0m0 -0.5h0m0 4h0m0 -0.5h0m0.5 0h0m0 -0.5h0m0 2h0m1 -3.5h0m0.5 0.5h0m0 -0.5h0m0 4h0m0.5 -1h0m0.5 -1.5h0m0 -1h0m0 2.5h0m0 -0.5h0m1 -2h0m0 1.5h0m0 -3.5h0m1 4.5h0m0 -3h0m0.5 0h0m0.5 0.5h0m0 3h0m0.5 0h0m0 -5h0m0.5 3.5h0m0 2h0m0 -1h0m0.5 -4.5h0m0 2h0m0.5 -0.5h0m0 2h0m0 0.5h0m0.5 -0.5h0m0 -3.5h0m0.5 3h0m0.5 0h0m0 -2.5h0m0.5 3.5h0m0 -2.5h0m0 4h0m0 -5.5h0m0.5 3h0m0.5 1h0m0 -1h0m0 -2.5h0m0.5 1h0m0 -1.5h0m0.5 1h0m0 0.5h0m0.5 0h0m0.5 3.5h0m0.5 -0.5h0m0 -3.5h0m0.5 3.5h0m0.5 -3h0m0 2h0m0.5 -0.5h0m0 -2.5h0m0.5 1h0m0 0.5h0m0.5 3.5h0m0 -0.5h0m0.5 -4h0m0 1h0m0.5 2h0m0 1.5h0m0 -3.5h0m0.5 -1h0m0 -0.5h0m0.5 3.5h0m0.5 0h0m0 -1h0m0.5 -1.5h0m0 2h0m0 1.5h0m0.5 0.5h0m0 -5.5h0m0 2.5h0m0.5 -1.5h0m0 2.5h0m0.5 -3.5h0m0 2.5h0m0 -1h0m0.5 3h0m0 -1h0m0 -3.5h0m0.5 1h0m0 2.5h0m0 -3h0m0 1.5h0m0 2.5h0m0 -0.5h0m0.5 -2.5h0m0.5 0.5h0m0 -1h0m0.5 2.5h0m0 2h0m0 -5h0m0.5 1.5h0m0.5 3h0m1 -5h0m0 2.5h0m0 1.5h0m0 -3h0m0 4.5h0m2 -5h0m0.5 2.5h0m0.5 2h0m0 -4h0m0 2h0m0.5 1.5h0m0 -2.5h0m0.5 -1h0m0 2.5h0m0.5 -1h0m0 1.5h0m0 -3h0m0 2h0m0.5 -0.5h0m0.5 1.5h0m0 1h0m0 -5h0m0 2.5h0m0.5 1h0m0 -1.5h0m1 -2h0m0.5 3h0m0.5 0.5h0m1 -2h0m1 3h0m0 -3h0m0 -0.5h0m0 4h0m0.5 -2h0m0.5 -1.5h0m0.5 3h0m2.5 -2h0m0.5 1.5h0m0 -3.5h0m0.5 1.5h0m0 1.5h0m0.5 -1h0m1 -1h0m0 3.5h0m1 -3h0m0 0.5h0m1 -1.5h0m0.5 3.5h0m0.5 -4.5h0m1 4.5h0m1 -3h0m0.5 -0.5h0m0.5 3.5h0m0.5 -3.5h0m6 0h0m1.5 2h0m1 0h0m1.5 0.5h0m4.5 -2.5h0m7 1.5h0m-146.5 7h0m0 -0.5h0m0 2h0m0 0.5h0m0 -5.5h0m0 2h0m0 0.5h0m0 1.5h0m0 -3h0m0 0.5h0m0.5 2.5h0m0.5 -3h0m0 4h0m0 -2.5h0m0.5 0.5h0m0 -1h0m0.5 0h0m0.5 -2h0m0.5 1h0m0.5 1.5h0m0 2h0m0 1h0m0.5 -5.5h0m0 2.5h0m0 1.5h0m0 1.5h0m0.5 -2h0m0 -3.5h0m0.5 1.5h0m0 3.5h0m0.5 -4h0m0 2.5h0m0 1.5h0m0 0.5h0m0 -5h0m0.5 0.5h0m0 -0.5h0m0 1.5h0m0 2.5h0m1 -1.5h0m0 -0.5h0m0 1.5h0m0.5 0h0m0 -2.5h0m0 1.5h0m0 0.5h0m0.5 -2h0m0 2h0m0 -3.5h0m0 4h0m0.5 -1h0m0 1h0m0.5 -1h0m0 2h0m0 -2.5h0m0 -1h0m0.5 2.5h0m0 -1h0m0 -2.5h0m0.5 4h0m0 -1.5h0m0 0.5h0m0 -1.5h0m0.5 1h0m0 1h0m0.5 1.5h0m0 -5h0m0 4h0m0.5 -3.5h0m0 0.5h0m0 0.5h0m0 2.5h0m0.5 -3h0m0 2h0m0 1.5h0m0 0.5h0m0 -3.5h0m0.5 -1h0m0 -1h0m0 2.5h0m0 2h0m0.5 -1.5h0m0 2.5h0m0 -5.5h0m0 1h0m0.5 -0.5h0m0 1.5h0m0 0.5h0m0 -1.5h0m0 4.5h0m0.5 -4h0m0 -0.5h0m0 2h0m0 -2.5h0m0.5 0.5h0m0 2h0m0 -2.5h0m0 1.5h0m0.5 -0.5h0m0 1.5h0m0 0.5h0m0 -3h0m0 2h0m0.5 1.5h0m0 -3h0m0 2.5h0m0 -0.5h0m0 -2.5h0m0 -0.5h0m0.5 3.5h0m0 1.5h0m0 -3h0m0 2.5h0m0.5 0.5h0m0 -4.5h0m0 -0.5h0m0 2.5h0m0 1.5h0m0.5 0.5h0m0 -1h0m0 2h0m0.5 -4h0m0 1.5h0m0 2h0m0 -2.5h0m0 2h0m0.5 -1.5h0m0 0.5h0m0 2h0m0 -5h0m0 -0.5h0m0.5 3.5h0m0 2h0m0 -3h0m0.5 0.5h0m0 -2.5h0m0 1h0m0.5 -0.5h0m0 2h0m0 0.5h0m0 2h0m0 -5h0m0 -0.5h0m0 2.5h0m0.5 -1.5h0m0 0.5h0m0 2h0m0 -0.5h0m0 2h0m0 -2.5h0m0 2h0m0.5 -1h0m0 1.5h0m0 -4.5h0m0 2h0m0 -0.5h0m0 2h0m0.5 1.5h0m0 -5h0m0 0.5h0m0 0.5h0m0.5 3.5h0m0 -3h0m0 0.5h0m0 1.5h0m0.5 -3h0m0 2h0m0 0.5h0m0 -3.5h0m0 2.5h0m0.5 -2.5h0m0 1.5h0m0 2h0m0.5 1h0m0 -1.5h0m0 2.5h0m0.5 -4.5h0m0 0.5h0m0 1.5h0m0 2h0m0 0.5h0m0 -5h0m0 2h0m0 1.5h0m0.5 1h0m0 -2.5h0m0 2h0m0 -0.5h0m0.5 -3.5h0m0 2h0m0 -1h0m0 2h0m0 1.5h0m0.5 -1.5h0m0 -3h0m0 -0.5h0m0 4h0m0 -2.5h0m0 -0.5h0m0.5 0h0m0 2h0m0 0.5h0m0 2h0m0 -3h0m0 -0.5h0m0 2h0m0.5 -2.5h0m0 -0.5h0m0 4.5h0m0 -5h0m0 1.5h0m0 2h0m0 0.5h0m0.5 -1h0m0 1.5h0m0 -0.5h0m0.5 -3h0m0 2h0m0 -0.5h0m0 2h0m0 0.5h0m0 -5.5h0m0 0.5h0m0.5 0.5h0m0 2.5h0m0 -3h0m0 -0.5h0m0 2h0m0.5 -1h0m0 4h0m0 0.5h0m0 -3.5h0m0 0.5h0m0.5 2h0m0 -3h0m0 2h0m0 -3h0m0 2h0m0.5 3h0m0 -5h0m0 -0.5h0m0 4.5h0m0.5 -1.5h0m0 -2.5h0m0 -0.5h0m0 2.5h0m0 1.5h0m0.5 1.5h0m0 -5.5h0m0 2.5h0m0 -0.5h0m0 2.5h0m0 -3h0m0.5 1.5h0m0 0.5h0m0 1.5h0m0.5 -2h0m0 2.5h0m0.5 -2.5h0m0 2h0m0 0.5h0m0 -3.5h0m0 2h0m0 0.5h0m0 -3.5h0m0.5 -0.5h0m0 2h0m0 -1h0m0 -0.5h0m0 2.5h0m0.5 -3h0m0 -0.5h0m0 2h0m0.5 -1h0m0 -1h0m0 4.5h0m0.5 -3h0m0 1.5h0m0 2.5h0m0 -1.5h0m0.5 -0.5h0m0 1.5h0m0 -5h0m0 2.5h0m0 1.5h0m0 -3h0m0.5 0.5h0m0 -0.5h0m0 2h0m0 0.5h0m0 -3h0m0 2h0m0 2h0m0.5 -3h0m0 -0.5h0m0 4h0m0 0.5h0m0 -3h0m0.5 0.5h0m0 1h0m0.5 1h0m0 0.5h0m0 -3h0m0.5 -1.5h0m0 2h0m0 -0.5h0m0.5 -1.5h0m0 4.5h0m0 -5h0m0 -0.5h0m0 2h0m0 0.5h0m0 2h0m0 -0.5h0m0.5 1h0m0 -4.5h0m0 4h0m0 -0.5h0m0 -3h0m0.5 -0.5h0m0 4h0m0 -3h0m0 2h0m0 -0.5h0m0.5 -2h0m0 2h0m0.5 2h0m0 0.5h0m0 -3h0m0 -1.5h0m0.5 0.5h0m0 -0.5h0m0 2.5h0m0 1.5h0m0 -5h0m0 2h0m0.5 3.5h0m0 -0.5h0m0.5 -4.5h0m0 -0.5h0m0 4h0m0 0.5h0m0.5 -1h0m0 0.5h0m0.5 -3.5h0m0 -0.5h0m0 4h0m0 0.5h0m0 -3h0m0 2h0m0 2h0m0.5 -5h0m0 -0.5h0m0 4h0m0 -3h0m0 2h0m0 2.5h0m0.5 -4h0m0 -0.5h0m0 2.5h0m0 2h0m0 -0.5h0m0 -4.5h0m0 2h0m0 2h0m0.5 -1h0m0 1.5h0m0 -4.5h0m0 -0.5h0m0 2h0m0 0.5h0m0 2h0m0 -0.5h0m0.5 -4h0m0 2h0m0 -0.5h0m0 1.5h0m0 2.5h0m0.5 -4h0m0 4h0m0.5 -4h0m0 -0.5h0m0 4.5h0m0 -0.5h0m0 -5h0m0 2.5h0m0 1.5h0m0.5 1h0m0 -4.5h0m0 2h0m0 -1.5h0m0 0.5h0m0.5 3h0m0 -3h0m0 -0.5h0m0 2h0m0 2h0m0 -5h0m0.5 0h0m0 4.5h0m0 -3h0m0.5 2.5h0m0 0.5h0m0 -3.5h0m0.5 2.5h0m0 1.5h0m0 -2.5h0m0 -0.5h0m0 2.5h0m0 -3h0m0 -0.5h0m0.5 0.5h0m0 2h0m0 2h0m0 -3.5h0m0 0.5h0m0 1.5h0m0.5 -2.5h0m0 -1.5h0m0 2.5h0m0 2h0m0.5 -4h0m0 1.5h0m0 2h0m0 0.5h0m0.5 -1h0m0 1.5h0m0 -5h0m0 4h0m0 0.5h0m0 -3h0m0.5 0.5h0m0 0.5h0m0 -1.5h0m0 -1h0m0.5 4h0m0 -3h0m0 4h0m0.5 0.5h0m0 -5.5h0m0 2.5h0m0 2h0m0 -3h0m0 -0.5h0m0.5 -0.5h0m0 -0.5h0m0 1.5h0m0.5 1.5h0m0 2h0m0 -5h0m0.5 5h0m0 -3.5h0m0 1.5h0m0.5 -3h0m0 2h0m0 2h0m0 -2.5h0m0 4h0m0.5 -3h0m0 -1.5h0m0 2.5h0m0 1.5h0m0.5 -3.5h0m0 3.5h0m0 -4.5h0m0 1.5h0m0 2.5h0m0.5 -4h0m0 2h0m0 1.5h0m0.5 -2.5h0m0 2h0m0 -3.5h0m0.5 3h0m0 0.5h0m0 -3h0m0 -0.5h0m0 4h0m0.5 -3h0m0 3.5h0m0.5 -3.5h0m0 -0.5h0m0 1.5h0m0 0.5h0m0 2h0m0.5 -4.5h0m0 2h0m0 2.5h0m0 -3.5h0m0 2.5h0m0.5 -3h0m0 1.5h0m0 2h0m0 0.5h0m0 0.5h0m0 0.5h0m0.5 -4h0m0 -0.5h0m0 2h0m0 -1h0m0.5 -0.5h0m0 4h0m0.5 -0.5h0m0 -4.5h0m0 -0.5h0m0.5 0h0m0 1.5h0m0 1.5h0m0 0.5h0m0.5 -2.5h0m0 2h0m0 2h0m0 -4.5h0m0 -0.5h0m0 4h0m0.5 -3.5h0m0 -0.5h0m0 4h0m0 -3h0m0.5 2h0m0 -0.5h0m0.5 1h0m0 -2.5h0m0.5 2.5h0m0 2h0m0 -5.5h0m0 1h0m0.5 -1h0m0 0.5h0m0 4h0m0 -1h0m0.5 -3h0m0 1.5h0m0 0.5h0m0 -1h0m0 3.5h0m0.5 -3.5h0m0 3.5h0m0 -4.5h0m0.5 5h0m0 -5.5h0m0 4.5h0m0 -0.5h0m0 -3h0m0.5 1h0m0 2h0m0 -2.5h0m0 2h0m0.5 0.5h0m0 0.5h0m0 1h0m0 -5h0m0.5 1h0m0 -0.5h0m0 2h0m0 2h0m0 -2.5h0m0 1.5h0m0.5 -1h0m0 0.5h0m0 2h0m0 -0.5h0m0 -1h0m0 0.5h0m0.5 -4.5h0m0 1h0m0.5 2.5h0m0 -0.5h0m0 2h0m0 -4.5h0m0 1.5h0m0 2h0m0 -2.5h0m0.5 2.5h0m0 0.5h0m0.5 -4.5h0m0 2h0m0 2h0m0.5 1h0m0 -4.5h0m0 3.5h0m0 -2.5h0m0.5 2h0m0 -3.5h0m0.5 1.5h0m0 -0.5h0m0 -0.5h0m0.5 5h0m0 -3.5h0m0 2.5h0m0.5 0.5h0m0 -4.5h0m0.5 0.5h0m0 1.5h0m0 1.5h0m0.5 -1h0m0.5 -3h0m0 2h0m0.5 -1.5h0m0 -0.5h0m0 5h0m0 0.5h0m0.5 -2h0m0 -3.5h0m0.5 5h0m0 -1h0m0 -2.5h0m0 -0.5h0m0 2h0m0.5 -2.5h0m0 1h0m0 3.5h0m0 0.5h0m0.5 -1h0m0 -4.5h0m0 0.5h0m0.5 1h0m0 -1.5h0m0 2.5h0m0 2h0m0 -0.5h0m0.5 -4h0m0 4h0m0 -2.5h0m0.5 2.5h0m0 -2.5h0m0.5 -1.5h0m0 0.5h0m0.5 2.5h0m0 0.5h0m0 -2.5h0m1 -0.5h0m0 2h0m0 2.5h0m0 0.5h0m0.5 -1.5h0m0 -2.5h0m1 3h0m0 -0.5h0m0.5 0.5h0m0 -3.5h0m0.5 3.5h0m0 -3h0m0 -0.5h0m0.5 2.5h0m0 1.5h0m0 -3h0m0 -0.5h0m0.5 -1h0m0 -0.5h0m0 1h0m0.5 4.5h0m0 -1.5h0m0 0.5h0m0.5 -1.5h0m0 0.5h0m1 -0.5h0m0.5 -2.5h0m0.5 0.5h0m0 -0.5h0m0 4h0m0.5 0.5h0m0 -4.5h0m0 2h0m0 2h0m0 -1h0m0.5 2h0m0 -5h0m1 5h0m0 -1.5h0m0.5 -2.5h0m0.5 0.5h0m0 1h0m0 2h0m0.5 -4.5h0m0.5 4.5h0m0 -2.5h0m0 1h0m0.5 -1h0m0 -1h0m0 -0.5h0m0.5 4h0m0 -5h0m0 1.5h0m0.5 -1h0m0 2h0m1 3h0m0 -5h0m0 4h0m0.5 -3.5h0m0 0.5h0m0.5 0h0m0 2h0m0.5 -3.5h0m0.5 1h0m0 2h0m0.5 -2h0m0.5 1h0m0 -0.5h0m0.5 -1.5h0m0 2h0m0 0.5h0m0 -1.5h0m0 2.5h0m1 -3.5h0m0 0.5h0m0 2.5h0m0 0.5h0m0.5 -2h0m0.5 1.5h0m0 2.5h0m0 -5h0m0 1h0m0.5 -1.5h0m0 4.5h0m0.5 -1.5h0m0 2.5h0m0.5 -0.5h0m0.5 0h0m0 -4h0m0 2h0m1.5 -2h0m0 4h0m0.5 -2h0m0 2h0m0 0.5h0m0 -1h0m0 -3h0m0.5 0.5h0m0 2h0m0 -0.5h0m1 -3h0m0 2.5h0m0.5 -0.5h0m0 1h0m0.5 0h0m0 -3h0m0 2h0m0.5 1.5h0m0 0.5h0m0 -1.5h0m0.5 -2h0m0 0.5h0m0.5 -1h0m0 1h0m0.5 -1h0m0 3.5h0m1 0h0m0 -3h0m0.5 2h0m0.5 -3h0m0.5 3h0m0.5 -1h0m0 3.5h0m0.5 -5.5h0m0 0.5h0m0.5 2.5h0m0 2h0m0.5 -4h0m0 2.5h0m0 2h0m1 0h0m0 -2h0m0.5 2h0m0 -3h0m0.5 1h0m0.5 0.5h0m0.5 0h0m1.5 -1.5h0m0 1h0m0.5 2h0m1.5 -1h0m0.5 -1.5h0m0.5 1.5h0m0 -3.5h0m0 2.5h0m1.5 0.5h0m0 -3.5h0m0.5 -0.5h0m0 0.5h0m0.5 1h0m1 3h0m1.5 -4.5h0m0.5 4h0m2 1.5h0m0.5 -4h0m5.5 3h0m3 0.5h0m-133 2h0m0 0.5h0m0 1.5h0m0 0.5h0m0 1.5h0m0 -5h0m0 0.5h0m0 2h0m0 -0.5h0m0.5 -1.5h0m0 0.5h0m0.5 -1h0m0.5 2.5h0m0.5 -1h0m0.5 3.5h0m0 -3.5h0m0 -0.5h0m0.5 2h0m0.5 -0.5h0m0.5 0.5h0m0 -2.5h0m0.5 4.5h0m0.5 -5h0m0 5h0m0.5 -4h0m0 2.5h0m0 1.5h0m0.5 -0.5h0m0 -3.5h0m0.5 -1h0m0 2h0m0 2.5h0m0 -3h0m0 1.5h0m0 0.5h0m0.5 -1h0m0 1.5h0m0 -1h0m0 0.5h0m0.5 -1h0m0.5 -2.5h0m0 2h0m0 2.5h0m0 -3.5h0m0.5 0h0m0 4h0m0.5 -0.5h0m0 -3h0m0 2h0m0.5 -3h0m0 1.5h0m0 2.5h0m0 -3.5h0m0 2h0m0.5 -1h0m0 1.5h0m0 2h0m0.5 -1h0m0 -3.5h0m0 -1h0m0.5 5h0m0 -5h0m0 2.5h0m0 2h0m0 -0.5h0m0.5 -2h0m0 0.5h0m0 1.5h0m0 -2.5h0m0 4h0m0.5 -4.5h0m0 2h0m0 2h0m0 0.5h0m0.5 -0.5h0m0 -4.5h0m0.5 3.5h0m0.5 -3.5h0m0 2h0m0 2h0m0 -3h0m0 2h0m0 1.5h0m0 0.5h0m0.5 -1h0m0 -3.5h0m0 2.5h0m0 -0.5h0m0.5 -2.5h0m0 1.5h0m0 -0.5h0m0 1.5h0m0.5 -3h0m0 4.5h0m0 -1.5h0m0 2h0m0 0.5h0m0.5 -5h0m0 1.5h0m0 -1h0m0 0.5h0m0 1.5h0m0 2.5h0m0 -0.5h0m0.5 -2.5h0m0 -1h0m0 2h0m0.5 -2.5h0m0 2.5h0m0 -1.5h0m0 2.5h0m0.5 -3h0m0 1.5h0m0 -3h0m0 2.5h0m0.5 1.5h0m0 -3h0m0 2h0m0 2.5h0m0 -0.5h0m0.5 -1.5h0m0 -3.5h0m0.5 1h0m0 2.5h0m0.5 1h0m0 -3.5h0m0 2.5h0m0 -0.5h0m0 2.5h0m0 -5h0m0.5 0.5h0m0 0.5h0m0 2h0m0 1.5h0m0.5 -0.5h0m0 -0.5h0m0 -0.5h0m0 -0.5h0m0 2h0m0.5 -3h0m0 2h0m0 -2.5h0m0 4h0m0.5 -4.5h0m0 2h0m0 2.5h0m0 -3h0m0.5 -2.5h0m0 2h0m0 -0.5h0m0 4h0m0.5 -4h0m0 -0.5h0m0 2h0m0 2.5h0m0 -0.5h0m0 -4.5h0m0 -0.5h0m0.5 3.5h0m0 1.5h0m0 -3h0m0 0.5h0m0 2h0m0.5 1h0m0 -5h0m0 2h0m0 1.5h0m0 0.5h0m0.5 -2h0m0 -1h0m0 3.5h0m0 -5h0m0.5 4.5h0m0 -1.5h0m0 2h0m0 0.5h0m0 -5h0m0 -0.5h0m0.5 5.5h0m0 -5h0m0 -0.5h0m0 2h0m0 -0.5h0m0.5 -0.5h0m0 2.5h0m0 1.5h0m0 -3h0m0.5 0.5h0m0 -1h0m0 2h0m0 1.5h0m0 -5h0m0 0.5h0m0.5 3.5h0m0 -0.5h0m0 1.5h0m0 -5h0m0.5 0.5h0m0 1.5h0m0 -0.5h0m0 2h0m0 -0.5h0m0.5 -1h0m0 2h0m0 -3h0m0 2.5h0m0 -3.5h0m0.5 2h0m0 2.5h0m0 -3.5h0m0 0.5h0m0 3.5h0m0.5 -3h0m0 1.5h0m0 -0.5h0m0 -2.5h0m0 -0.5h0m0.5 0h0m0 2.5h0m0 2h0m0 -1.5h0m0 2h0m0.5 -2.5h0m0 -1h0m0 2h0m0 1.5h0m0 0.5h0m0.5 -4.5h0m0 2h0m0 0.5h0m0 2h0m0 -5.5h0m0.5 5h0m0 -4.5h0m0 2h0m0.5 1.5h0m0 -0.5h0m0 1.5h0m0 0.5h0m0 -5.5h0m0.5 4.5h0m0 -3h0m0 1.5h0m0 0.5h0m0 1.5h0m0 -4.5h0m0 1.5h0m0.5 1h0m0 0.5h0m0 -3h0m0 3.5h0m0.5 -2.5h0m0 2h0m0 -3.5h0m0 2.5h0m0 -0.5h0m0 2h0m0.5 -3.5h0m0 -0.5h0m0 4.5h0m0 -3.5h0m0 4.5h0m0.5 -3.5h0m0 -0.5h0m0 -0.5h0m0 4h0m0 -5h0m0.5 2.5h0m0 1h0m0 -0.5h0m0 2h0m0.5 -0.5h0m0 -3h0m0 4h0m0.5 -5.5h0m0 2h0m0 0.5h0m0.5 -2.5h0m0 2.5h0m0 -0.5h0m0 -1h0m0.5 1.5h0m0 -0.5h0m0 2.5h0m0 1h0m0.5 -3h0m0 1.5h0m0 -1h0m0 2.5h0m0 -5.5h0m0.5 0h0m0 4.5h0m0 -3h0m0 -0.5h0m0 2.5h0m0 -0.5h0m0.5 1.5h0m0 -3h0m0 -0.5h0m0 2h0m0.5 1h0m0 -2.5h0m0 3.5h0m0 -4.5h0m0 1.5h0m0.5 -0.5h0m0 -0.5h0m0 4.5h0m0 -5h0m0 1.5h0m0.5 0.5h0m0 2h0m0 -3.5h0m0 2h0m0 2h0m0.5 -2.5h0m0 2h0m0 -3.5h0m0 0.5h0m0 2h0m0 2h0m0 -5h0m0.5 2h0m0 2h0m0 -3h0m0 1.5h0m0.5 1.5h0m0 -3h0m0 -0.5h0m0 4.5h0m0 -0.5h0m0.5 -4h0m0 2.5h0m0 2h0m0.5 -4.5h0m0 2.5h0m0 1.5h0m0 0.5h0m0 -3.5h0m0 2h0m0 0.5h0m0.5 -1.5h0m0 -2.5h0m0 -0.5h0m0 1h0m0.5 4.5h0m0 -5.5h0m0 1.5h0m0 -0.5h0m0.5 -0.5h0m0 1.5h0m0 3.5h0m0.5 -2h0m0 2h0m0 -5.5h0m0.5 0.5h0m0 0.5h0m0 2.5h0m0 1.5h0m0.5 -0.5h0m0 -3h0m0 -0.5h0m0.5 1.5h0m0 2h0m0 -3.5h0m0 4h0m0 0.5h0m0 -5h0m0.5 1h0m0 -0.5h0m0.5 4.5h0m0 -0.5h0m0 -5h0m0 4.5h0m0 -3h0m0 -0.5h0m0 2h0m0.5 -2h0m0 2h0m0 0.5h0m0 1.5h0m0.5 -1h0m0 -2.5h0m0 3.5h0m0 -5h0m0 2.5h0m0 -0.5h0m0.5 2h0m0 0.5h0m0 -3.5h0m0 0.5h0m0 1.5h0m0 2h0m0 -5h0m0 0.5h0m0 2h0m0.5 -2h0m0 1.5h0m0 0.5h0m0 2h0m0 -3.5h0m0 0.5h0m0 2h0m0.5 1h0m0 -0.5h0m0 -2.5h0m0 2h0m0 2h0m0 -5.5h0m0.5 2.5h0m0 -2.5h0m0.5 4h0m0 -1h0m0 2.5h0m0 -5.5h0m0.5 3.5h0m0 1.5h0m0.5 -5h0m0 2.5h0m0 -0.5h0m0 -0.5h0m0 2h0m0 1.5h0m0.5 -3.5h0m0 2h0m0 1.5h0m0 -2.5h0m0 -0.5h0m0.5 -1h0m0 2.5h0m0 -0.5h0m0 2h0m0 -4.5h0m0 4h0m0 -0.5h0m0.5 0.5h0m0 -0.5h0m0 -3h0m0 0.5h0m0 1.5h0m0 2.5h0m0 -5h0m0 -0.5h0m0 2.5h0m0.5 1.5h0m0 -2.5h0m0 -0.5h0m0 2h0m0.5 -1.5h0m0 -0.5h0m0 2h0m0 0.5h0m0 1.5h0m0 -0.5h0m0 -0.5h0m0.5 1h0m0 -4.5h0m0 1.5h0m0 2h0m0.5 0h0m0 -3h0m0 2.5h0m0 1.5h0m0 -4.5h0m0 -0.5h0m0.5 4h0m0 -2.5h0m0 -0.5h0m0 2h0m0 2h0m0.5 -3h0m0 2h0m0 -1h0m0 2.5h0m0 -0.5h0m0 -5h0m0 0.5h0m0.5 2.5h0m0 2.5h0m0 -5.5h0m0 0.5h0m0.5 1.5h0m0 -1h0m0 2h0m0 0.5h0m0 -3h0m0.5 4h0m0 -0.5h0m0 -3h0m0 0.5h0m0 3.5h0m0.5 -4h0m0 0.5h0m0 2h0m0 2h0m0 -3h0m0 2h0m0.5 -3h0m0 1h0m0 -0.5h0m0 2.5h0m0.5 -4.5h0m0 0.5h0m0 3h0m0 2h0m0.5 -4h0m0 2h0m0 -3.5h0m0.5 4h0m0 -2.5h0m0 4h0m0 -5h0m0 2h0m0 -0.5h0m0.5 -1h0m0 0.5h0m0 1.5h0m0 -2.5h0m0.5 3.5h0m0 -1h0m0 -3h0m0 2.5h0m0.5 1h0m0 2h0m0 -5h0m0 3.5h0m0.5 0.5h0m0 -1h0m0 1.5h0m0.5 -0.5h0m0 -3.5h0m0 2h0m0 2h0m0 -2.5h0m0.5 -0.5h0m0.5 -1h0m0 -1h0m0 2.5h0m0 2h0m0 -0.5h0m0.5 -4h0m0 4h0m0 -3h0m0 0.5h0m0.5 -1.5h0m0 0.5h0m0 3h0m0 2h0m0.5 -4h0m0 -1.5h0m0 2h0m0 0.5h0m0.5 -1h0m0 1.5h0m0 -2.5h0m0 -0.5h0m0.5 2.5h0m0 -0.5h0m0 2h0m0 0.5h0m0 -3h0m0 -0.5h0m0 2h0m0.5 -2.5h0m0 3.5h0m0.5 -3h0m0 0.5h0m0 4h0m0 -5.5h0m0 2h0m0.5 -1h0m0 0.5h0m0 3.5h0m0 -2.5h0m0.5 2.5h0m0 -5h0m0 2.5h0m1 -1h0m0 2h0m0 -0.5h0m0.5 0.5h0m0 -1.5h0m0.5 0h0m0.5 -1.5h0m0 1.5h0m0 2h0m0.5 -0.5h0m0 -3h0m0.5 4h0m0 -3.5h0m0 -0.5h0m0 2h0m0 -0.5h0m0.5 1h0m0 2h0m0.5 -1.5h0m0 1.5h0m0 -1h0m0.5 1.5h0m0 -1h0m0.5 -1h0m0 2h0m0 -5.5h0m0 2.5h0m0 2h0m0.5 -1.5h0m0 -0.5h0m1 0.5h0m0.5 0.5h0m0 2h0m0.5 -3.5h0m0 2.5h0m0 -0.5h0m0 -1h0m0 2.5h0m0.5 -0.5h0m0 -4.5h0m0 2h0m0.5 2.5h0m0 -4.5h0m0.5 2.5h0m0 0.5h0m0 -3h0m0.5 1h0m0.5 4h0m0 -3.5h0m0.5 3h0m0 -5h0m0 0.5h0m0 3.5h0m0 -2.5h0m0 2h0m0.5 -3.5h0m0 2.5h0m0 1h0m0 1.5h0m0.5 -1.5h0m0.5 -1.5h0m0 2h0m0 -2.5h0m1 3.5h0m0 -5h0m0.5 5h0m0 -5h0m0 4h0m0.5 -3h0m0 -0.5h0m0.5 5h0m0.5 -0.5h0m0 -2.5h0m0.5 -2h0m0.5 4h0m0 -1h0m0 -3h0m0.5 1.5h0m0 -1h0m0.5 -1h0m0 3h0m0.5 2h0m0 -5h0m0 2h0m0 2.5h0m0.5 -3.5h0m0 -1h0m0 2.5h0m0.5 1.5h0m0 1h0m0.5 -0.5h0m0 -4h0m0.5 -0.5h0m0 2.5h0m0.5 -1.5h0m0 2h0m0 2h0m0 -5h0m0.5 3.5h0m0 -3h0m0.5 4h0m0 -3.5h0m0 4.5h0m0 -3h0m0.5 -1.5h0m0 2h0m0.5 0.5h0m0 2h0m0.5 -1.5h0m0 -3.5h0m0.5 4h0m0 -1.5h0m0 -2.5h0m0 2h0m0.5 1.5h0m0 -2.5h0m0 -1.5h0m0.5 4h0m0 -1h0m0 2.5h0m0.5 0h0m0 -5.5h0m0.5 2h0m0.5 0.5h0m0 -1.5h0m0 4.5h0m0.5 -5h0m0 1h0m0 4h0m0.5 -2h0m0.5 1.5h0m0 -4.5h0m0.5 1h0m0 3.5h0m0 -2.5h0m0 -0.5h0m0.5 -1h0m0 0.5h0m0.5 0h0m0 4h0m0.5 0h0m1 -1.5h0m0.5 -1h0m0 0.5h0m0.5 0.5h0m0.5 -1.5h0m0 -1h0m0.5 -1.5h0m0 2.5h0m0 1h0m0 2h0m0.5 -4h0m0 -1.5h0m0.5 1h0m0 2h0m0.5 0.5h0m0 1.5h0m0 -2.5h0m0.5 -1.5h0m0 3.5h0m0.5 -1h0m0 0.5h0m0.5 1.5h0m0 -0.5h0m0 -0.5h0m0.5 1h0m0.5 -4h0m0 1h0m1 -1h0m0 -1h0m0.5 4.5h0m0 -4.5h0m1.5 4.5h0m0 -4.5h0m0 -0.5h0m0 2h0m0.5 1h0m1 -2h0m0.5 1.5h0m0.5 -0.5h0m0.5 -0.5h0m1 2h0m0.5 1h0m0.5 -1.5h0m0.5 2h0m0 -4.5h0m1 4.5h0m0.5 -4.5h0m0.5 4h0m0.5 -4.5h0m0.5 5h0m0 -3h0m0 2.5h0m0.5 -3h0m0 3h0m0.5 -4h0m1 3h0m0 -1h0m0 2h0m1 -4.5h0m0 1h0m1 4h0m0 0.5h0m0.5 -3h0m0.5 -2.5h0m1.5 3.5h0m0.5 -0.5h0m0.5 -1h0m0.5 2h0m0.5 -3h0m0 3h0m1 -1h0m1.5 2h0m0 -5h0m0.5 4h0m1 0.5h0m0.5 -0.5h0m1 -0.5h0m1.5 -0.5h0m0.5 0h0m-130.5 3.5h0m0 2h0m0 -0.5h0m0 2.5h0m0 -3.5h0m0 4.5h0m0 -0.5h0m1.5 -4h0m0 -0.5h0m0 2h0m0 -0.5h0m0.5 -0.5h0m0 -1.5h0m0 4h0m0.5 -2.5h0m0 -1h0m0.5 -0.5h0m1 3.5h0m0 0.5h0m0.5 1h0m0 0.5h0m0 -3h0m0 -0.5h0m0.5 1.5h0m0 -0.5h0m1 -0.5h0m0 -0.5h0m0.5 -0.5h0m0 2h0m0 -0.5h0m0 -3h0m0 0.5h0m0.5 0h0m0 2h0m0.5 0.5h0m0 -0.5h0m0.5 0.5h0m0 2.5h0m0 -0.5h0m0 -3h0m0 2h0m0.5 -2h0m0 0.5h0m0 1.5h0m0 -1h0m0 2.5h0m0.5 -3.5h0m0 -1h0m0 2h0m0.5 -0.5h0m0 2h0m0 -0.5h0m0.5 -2.5h0m0 -0.5h0m0 2.5h0m0.5 -2.5h0m0 4h0m0.5 -4.5h0m0 2h0m0 -1h0m0.5 -0.5h0m0 2.5h0m0.5 0h0m0 1.5h0m0 0.5h0m0 -3h0m0 2h0m0.5 -1.5h0m0 0.5h0m0 1.5h0m0 -2.5h0m0.5 0h0m0 2h0m0 -3.5h0m0.5 0h0m0 4.5h0m0 -0.5h0m0 -4.5h0m0 4h0m0.5 -2h0m0 1.5h0m0.5 -1h0m0 -2.5h0m0.5 0.5h0m0 2h0m0 2.5h0m0 -0.5h0m0 -4.5h0m0.5 5h0m0 -3.5h0m0 0.5h0m0 1.5h0m0 0.5h0m0.5 -3h0m0 4h0m0 -0.5h0m0 -4.5h0m0 2h0m0.5 1h0m0 1.5h0m0 -5h0m0 2.5h0m0 -0.5h0m0.5 -1h0m0 2.5h0m0 1.5h0m0 0.5h0m0 -5.5h0m0.5 3h0m0 2.5h0m0 -5.5h0m0.5 2.5h0m0 -1.5h0m0.5 4h0m0 -4.5h0m0 1.5h0m0.5 3h0m0 -1h0m0.5 -3.5h0m0 2h0m0 -1h0m0 3.5h0m0 0.5h0m0.5 -3h0m0 1.5h0m0 -2.5h0m0 -0.5h0m0 4h0m0.5 -4h0m0 4h0m0 -4.5h0m0 1.5h0m0 2h0m0.5 -0.5h0m0 -3.5h0m0.5 1h0m0 2.5h0m0 -3h0m0 3.5h0m0 0.5h0m0.5 -1.5h0m0 -3h0m0 2h0m0 0.5h0m0 1.5h0m0 -2.5h0m0.5 1.5h0m0 0.5h0m0 -3.5h0m0.5 1h0m0 4h0m0 -3h0m0 2h0m0.5 1.5h0m0 -5h0m0 -0.5h0m0 2.5h0m0 -1.5h0m0.5 -1h0m0 2.5h0m0 -0.5h0m0 1.5h0m0 2h0m0.5 -4.5h0m0 3h0m0 0.5h0m0.5 0.5h0m0 -5h0m0 1h0m0 0.5h0m0 1.5h0m0.5 0.5h0m0 -3.5h0m0 0.5h0m0 2h0m0 1.5h0m0 -3h0m0 0.5h0m0.5 3.5h0m0 -4.5h0m0 2h0m0 2h0m0 -3h0m0.5 0h0m0 1.5h0m0 0.5h0m0 -3.5h0m0.5 3.5h0m0 -1.5h0m0 -1h0m0.5 0h0m0 2.5h0m0 -0.5h0m0 2h0m0.5 -2.5h0m0 1.5h0m0 -2.5h0m0 -0.5h0m0.5 0.5h0m0 -0.5h0m0 4h0m0 0.5h0m0 -1h0m0.5 0.5h0m0 -5h0m0 0.5h0m0 2h0m0 2h0m0.5 -3h0m0 2h0m0 1.5h0m0 0.5h0m0.5 -5.5h0m0 4h0m0 -2.5h0m0 2h0m0.5 1.5h0m0 -5h0m0 4h0m0.5 1.5h0m0 -3.5h0m0 -1h0m0 2.5h0m0 -0.5h0m0.5 1h0m0 0.5h0m0 -4h0m0 -0.5h0m0 2h0m1 -0.5h0m0 2h0m0 1.5h0m0 0.5h0m0 -3h0m0.5 0.5h0m0 2h0m0 -3h0m0 2h0m0 -2.5h0m0.5 -0.5h0m0 2.5h0m0 2h0m0 -3.5h0m0 0.5h0m0 1.5h0m0 0.5h0m0.5 0.5h0m0 -2.5h0m0 -1h0m0.5 1.5h0m0 2h0m0 -5h0m0 0.5h0m0 2h0m0 1.5h0m0 -2.5h0m0.5 1.5h0m0 0.5h0m0 2h0m0 -5h0m0.5 0.5h0m0 0.5h0m0 2h0m0 1.5h0m0 0.5h0m0 -5.5h0m0 0.5h0m0 1.5h0m0 2h0m0.5 -4h0m0 0.5h0m0 2h0m0.5 -1.5h0m0 1h0m0.5 1.5h0m0 -3.5h0m0 2.5h0m0 2h0m0.5 -4.5h0m0 1h0m0 2.5h0m0.5 1.5h0m0 -5h0m0 4.5h0m0 -0.5h0m0 -2.5h0m0.5 -1.5h0m0 0.5h0m0 1.5h0m0.5 0.5h0m0 2h0m0 -3.5h0m0 2h0m0.5 0.5h0m0 2h0m0 -5h0m0 2h0m0 1.5h0m0.5 -1h0m0 -0.5h0m0 -0.5h0m0 -1h0m0.5 1.5h0m0 -0.5h0m0 2.5h0m0 -3h0m0 2h0m0.5 -3.5h0m0 0.5h0m0 2h0m0 -0.5h0m0 2h0m0 -1h0m0 2.5h0m0 -0.5h0m0.5 -2h0m0 -2.5h0m0 1.5h0m0 0.5h0m0 1.5h0m0.5 -1h0m0 2.5h0m0 -0.5h0m0 -4.5h0m0 1.5h0m0 2h0m0.5 -1h0m0 2.5h0m0 -0.5h0m0 -5h0m0 4h0m0 0.5h0m0.5 -1.5h0m0 2.5h0m0 -1.5h0m0 0.5h0m0.5 -3h0m0 1.5h0m0 2.5h0m0 -0.5h0m0 -5h0m0 0.5h0m0 4h0m0.5 -1.5h0m0 2.5h0m0 -5.5h0m0 4.5h0m0.5 0h0m0 -0.5h0m0 -2.5h0m0 1.5h0m0 2.5h0m0.5 -5.5h0m0 2h0m0 0.5h0m0 1.5h0m0 0.5h0m0 1h0m0.5 -4h0m0 2h0m0 -1.5h0m0 2h0m0.5 -1.5h0m0 -0.5h0m0 2h0m0 -2.5h0m0 1.5h0m0 0.5h0m0.5 0h0m0 -1.5h0m0 2.5h0m0 -0.5h0m0.5 1h0m0 -5h0m0 2h0m0.5 -0.5h0m0 3.5h0m0.5 -4.5h0m0 4h0m0 -3.5h0m0 0.5h0m0.5 0h0m0 -0.5h0m0 2h0m0 -1h0m0 2h0m0 0.5h0m0.5 -1h0m0 -0.5h0m0 2.5h0m0 -3h0m0 1.5h0m0.5 1h0m0 -5h0m0 4h0m0 0.5h0m0.5 -1h0m0 1.5h0m0 -5h0m0 2.5h0m0 1.5h0m0 -3h0m0.5 3.5h0m0 -3h0m0 -0.5h0m0 2.5h0m0 -0.5h0m0 2.5h0m0 -3.5h0m0.5 -0.5h0m0 3.5h0m0 -4.5h0m0 2h0m0 -0.5h0m0.5 1.5h0m0 -0.5h0m0 2.5h0m0 -3.5h0m0.5 3.5h0m0 -2.5h0m0.5 -3h0m0 4h0m0.5 -0.5h0m0 1.5h0m0 0.5h0m0 -3.5h0m0 2h0m0 0.5h0m0.5 0.5h0m0 -5h0m0 4h0m0 -2.5h0m0 -0.5h0m0 2h0m0.5 -2.5h0m0 4h0m0 -3h0m0.5 -1h0m0 2h0m0 1.5h0m0 0.5h0m0 -3.5h0m0.5 4h0m0 -5h0m0 1.5h0m0.5 2h0m0 2h0m0 -5.5h0m0 4h0m0 -3h0m0.5 4h0m0 -4.5h0m0 1.5h0m0 0.5h0m0 1.5h0m0.5 -1h0m0 0.5h0m0 1.5h0m0 -2.5h0m0 -0.5h0m0.5 1h0m0 2h0m0 -2.5h0m0 1.5h0m0 0.5h0m0.5 -3h0m0 -1.5h0m0 2h0m0 2.5h0m0.5 -1.5h0m0 -3h0m0 1h0m0.5 4.5h0m0 -3.5h0m0 -0.5h0m0.5 -1h0m0 -0.5h0m0 2h0m0 0.5h0m0 1.5h0m1 -4h0m0 2h0m0 2h0m0 -3h0m0 4h0m0.5 -2h0m0 2.5h0m0 -0.5h0m0 -4.5h0m0 1.5h0m0 -0.5h0m0.5 1h0m0 0.5h0m0.5 1.5h0m0 -0.5h0m0 -3h0m0 2.5h0m0 2h0m0 -5h0m0 2h0m0.5 2.5h0m0 -4.5h0m0 4h0m0.5 -3h0m0 -1.5h0m0 2.5h0m0 1.5h0m0.5 -3.5h0m0 3.5h0m0.5 -4h0m0 0.5h0m0 1.5h0m0 -0.5h0m0 1.5h0m0.5 -3h0m0 4.5h0m0.5 -4h0m0 3.5h0m0.5 -4h0m0 1.5h0m0.5 0h0m0 -1h0m0 -0.5h0m0.5 5.5h0m0 -5h0m0 2h0m0.5 -0.5h0m0 -1h0m0.5 1.5h0m0.5 -2.5h0m0 4.5h0m0 -1.5h0m0.5 2.5h0m0 -2h0m0.5 -0.5h0m0 0.5h0m0 -3.5h0m0 0.5h0m0 3.5h0m0 -3h0m0.5 4h0m0 0.5h0m0 -2h0m0.5 1.5h0m0 0.5h0m0 -5h0m0 2h0m0 2h0m0.5 -1.5h0m0 2h0m0 -1h0m0.5 0.5h0m0.5 -0.5h0m0 0.5h0m0 0.5h0m0.5 -4h0m0 -0.5h0m0 3.5h0m0.5 -3h0m0 4.5h0m0 -5.5h0m0 2h0m0.5 0h0m0 2.5h0m0.5 0h0m0 -3.5h0m0 4h0m0 0.5h0m0.5 -2.5h0m0 2.5h0m0 -5h0m0.5 1.5h0m0.5 3.5h0m1 -4.5h0m0 0.5h0m0 1h0m0.5 1h0m0 1.5h0m0 -5h0m0 4.5h0m0.5 0h0m0.5 1h0m0.5 -4.5h0m0 3h0m0 0.5h0m0.5 0.5h0m0 -5h0m0 4h0m0.5 1.5h0m0 -3h0m0 1.5h0m0 0.5h0m0.5 -3.5h0m0.5 2.5h0m0.5 0h0m0.5 1h0m0 0.5h0m0 -3h0m0.5 -1.5h0m0 4h0m0.5 0h0m0.5 1h0m0.5 -2.5h0m0 -1h0m0.5 2.5h0m0.5 -3h0m0.5 2.5h0m0 -2.5h0m0.5 3h0m0.5 -1h0m0.5 0.5h0m0.5 1h0m0 -4.5h0m0.5 4.5h0m0 -2.5h0m0 2h0m0.5 1h0m0 -3h0m0.5 -1.5h0m0.5 -0.5h0m0 3.5h0m0 1h0m0.5 -1h0m1 -1h0m0.5 -2.5h0m0 3h0m1 0h0m0.5 -0.5h0m0 0.5h0m0 2h0m0.5 -4.5h0m0.5 1h0m0.5 1.5h0m0.5 -3h0m0 1h0m0.5 -1.5h0m0 4.5h0m0.5 -4h0m0 2.5h0m0.5 -2.5h0m0 1.5h0m0 2.5h0m0 -1.5h0m0.5 2h0m0.5 -4.5h0m0 3.5h0m0 1.5h0m0.5 -4.5h0m0 4h0m0 -0.5h0m0 -0.5h0m0.5 -3.5h0m0.5 3h0m0 2h0m0 -5h0m0 2h0m0.5 2h0m1 1h0m0 -1.5h0m0 -3h0m0.5 2.5h0m0 -1h0m0.5 -2.5h0m0 0.5h0m0 2h0m1 -2h0m0 2.5h0m0.5 -1.5h0m0 1.5h0m0.5 0h0m0 2.5h0m0.5 -5h0m0.5 3.5h0m0 -0.5h0m0.5 -3h0m0 1h0m0.5 1h0m0.5 -1h0m1 4h0m1 -0.5h0m0 -5h0m0 0.5h0m0.5 5h0m0.5 -2.5h0m0 2.5h0m0 -1h0m0.5 -3h0m0 -1.5h0m0.5 1.5h0m0 1.5h0m0.5 -3h0m0 1h0m0 2.5h0m0 1.5h0m0.5 -4.5h0m0.5 3h0m0.5 -1h0m1 3h0m0 -4.5h0m0.5 4.5h0m0 -3h0m0 1h0m0.5 -3h0m0.5 1h0m0 -0.5h0m0.5 4h0m2 -2.5h0m0.5 -2.5h0m0.5 1h0m0.5 0.5h0m0 4h0m0 -5.5h0m1 2h0m0.5 3h0m0 -5h0m0 2.5h0m1 -0.5h0m0 -1h0m2 2h0m0.5 2h0m0.5 -5h0m0 3h0m0.5 0h0m0.5 1.5h0m1 0.5h0m0 -3.5h0m0.5 -1h0m1.5 5h0m3 -2.5h0m5 0.5h0m2.5 -1h0m-137 4h0m0 2h0m0 -0.5h0m0 2.5h0m0 -0.5h0m0 -3h0m0 2h0m0 2.5h0m1 -3h0m0.5 -1.5h0m0.5 4.5h0m0.5 -1.5h0m0 0.5h0m0 -1h0m0.5 -3.5h0m0 3h0m2 -2.5h0m0.5 3.5h0m0.5 0.5h0m0 -0.5h0m0 -2.5h0m0.5 1.5h0m0 -3h0m0.5 2.5h0m0 -0.5h0m0.5 3.5h0m0 -5h0m0 1.5h0m0.5 -0.5h0m0 1.5h0m0.5 0h0m0 1h0m0.5 -3h0m0.5 -1h0m0 2.5h0m0.5 1.5h0m0 -4h0m0.5 0h0m0.5 0.5h0m0 0.5h0m0 2.5h0m0.5 0.5h0m1 -3.5h0m0.5 4h0m0 -3h0m0 3.5h0m0 -5h0m0 2h0m0.5 -0.5h0m0 4h0m0 -5h0m0.5 1h0m0 -0.5h0m0 2.5h0m0 -3.5h0m0 2.5h0m0.5 -0.5h0m0 2.5h0m0 -3h0m0 3.5h0m0.5 -2.5h0m0 2h0m0 -3h0m0 2h0m0.5 -1.5h0m0 -1h0m0.5 1h0m0 -1h0m0.5 -1h0m0 0.5h0m0 3.5h0m0 0.5h0m0 -3h0m0.5 2.5h0m0 1h0m0.5 -4h0m0 0.5h0m0 1.5h0m0 -3h0m0 0.5h0m0 1.5h0m0.5 3.5h0m0.5 -3h0m0 -1.5h0m0 4h0m0 -4.5h0m0 -0.5h0m0.5 4.5h0m0 -3h0m0 -1.5h0m0.5 1h0m0 -1h0m0 2h0m0.5 3h0m0 -4.5h0m0 3.5h0m0.5 -4h0m0 0.5h0m0.5 0.5h0m0.5 1.5h0m0 -0.5h0m0 2.5h0m0 -3h0m0 -1h0m0.5 2h0m0 2h0m0 -0.5h0m0 -2.5h0m0 2h0m0 -0.5h0m0 2h0m0 -4.5h0m0.5 3h0m0 -0.5h0m0.5 1.5h0m0 -4h0m0.5 3h0m0 -0.5h0m0 2h0m0 -2.5h0m0 1.5h0m0.5 -0.5h0m0 -3.5h0m0 2h0m0.5 -2h0m0 2h0m0 -1h0m0 0.5h0m0 4h0m0.5 -4h0m0 -0.5h0m0 2.5h0m0 -3.5h0m0 2.5h0m0.5 2h0m0.5 -1.5h0m0 -2.5h0m0 2h0m0 2h0m0 -0.5h0m0.5 -1h0m0 0.5h0m0 1.5h0m0 0.5h0m0 -3.5h0m0.5 1h0m0 2.5h0m0 -5.5h0m0 0.5h0m0 4h0m0.5 -2h0m0 1.5h0m0 0.5h0m0 -1h0m0 1.5h0m0 -5h0m0.5 4h0m0 -2.5h0m0 4h0m0.5 -2.5h0m0 2.5h0m0 -5.5h0m0 2h0m0.5 -0.5h0m0 -0.5h0m0 2.5h0m0 -0.5h0m0 2h0m0 -5h0m0 2h0m0.5 3.5h0m0 -0.5h0m0 -4.5h0m0 -0.5h0m0 2h0m0 0.5h0m0 1.5h0m0 0.5h0m0 -3h0m0.5 -0.5h0m0 2h0m0.5 0h0m0 -3h0m0 0.5h0m0.5 4h0m0 -1h0m0 2h0m0.5 -1h0m0 -0.5h0m0.5 -4h0m0 2.5h0m0 -1h0m0 -0.5h0m0 2h0m0 2h0m0.5 -4.5h0m0 -0.5h0m0 2h0m0 2h0m0.5 -2.5h0m0 -1h0m0 1.5h0m0 0.5h0m0 1.5h0m0.5 -2h0m0.5 -0.5h0m0 2h0m0 2h0m0 -5h0m0.5 2h0m0 1.5h0m0 -3h0m0 0.5h0m0 2h0m0 -0.5h0m0.5 -2h0m0 2.5h0m0 2h0m0 -5.5h0m0 2.5h0m0.5 0h0m0 2h0m0 -1h0m0 2h0m0.5 -3.5h0m0 -1.5h0m0.5 2h0m0 -0.5h0m0 2h0m0 0.5h0m0 -1h0m0 2h0m0 -5h0m0.5 1.5h0m0 2h0m0 0.5h0m0 -1.5h0m0 2h0m0 -5h0m0.5 4.5h0m0 -0.5h0m0 -4h0m0.5 1.5h0m0 -0.5h0m0 2.5h0m0 2h0m0 -5h0m0 3.5h0m0.5 -3h0m0 2h0m0 -3h0m0 2.5h0m0 2h0m0.5 -1.5h0m0 2h0m0 -5h0m0 0.5h0m0 2h0m0 2h0m0 -3h0m0.5 3h0m0 -3.5h0m0 4h0m0 0.5h0m0 -5h0m0.5 1h0m0 1.5h0m0 0.5h0m0 -1h0m0 -0.5h0m0.5 1h0m0 0.5h0m0.5 0.5h0m0 0.5h0m0 -1h0m0 2h0m0.5 -2.5h0m0 0.5h0m0 2h0m0.5 -4h0m0 -0.5h0m0 2.5h0m0 -3h0m0 2h0m0.5 0.5h0m0 -2.5h0m0.5 4h0m0 -3.5h0m0 0.5h0m0 4h0m0 -0.5h0m0 -3h0m0.5 0.5h0m0 -1.5h0m0 2h0m0 2h0m0 -4.5h0m0.5 3.5h0m0 1.5h0m0 -5h0m0.5 3h0m0 2h0m0 -5h0m0 -0.5h0m0 2h0m0 2.5h0m0 -3h0m0.5 4h0m0 -2h0m0 -0.5h0m0.5 -2.5h0m0 3.5h0m0 -2.5h0m0.5 -0.5h0m0 -0.5h0m0 -0.5h0m0 2.5h0m0 1.5h0m0.5 -2.5h0m0 2h0m0.5 1.5h0m0 -0.5h0m0.5 -3.5h0m0 4.5h0m0 -5.5h0m0 2h0m0.5 1h0m0 0.5h0m0 1.5h0m0 0.5h0m0 -1h0m0.5 -0.5h0m0 1.5h0m0 -5h0m0.5 2.5h0m0 2h0m0 -5h0m0.5 1.5h0m0 3.5h0m0 -5h0m0 0.5h0m0.5 3.5h0m0 -2.5h0m0 4h0m0 -3.5h0m0.5 -1.5h0m0 1.5h0m0 3.5h0m0 -0.5h0m0.5 -2.5h0m0 -1h0m0 1.5h0m0 2h0m0.5 -3.5h0m0 1h0m0.5 0.5h0m0 2h0m0 -4.5h0m0 2h0m0.5 0h0m0 1.5h0m0 0.5h0m0 -3.5h0m0 4.5h0m0.5 -3h0m0 2h0m0 -3h0m0 -0.5h0m0 4h0m0 0.5h0m0.5 -4.5h0m0 0.5h0m0 2h0m0 -1.5h0m0.5 -1h0m0 1.5h0m0 1.5h0m0.5 -1.5h0m0 0.5h0m0 0.5h0m0 2h0m0 -5h0m0 -0.5h0m0.5 4h0m0 0.5h0m0 -3.5h0m0 2.5h0m0 2h0m0 -5.5h0m0 2.5h0m0 -0.5h0m0.5 2h0m0 -0.5h0m0 2h0m0 -5h0m0 -0.5h0m0 2h0m0.5 1h0m0 2h0m0.5 -4.5h0m0 -0.5h0m0 4h0m0.5 -2h0m0 1.5h0m0 2h0m0 -5.5h0m0.5 2.5h0m0 0.5h0m0.5 -1.5h0m0.5 1.5h0m0 2h0m0 -4.5h0m0 1.5h0m1 -2h0m0 4.5h0m0 -3.5h0m0.5 -0.5h0m0 -0.5h0m0 1.5h0m0.5 -0.5h0m0 2h0m0 0.5h0m0 -3h0m0.5 3.5h0m0 0.5h0m0 -1.5h0m0 2.5h0m0.5 -5h0m0 0.5h0m0.5 -1h0m0 2.5h0m0 -1.5h0m0 4.5h0m0 -0.5h0m0.5 -2.5h0m0.5 0.5h0m0 -2.5h0m0 4h0m0.5 -1.5h0m0 2h0m0 -5h0m0 4.5h0m0.5 1h0m0 -5h0m0 4h0m0 -0.5h0m0 -2.5h0m0.5 2.5h0m0 -2.5h0m0 4h0m0.5 0h0m0.5 -5h0m0 3.5h0m0 -3h0m0 0.5h0m0 1.5h0m0 2h0m0.5 -3h0m0 0.5h0m0 -1.5h0m0 4.5h0m0.5 -4h0m0 2h0m0 1.5h0m0 -3h0m0 2.5h0m0.5 -1h0m0 2h0m0 -3h0m0.5 1h0m0.5 1.5h0m0 -5h0m0.5 3.5h0m0.5 -2h0m0 -1.5h0m0 4.5h0m0.5 0.5h0m0 -5h0m0.5 1.5h0m0 3.5h0m0 -3h0m1 -1h0m0 0.5h0m0 3h0m0 -0.5h0m0.5 1.5h0m0 -0.5h0m0 -4.5h0m0.5 0.5h0m0 0.5h0m0 2h0m0 1.5h0m0.5 -3h0m0 2h0m0.5 1h0m0 -4.5h0m0 2h0m0.5 0h0m0 -1.5h0m0 0.5h0m0.5 0.5h0m0.5 2h0m0.5 1h0m0 0.5h0m0 -3h0m0 2h0m1 -3h0m0 1.5h0m0 -3h0m0.5 4h0m0 -3h0m0.5 0h0m0.5 0h0m0 -0.5h0m0 2h0m1 0h0m0 1h0m0.5 0.5h0m0.5 -4h0m0.5 2.5h0m0.5 1.5h0m0.5 -4h0m0 4.5h0m0.5 0h0m0.5 -3h0m0 4h0m0 -5h0m1 1.5h0m0.5 3.5h0m0.5 -4.5h0m0 0.5h0m0 -1.5h0m1 0.5h0m0 2h0m0.5 1.5h0m0.5 -1h0m0 -3h0m1 2.5h0m0 1.5h0m0.5 -2.5h0m0 3.5h0m0.5 -1.5h0m0 -2.5h0m0.5 1h0m0 0.5h0m0.5 0.5h0m0 -3h0m0 2h0m0 2.5h0m1.5 -1.5h0m0.5 1.5h0m0.5 -0.5h0m0 -4h0m2 0.5h0m0.5 0h0m0 4h0m0.5 -1h0m0 -0.5h0m0 -1h0m0.5 3h0m0 -2.5h0m0.5 -2.5h0m0 2h0m0.5 -1h0m0 2.5h0m0 -3.5h0m0 2h0m0.5 1h0m0 -1h0m1 3h0m0.5 -2h0m0 -2.5h0m0 3.5h0m0.5 -0.5h0m0 -1.5h0m0.5 0h0m0.5 -2h0m0 0.5h0m0.5 3h0m0.5 0.5h0m0.5 -3h0m0 2h0m0.5 -1.5h0m0 2h0m0.5 0h0m0.5 1.5h0m0 0.5h0m0.5 -2.5h0m0 2h0m0.5 -1h0m0 0.5h0m1 -1h0m0 -3.5h0m1 1.5h0m1 -1.5h0m0.5 3.5h0m0 -1h0m0.5 1.5h0m0 -2.5h0m0.5 -1h0m1.5 0.5h0m0 2.5h0m0.5 1.5h0m0.5 -3h0m1.5 3h0m0 0.5h0m0 -3h0m0.5 0h0m1 -1h0m0.5 0.5h0m1 -1h0m1.5 4h0m0.5 -4h0m1 4.5h0m0.5 -3h0m2 -0.5h0m1 0h0m0 2.5h0m1 1h0m1 -5h0m0.5 2h0m0.5 -0.5h0m1 0.5h0m1.5 -2h0m0.5 0h0m3.5 5h0m1 -5.5h0m1 4.5h0m-133 2.5h0m0 2h0m0 -3h0m0 2.5h0m0 2h0m1.5 0h0m0.5 -0.5h0m0 0.5h0m0.5 0h0m1 0h0m0.5 -2.5h0m0 2h0m0 0.5h0m1 -2h0m0 2h0m0.5 0h0m0.5 -1.5h0m0.5 -2.5h0m0 4h0m0.5 0h0m0.5 0h0m0.5 -4h0m0 4h0m0 -3h0m0.5 3h0m0.5 -3.5h0m0 3.5h0m0 -0.5h0m0.5 -1h0m0 1.5h0m0.5 0h0m0.5 -3.5h0m0 0.5h0m0 3h0m0.5 -4.5h0m0 4.5h0m0.5 -2h0m0.5 -2h0m0 4h0m0.5 0h0m0.5 -4.5h0m0.5 4.5h0m0.5 -4h0m0 -0.5h0m0 2h0m0 0.5h0m0 2h0m0 -1.5h0m0.5 -1.5h0m0.5 3h0m0.5 -3h0m0 1.5h0m0 1.5h0m0.5 0h0m0 -3.5h0m0.5 2.5h0m0 -1h0m0 2h0m0.5 -1h0m0 -1.5h0m0 2.5h0m0 -0.5h0m0.5 -1.5h0m0 1.5h0m0 0.5h0m0.5 0h0m0 -4h0m0.5 3h0m0 1h0m0 -3h0m0 -0.5h0m0.5 -1h0m0 4.5h0m0 -3.5h0m0.5 3.5h0m0.5 -3h0m0 2h0m0 -3h0m0 4h0m0.5 -1h0m0 -1.5h0m0 2.5h0m0 -3.5h0m0.5 1.5h0m0 0.5h0m0.5 1.5h0m0.5 -1.5h0m0 1.5h0m0.5 -4h0m0 4h0m0.5 -1.5h0m0 -3h0m0 4.5h0m0.5 -3h0m0 2h0m0 -3h0m0 -0.5h0m0 2h0m0 2.5h0m0.5 -2h0m0 2h0m0.5 -2.5h0m0 2.5h0m0.5 -4.5h0m0 2.5h0m0 2h0m0 -0.5h0m0 -1h0m0.5 1h0m0 0.5h0m0 -1.5h0m0.5 -0.5h0m0 2h0m0 -0.5h0m0 -2.5h0m0 -0.5h0m0 2h0m0 0.5h0m0.5 -3h0m0 4h0m0 -3h0m0.5 3h0m0 -0.5h0m0 -3h0m0.5 2.5h0m0 -0.5h0m0 -3h0m0 2h0m0 2.5h0m0 -3.5h0m0.5 -1h0m0 0.5h0m0 4h0m0 -3.5h0m0.5 3.5h0m0 -3.5h0m0 -1h0m0 0.5h0m0.5 4h0m0 -0.5h0m0.5 -0.5h0m0 1h0m0.5 -3.5h0m0 -1h0m0 4.5h0m0 -0.5h0m0.5 0.5h0m0 -0.5h0m0 -2.5h0m0 -0.5h0m0 2.5h0m0.5 1h0m0 -3.5h0m0 0.5h0m0.5 0h0m0 1.5h0m0 1h0m0 0.5h0m0.5 0h0m0 -0.5h0m0.5 -4h0m0 0.5h0m0 4h0m0 -3h0m0 -0.5h0m0 2.5h0m0.5 -1h0m0 2h0m0 -3.5h0m0 -1h0m0.5 3.5h0m0 -0.5h0m0 -2.5h0m0 2h0m0 2h0m0 -3h0m0.5 1h0m0 2h0m0.5 0h0m0 -3.5h0m0.5 3.5h0m0.5 -4.5h0m0 0.5h0m0 2h0m0 2h0m0 -0.5h0m0 -0.5h0m0.5 1h0m0 -3h0m0.5 1h0m0 2h0m0.5 -1.5h0m0 -3h0m0 2h0m0 2.5h0m0.5 0h0m0 -1h0m0.5 -1.5h0m0 2.5h0m0 -3h0m0 2h0m0.5 -3h0m0 2h0m0 2h0m0.5 -3h0m0 0.5h0m0 2.5h0m0 -0.5h0m0.5 -0.5h0m0 -3h0m0 2h0m0 2h0m0.5 -4h0m0 4h0m0 -3.5h0m0 2h0m0.5 -1.5h0m0 -0.5h0m0 1.5h0m0 2h0m0 -0.5h0m0.5 -1h0m0 -3h0m0 4.5h0m0.5 -4h0m0 3.5h0m0 0.5h0m0 -3h0m0.5 -1h0m0 2h0m0 2h0m0 -3h0m0 1.5h0m0.5 0.5h0m0 -3.5h0m0 2h0m0 0.5h0m0 2h0m0 -3.5h0m0.5 2.5h0m0 -0.5h0m0 1.5h0m0 -3.5h0m0.5 2.5h0m0 1h0m0.5 0h0m0 -3h0m0 -0.5h0m0.5 3.5h0m0 -0.5h0m0.5 -2h0m0 2.5h0m0.5 -2.5h0m0 2.5h0m0.5 -2.5h0m0 2.5h0m0 -1h0m0.5 -3h0m0 2h0m0 2h0m0 -3.5h0m0 2.5h0m0.5 -1h0m0 2h0m0 -3h0m0.5 0.5h0m0 2.5h0m0 -1h0m0 -0.5h0m0.5 1.5h0m0 -4.5h0m0.5 4.5h0m0.5 -4.5h0m0 0.5h0m0 2h0m0 2h0m0.5 -1h0m0 -1.5h0m0 0.5h0m0 2h0m0.5 0h0m0 -3.5h0m0.5 2.5h0m0 -1.5h0m0 2.5h0m0 -3.5h0m0.5 -0.5h0m0 1.5h0m0 2h0m0 0.5h0m0 -3.5h0m0.5 1h0m0 2h0m0 0.5h0m0 -3.5h0m0 2h0m0.5 1.5h0m0 -1h0m0.5 0h0m0 -3.5h0m0 2.5h0m0 2h0m0.5 -1h0m0 -3h0m0 1.5h0m0 2.5h0m0.5 -0.5h0m0 0.5h0m0.5 -4h0m0 1.5h0m0.5 -1.5h0m0 4h0m0 -3.5h0m0 2h0m0.5 1.5h0m0 -3.5h0m0 2.5h0m0.5 1h0m0.5 0h0m0.5 -4.5h0m0 4.5h0m0.5 -2h0m0 2h0m0 -1.5h0m0.5 -1.5h0m0 2h0m0 1h0m0.5 0h0m0.5 0h0m0.5 -2.5h0m0 2.5h0m0.5 -3.5h0m0 -0.5h0m0 1.5h0m0 2.5h0m0.5 -1.5h0m0 1.5h0m0.5 0h0m0 -3.5h0m0 2h0m0 0.5h0m0.5 -3.5h0m0 4.5h0m0 -3.5h0m0.5 1.5h0m0 2h0m0.5 -2.5h0m0 2.5h0m0 -0.5h0m0 -2.5h0m0.5 -1h0m0 4h0m0 -1.5h0m0.5 -0.5h0m0 2h0m0.5 -3.5h0m0 0.5h0m0 -1.5h0m0 0.5h0m0 1.5h0m0 2.5h0m0.5 -3.5h0m0 -1h0m0 2.5h0m0 2h0m0.5 0h0m0 -3.5h0m0.5 3.5h0m0.5 -4.5h0m0 4.5h0m0.5 -4h0m0 3.5h0m0 0.5h0m0 -3.5h0m0.5 0h0m0 2h0m0.5 1.5h0m0.5 -4h0m0.5 4h0m0 -1h0m0.5 -3h0m0 1.5h0m0 2.5h0m0.5 0h0m0.5 -4.5h0m0 4.5h0m0.5 -4h0m0 4h0m0.5 -4h0m0 4h0m0 -0.5h0m0.5 0.5h0m0 -1.5h0m0.5 1.5h0m0 -3.5h0m0 2h0m1 -1h0m0 2.5h0m0.5 -3h0m0 2.5h0m0 0.5h0m0.5 -1h0m0 -3.5h0m0 2.5h0m0 2h0m0.5 -1.5h0m0 -2.5h0m0 -0.5h0m0 4.5h0m0.5 -4h0m0 4h0m0.5 -3h0m0 -1.5h0m0 4.5h0m0.5 -2.5h0m0 2.5h0m0.5 0h0m0.5 0h0m0.5 0h0m0 -3h0m0.5 3h0m0 -0.5h0m0.5 -2h0m0 2.5h0m0.5 -2h0m0 1.5h0m0.5 0.5h0m1 -2h0m0 2h0m0.5 0h0m0.5 0h0m0 -3h0m0.5 3h0m0.5 0h0m0.5 0h0m0.5 0h0m0.5 0h0m0 -1h0m0.5 -3.5h0m0 1h0m0.5 -1h0m0 4.5h0m0.5 -4h0m0 4h0m0 -3h0m0.5 3h0m0.5 -4.5h0m0 4.5h0m0 -3.5h0m1 3.5h0m0 -3h0m1.5 2.5h0m0 0.5h0m0.5 0h0m0 -3h0m0.5 3h0m0 -3h0m0.5 -1.5h0m0 4.5h0m0.5 0h0m0 -3h0m0.5 -1.5h0m0 4.5h0m0 -3.5h0m0.5 1h0m0 2.5h0m0.5 -4.5h0m0 4.5h0m0.5 0h0m1 0h0m0.5 -1.5h0m0.5 -1h0m0 -1h0m0.5 -0.5h0m0 4h0m0.5 -2h0m0 2h0m0.5 0h0m0.5 -2.5h0m0 0.5h0m0 2h0m0.5 0h0m0 -3.5h0m0 -0.5h0m0.5 4h0m1 -2.5h0m0 2.5h0m0.5 -4h0m0 -0.5h0m0 4.5h0m0 -1h0m0.5 1h0m0.5 -2h0m0 2h0m0.5 -2h0m0 2h0m0.5 0h0m0.5 -4h0m0 4h0m0.5 0h0m0 -0.5h0m0 -1h0m0.5 -2.5h0m0.5 2.5h0m0.5 1.5h0m0 -3.5h0m0.5 3.5h0m0.5 -0.5h0m0 -1h0m0.5 1.5h0m0.5 -3h0m0.5 3h0m0 -1h0m1 -2h0m0.5 3h0m0.5 -4h0m0 4h0m1 0h0m0 -4.5h0m0.5 2.5h0m1 2h0m0.5 -3.5h0m0.5 2.5h0m0 -0.5h0m0.5 1.5h0m0 -4h0m0.5 4h0m1.5 0h0m0 -4h0m0.5 4h0m0 -3h0m0.5 3h0m0.5 0h0m0.5 -2.5h0m0 2h0m0.5 0.5h0m0 -3h0m0.5 3h0m0 -3.5h0m0.5 2h0m0.5 1.5h0m0 -4h0m1 0h0m0.5 0.5h0m0 0.5h0m1 3h0m0 -3h0m1.5 3h0m1 0h0m2.5 -1.5h0m0.5 -2h0m1 -1h0m1.5 3.5h0m5.5 1h0"/>
</svg></body></html>
